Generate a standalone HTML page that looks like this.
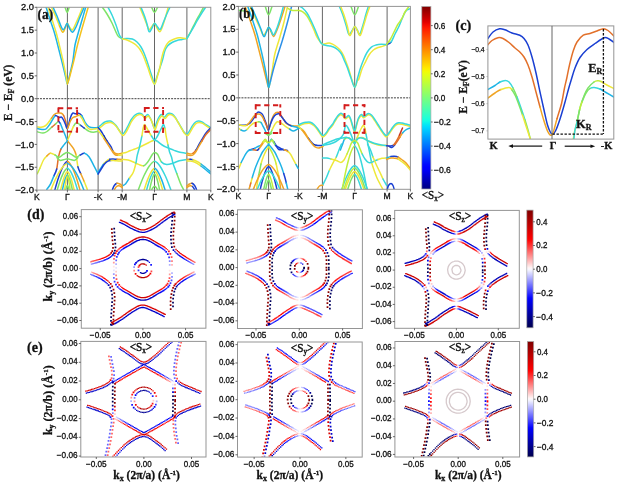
<!DOCTYPE html>
<html><head><meta charset="utf-8"><style>
html,body{margin:0;padding:0;background:#fff;}
svg{display:block;will-change:transform;}
</style></head><body>
<svg width="617" height="485" viewBox="0 0 617 485">
<rect width="617" height="485" fill="#fff"/>
<defs><linearGradient id="g0" x1="0" y1="0" x2="0" y2="1"><stop offset="0.000" stop-color="#800000"/><stop offset="0.017" stop-color="#930000"/><stop offset="0.034" stop-color="#a70000"/><stop offset="0.051" stop-color="#ba0000"/><stop offset="0.068" stop-color="#ce0000"/><stop offset="0.085" stop-color="#e20000"/><stop offset="0.102" stop-color="#f50b00"/><stop offset="0.119" stop-color="#ff1b00"/><stop offset="0.136" stop-color="#ff2b00"/><stop offset="0.153" stop-color="#ff3b00"/><stop offset="0.169" stop-color="#ff4b00"/><stop offset="0.186" stop-color="#ff5b00"/><stop offset="0.203" stop-color="#ff6b00"/><stop offset="0.220" stop-color="#ff7b00"/><stop offset="0.237" stop-color="#ff8b00"/><stop offset="0.254" stop-color="#ff9b00"/><stop offset="0.271" stop-color="#ffab00"/><stop offset="0.288" stop-color="#ffbb00"/><stop offset="0.305" stop-color="#ffcb00"/><stop offset="0.322" stop-color="#ffdb00"/><stop offset="0.339" stop-color="#ffeb00"/><stop offset="0.356" stop-color="#f2fb05"/><stop offset="0.373" stop-color="#e4ff13"/><stop offset="0.390" stop-color="#d6ff21"/><stop offset="0.407" stop-color="#c8ff2f"/><stop offset="0.424" stop-color="#baff3d"/><stop offset="0.441" stop-color="#acff4b"/><stop offset="0.458" stop-color="#9eff59"/><stop offset="0.475" stop-color="#90ff66"/><stop offset="0.492" stop-color="#82ff74"/><stop offset="0.508" stop-color="#74ff82"/><stop offset="0.525" stop-color="#66ff90"/><stop offset="0.542" stop-color="#59ff9e"/><stop offset="0.559" stop-color="#4bffac"/><stop offset="0.576" stop-color="#3dffba"/><stop offset="0.593" stop-color="#2fffc8"/><stop offset="0.610" stop-color="#21ffd6"/><stop offset="0.627" stop-color="#13fde4"/><stop offset="0.644" stop-color="#05ecf2"/><stop offset="0.661" stop-color="#00daff"/><stop offset="0.678" stop-color="#00c9ff"/><stop offset="0.695" stop-color="#00b8ff"/><stop offset="0.712" stop-color="#00a6ff"/><stop offset="0.729" stop-color="#0095ff"/><stop offset="0.746" stop-color="#0084ff"/><stop offset="0.763" stop-color="#0073ff"/><stop offset="0.780" stop-color="#0061ff"/><stop offset="0.797" stop-color="#0050ff"/><stop offset="0.814" stop-color="#003fff"/><stop offset="0.831" stop-color="#002dff"/><stop offset="0.847" stop-color="#001cff"/><stop offset="0.864" stop-color="#000bff"/><stop offset="0.881" stop-color="#0000ff"/><stop offset="0.898" stop-color="#0000f5"/><stop offset="0.915" stop-color="#0000e2"/><stop offset="0.932" stop-color="#0000ce"/><stop offset="0.949" stop-color="#0000ba"/><stop offset="0.966" stop-color="#0000a7"/><stop offset="0.983" stop-color="#000093"/><stop offset="1.000" stop-color="#000080"/></linearGradient></defs>
<rect x="421.8" y="6.5" width="9.1" height="182.5" fill="url(#g0)" stroke="#a8a8a8" stroke-width="0.7"/>
<line x1="430.9" y1="25.6" x2="432.7" y2="25.6" stroke="#444" stroke-width="0.8" />
<text x="433.9" y="28.5" font-size="8.2" font-family="Liberation Sans, sans-serif" font-weight="normal" fill="#111" text-anchor="start" stroke="#111" stroke-width="0.3" textLength="11.4" lengthAdjust="spacingAndGlyphs" >0.6</text>
<line x1="430.9" y1="49.7" x2="432.7" y2="49.7" stroke="#444" stroke-width="0.8" />
<text x="433.9" y="52.6" font-size="8.2" font-family="Liberation Sans, sans-serif" font-weight="normal" fill="#111" text-anchor="start" stroke="#111" stroke-width="0.3" textLength="11.4" lengthAdjust="spacingAndGlyphs" >0.4</text>
<line x1="430.9" y1="73.8" x2="432.7" y2="73.8" stroke="#444" stroke-width="0.8" />
<text x="433.9" y="76.7" font-size="8.2" font-family="Liberation Sans, sans-serif" font-weight="normal" fill="#111" text-anchor="start" stroke="#111" stroke-width="0.3" textLength="11.4" lengthAdjust="spacingAndGlyphs" >0.2</text>
<line x1="430.9" y1="97.9" x2="432.7" y2="97.9" stroke="#444" stroke-width="0.8" />
<text x="433.9" y="100.8" font-size="8.2" font-family="Liberation Sans, sans-serif" font-weight="normal" fill="#111" text-anchor="start" stroke="#111" stroke-width="0.3" textLength="11.4" lengthAdjust="spacingAndGlyphs" >0.0</text>
<line x1="430.9" y1="122" x2="432.7" y2="122" stroke="#444" stroke-width="0.8" />
<text x="433.9" y="124.9" font-size="8.2" font-family="Liberation Sans, sans-serif" font-weight="normal" fill="#111" text-anchor="start" stroke="#111" stroke-width="0.3" textLength="17" lengthAdjust="spacingAndGlyphs" >−0.2</text>
<line x1="430.9" y1="146.1" x2="432.7" y2="146.1" stroke="#444" stroke-width="0.8" />
<text x="433.9" y="149" font-size="8.2" font-family="Liberation Sans, sans-serif" font-weight="normal" fill="#111" text-anchor="start" stroke="#111" stroke-width="0.3" textLength="17" lengthAdjust="spacingAndGlyphs" >−0.4</text>
<line x1="430.9" y1="170.2" x2="432.7" y2="170.2" stroke="#444" stroke-width="0.8" />
<text x="433.9" y="173.1" font-size="8.2" font-family="Liberation Sans, sans-serif" font-weight="normal" fill="#111" text-anchor="start" stroke="#111" stroke-width="0.3" textLength="17" lengthAdjust="spacingAndGlyphs" >−0.6</text>
<text x="421.8" y="198.6" font-size="12.5" font-family="Liberation Serif, serif" fill="#111" stroke="#111" stroke-width="0.35" textLength="22.3" lengthAdjust="spacingAndGlyphs">&lt;S<tspan font-size="8" dy="2">x</tspan><tspan dy="-2">&gt;</tspan></text>
<defs><linearGradient id="g17" x1="0" y1="0" x2="0" y2="1"><stop offset="0.000" stop-color="#800000"/><stop offset="0.017" stop-color="#880000"/><stop offset="0.034" stop-color="#910000"/><stop offset="0.051" stop-color="#990000"/><stop offset="0.068" stop-color="#a20000"/><stop offset="0.085" stop-color="#ab0000"/><stop offset="0.102" stop-color="#b30000"/><stop offset="0.119" stop-color="#bc0000"/><stop offset="0.136" stop-color="#c50000"/><stop offset="0.153" stop-color="#cd0000"/><stop offset="0.169" stop-color="#d60000"/><stop offset="0.186" stop-color="#df0000"/><stop offset="0.203" stop-color="#e70000"/><stop offset="0.220" stop-color="#f00000"/><stop offset="0.237" stop-color="#f90000"/><stop offset="0.254" stop-color="#ff0404"/><stop offset="0.271" stop-color="#ff1616"/><stop offset="0.288" stop-color="#ff2727"/><stop offset="0.305" stop-color="#ff3838"/><stop offset="0.322" stop-color="#ff4949"/><stop offset="0.339" stop-color="#ff5b5b"/><stop offset="0.356" stop-color="#ff6c6c"/><stop offset="0.373" stop-color="#ff7d7d"/><stop offset="0.390" stop-color="#ff8f8f"/><stop offset="0.407" stop-color="#ffa0a0"/><stop offset="0.424" stop-color="#ffb1b1"/><stop offset="0.441" stop-color="#ffc2c2"/><stop offset="0.458" stop-color="#ffd4d4"/><stop offset="0.475" stop-color="#ffe5e5"/><stop offset="0.492" stop-color="#fff6f6"/><stop offset="0.508" stop-color="#f6f6ff"/><stop offset="0.525" stop-color="#e5e5ff"/><stop offset="0.542" stop-color="#d4d4ff"/><stop offset="0.559" stop-color="#c2c2ff"/><stop offset="0.576" stop-color="#b1b1ff"/><stop offset="0.593" stop-color="#a0a0ff"/><stop offset="0.610" stop-color="#8f8fff"/><stop offset="0.627" stop-color="#7d7dff"/><stop offset="0.644" stop-color="#6c6cff"/><stop offset="0.661" stop-color="#5b5bff"/><stop offset="0.678" stop-color="#4949ff"/><stop offset="0.695" stop-color="#3838ff"/><stop offset="0.712" stop-color="#2727ff"/><stop offset="0.729" stop-color="#1616ff"/><stop offset="0.746" stop-color="#0404ff"/><stop offset="0.763" stop-color="#0000f6"/><stop offset="0.780" stop-color="#0000ea"/><stop offset="0.797" stop-color="#0000de"/><stop offset="0.814" stop-color="#0000d2"/><stop offset="0.831" stop-color="#0000c6"/><stop offset="0.847" stop-color="#0000b9"/><stop offset="0.864" stop-color="#0000ad"/><stop offset="0.881" stop-color="#0000a1"/><stop offset="0.898" stop-color="#000095"/><stop offset="0.915" stop-color="#000089"/><stop offset="0.932" stop-color="#00007d"/><stop offset="0.949" stop-color="#000071"/><stop offset="0.966" stop-color="#000065"/><stop offset="0.983" stop-color="#000059"/><stop offset="1.000" stop-color="#00004c"/></linearGradient></defs>
<rect x="526.8" y="210.1" width="6.3" height="117.7" fill="url(#g17)" stroke="#a8a8a8" stroke-width="0.7"/>
<line x1="533.1" y1="221.8" x2="534.9" y2="221.8" stroke="#444" stroke-width="0.8" />
<text x="536.3" y="224.7" font-size="8.2" font-family="Liberation Sans, sans-serif" font-weight="normal" fill="#111" text-anchor="start" stroke="#111" stroke-width="0.3" textLength="11" lengthAdjust="spacingAndGlyphs" >0.4</text>
<line x1="533.1" y1="245.5" x2="534.9" y2="245.5" stroke="#444" stroke-width="0.8" />
<text x="536.3" y="248.4" font-size="8.2" font-family="Liberation Sans, sans-serif" font-weight="normal" fill="#111" text-anchor="start" stroke="#111" stroke-width="0.3" textLength="11" lengthAdjust="spacingAndGlyphs" >0.2</text>
<line x1="533.1" y1="269.2" x2="534.9" y2="269.2" stroke="#444" stroke-width="0.8" />
<text x="536.3" y="272.1" font-size="8.2" font-family="Liberation Sans, sans-serif" font-weight="normal" fill="#111" text-anchor="start" stroke="#111" stroke-width="0.3" textLength="11" lengthAdjust="spacingAndGlyphs" >0.0</text>
<line x1="533.1" y1="292.9" x2="534.9" y2="292.9" stroke="#444" stroke-width="0.8" />
<text x="536.3" y="295.8" font-size="8.2" font-family="Liberation Sans, sans-serif" font-weight="normal" fill="#111" text-anchor="start" stroke="#111" stroke-width="0.3" textLength="16.6" lengthAdjust="spacingAndGlyphs" >−0.2</text>
<line x1="533.1" y1="316.6" x2="534.9" y2="316.6" stroke="#444" stroke-width="0.8" />
<text x="536.3" y="319.5" font-size="8.2" font-family="Liberation Sans, sans-serif" font-weight="normal" fill="#111" text-anchor="start" stroke="#111" stroke-width="0.3" textLength="16.6" lengthAdjust="spacingAndGlyphs" >−0.4</text>
<defs><linearGradient id="g29" x1="0" y1="0" x2="0" y2="1"><stop offset="0.000" stop-color="#800000"/><stop offset="0.017" stop-color="#880000"/><stop offset="0.034" stop-color="#910000"/><stop offset="0.051" stop-color="#990000"/><stop offset="0.068" stop-color="#a20000"/><stop offset="0.085" stop-color="#ab0000"/><stop offset="0.102" stop-color="#b30000"/><stop offset="0.119" stop-color="#bc0000"/><stop offset="0.136" stop-color="#c50000"/><stop offset="0.153" stop-color="#cd0000"/><stop offset="0.169" stop-color="#d60000"/><stop offset="0.186" stop-color="#df0000"/><stop offset="0.203" stop-color="#e70000"/><stop offset="0.220" stop-color="#f00000"/><stop offset="0.237" stop-color="#f90000"/><stop offset="0.254" stop-color="#ff0404"/><stop offset="0.271" stop-color="#ff1616"/><stop offset="0.288" stop-color="#ff2727"/><stop offset="0.305" stop-color="#ff3838"/><stop offset="0.322" stop-color="#ff4949"/><stop offset="0.339" stop-color="#ff5b5b"/><stop offset="0.356" stop-color="#ff6c6c"/><stop offset="0.373" stop-color="#ff7d7d"/><stop offset="0.390" stop-color="#ff8f8f"/><stop offset="0.407" stop-color="#ffa0a0"/><stop offset="0.424" stop-color="#ffb1b1"/><stop offset="0.441" stop-color="#ffc2c2"/><stop offset="0.458" stop-color="#ffd4d4"/><stop offset="0.475" stop-color="#ffe5e5"/><stop offset="0.492" stop-color="#fff6f6"/><stop offset="0.508" stop-color="#f6f6ff"/><stop offset="0.525" stop-color="#e5e5ff"/><stop offset="0.542" stop-color="#d4d4ff"/><stop offset="0.559" stop-color="#c2c2ff"/><stop offset="0.576" stop-color="#b1b1ff"/><stop offset="0.593" stop-color="#a0a0ff"/><stop offset="0.610" stop-color="#8f8fff"/><stop offset="0.627" stop-color="#7d7dff"/><stop offset="0.644" stop-color="#6c6cff"/><stop offset="0.661" stop-color="#5b5bff"/><stop offset="0.678" stop-color="#4949ff"/><stop offset="0.695" stop-color="#3838ff"/><stop offset="0.712" stop-color="#2727ff"/><stop offset="0.729" stop-color="#1616ff"/><stop offset="0.746" stop-color="#0404ff"/><stop offset="0.763" stop-color="#0000f6"/><stop offset="0.780" stop-color="#0000ea"/><stop offset="0.797" stop-color="#0000de"/><stop offset="0.814" stop-color="#0000d2"/><stop offset="0.831" stop-color="#0000c6"/><stop offset="0.847" stop-color="#0000b9"/><stop offset="0.864" stop-color="#0000ad"/><stop offset="0.881" stop-color="#0000a1"/><stop offset="0.898" stop-color="#000095"/><stop offset="0.915" stop-color="#000089"/><stop offset="0.932" stop-color="#00007d"/><stop offset="0.949" stop-color="#000071"/><stop offset="0.966" stop-color="#000065"/><stop offset="0.983" stop-color="#000059"/><stop offset="1.000" stop-color="#00004c"/></linearGradient></defs>
<rect x="527.4" y="341.5" width="6.3" height="115.4" fill="url(#g29)" stroke="#a8a8a8" stroke-width="0.7"/>
<line x1="533.7" y1="351.8" x2="535.5" y2="351.8" stroke="#444" stroke-width="0.8" />
<text x="536.9" y="354.7" font-size="8.2" font-family="Liberation Sans, sans-serif" font-weight="normal" fill="#111" text-anchor="start" stroke="#111" stroke-width="0.3" textLength="11" lengthAdjust="spacingAndGlyphs" >0.4</text>
<line x1="533.7" y1="375.5" x2="535.5" y2="375.5" stroke="#444" stroke-width="0.8" />
<text x="536.9" y="378.4" font-size="8.2" font-family="Liberation Sans, sans-serif" font-weight="normal" fill="#111" text-anchor="start" stroke="#111" stroke-width="0.3" textLength="11" lengthAdjust="spacingAndGlyphs" >0.2</text>
<line x1="533.7" y1="399.2" x2="535.5" y2="399.2" stroke="#444" stroke-width="0.8" />
<text x="536.9" y="402.1" font-size="8.2" font-family="Liberation Sans, sans-serif" font-weight="normal" fill="#111" text-anchor="start" stroke="#111" stroke-width="0.3" textLength="11" lengthAdjust="spacingAndGlyphs" >0.0</text>
<line x1="533.7" y1="422.9" x2="535.5" y2="422.9" stroke="#444" stroke-width="0.8" />
<text x="536.9" y="425.8" font-size="8.2" font-family="Liberation Sans, sans-serif" font-weight="normal" fill="#111" text-anchor="start" stroke="#111" stroke-width="0.3" textLength="16.6" lengthAdjust="spacingAndGlyphs" >−0.2</text>
<line x1="533.7" y1="446.6" x2="535.5" y2="446.6" stroke="#444" stroke-width="0.8" />
<text x="536.9" y="449.5" font-size="8.2" font-family="Liberation Sans, sans-serif" font-weight="normal" fill="#111" text-anchor="start" stroke="#111" stroke-width="0.3" textLength="16.6" lengthAdjust="spacingAndGlyphs" >−0.4</text>
<line x1="36.9" y1="98.7" x2="210.8" y2="98.7" stroke="#2a2a2a" stroke-width="0.9" stroke-dasharray="2 1.05"/>
<line x1="67.4" y1="7.3" x2="67.4" y2="190.1" stroke="#666" stroke-width="1.0" />
<line x1="98.1" y1="7.3" x2="98.1" y2="190.1" stroke="#666" stroke-width="1.0" />
<line x1="122.2" y1="7.3" x2="122.2" y2="190.1" stroke="#666" stroke-width="1.0" />
<line x1="154.5" y1="7.3" x2="154.5" y2="190.1" stroke="#666" stroke-width="1.0" />
<line x1="186.9" y1="7.3" x2="186.9" y2="190.1" stroke="#666" stroke-width="1.0" />
<line x1="238.4" y1="97.85" x2="410.4" y2="97.85" stroke="#2a2a2a" stroke-width="0.9" stroke-dasharray="2 1.05"/>
<line x1="268.6" y1="6.4" x2="268.6" y2="189.3" stroke="#666" stroke-width="1.0" />
<line x1="298.5" y1="6.4" x2="298.5" y2="189.3" stroke="#666" stroke-width="1.0" />
<line x1="322.4" y1="6.4" x2="322.4" y2="189.3" stroke="#666" stroke-width="1.0" />
<line x1="354.7" y1="6.4" x2="354.7" y2="189.3" stroke="#666" stroke-width="1.0" />
<line x1="387.1" y1="6.4" x2="387.1" y2="189.3" stroke="#666" stroke-width="1.0" />
<defs><clipPath id="clipA"><rect x="36.9" y="7.3" width="173.9" height="182.8"/></clipPath></defs>
<g clip-path="url(#clipA)" fill="none" stroke-width="1.5" stroke-linecap="round" stroke-linejoin="round">
<path d="M46.1,7.3C46.83,9.58 49.1,16.72 50.5,21C51.9,25.28 53.3,29 54.5,33C55.7,37 56.62,40.83 57.7,45C58.78,49.17 59.95,53.83 61,58C62.05,62.17 63.13,66.42 64,70C64.87,73.58 65.63,77.17 66.2,79.5C66.77,81.83 67,84 67.4,84C67.8,84 68.07,81.67 68.6,79.5C69.13,77.33 69.87,74.25 70.6,71C71.33,67.75 72.27,64.33 73,60C73.73,55.67 74.08,49.67 75,45C75.92,40.33 77.33,36.17 78.5,32C79.67,27.83 80.8,24.12 82,20C83.2,15.88 85.08,9.42 85.7,7.3" stroke="#1fb4e6"/>
<path d="M48.2,7.3C48.92,9.58 51.15,16.72 52.5,21C53.85,25.28 55.17,29 56.3,33C57.43,37 58.28,40.83 59.3,45C60.32,49.17 61.47,53.83 62.4,58C63.33,62.17 64.18,66.42 64.9,70C65.62,73.58 66.28,77.17 66.7,79.5C67.12,81.83 67.03,84 67.4,84" stroke="#eee83a"/>
<path d="M67.4,84C67.77,84 68.27,81.67 68.9,79.5C69.53,77.33 70.35,74.25 71.2,71C72.05,67.75 72.95,64.33 74,60C75.05,55.67 76.33,49.67 77.5,45C78.67,40.33 79.83,36.17 81,32C82.17,27.83 83.3,24.12 84.5,20C85.7,15.88 87.58,9.42 88.2,7.3" stroke="#f4c21c"/>
<path d="M51.5,7.3C52.17,8.75 54.17,12.88 55.5,16C56.83,19.12 58.32,23.3 59.5,26" stroke="#eee83a"/>
<path d="M59.5,26C60.68,28.7 61.68,31.78 62.6,32.2C63.52,32.62 64.23,30 65,28.5C65.77,27 66.45,23.45 67.2,23.2" stroke="#f4c21c"/>
<path d="M67.2,23.2C67.95,22.95 68.62,25.9 69.5,27C70.38,28.1 71.42,30.47 72.5,29.8C73.58,29.13 74.83,25.47 76,23C77.17,20.53 78.43,17.62 79.5,15C80.57,12.38 81.92,8.58 82.4,7.3" stroke="#eee83a"/>
<path d="M53.1,7.3C53.75,8.75 55.77,13.05 57,16C58.23,18.95 59.5,22.7 60.5,25C61.5,27.3 62.22,29.47 63,29.8C63.78,30.13 64.5,28.1 65.2,27C65.9,25.9 66.48,22.95 67.2,23.2C67.92,23.45 68.62,27 69.5,28.5C70.38,30 71.42,32.45 72.5,32.2C73.58,31.95 74.75,29.53 76,27C77.25,24.47 78.65,20.28 80,17C81.35,13.72 83.42,8.92 84.1,7.3" stroke="#1fb4e6"/>
<path d="M65.1,7.3C65.45,8.15 66.52,12.4 67.2,12.4C67.88,12.4 68.87,8.15 69.2,7.3" stroke="#7ee468"/>
<path d="M102.4,7.3C103.17,8.42 105.4,11.38 107,14C108.6,16.62 110.22,19.4 112,23C113.78,26.6 116,32.98 117.7,35.6C119.4,38.22 121.45,38.18 122.2,38.7" stroke="#7ee468"/>
<path d="M108,7.3C108.67,8.58 110.67,12.05 112,15C113.33,17.95 114.77,21.67 116,25C117.23,28.33 118.37,32.72 119.4,35C120.43,37.28 121.73,38.08 122.2,38.7" stroke="#38d8dc"/>
<path d="M122.2,38.7C123,38.67 125.3,38.45 127,38.5C128.7,38.55 130.73,38.42 132.4,39C134.07,39.58 135.57,40.67 137,42C138.43,43.33 139.83,45.17 141,47C142.17,48.83 143.07,50.83 144,53C144.93,55.17 145.68,57.33 146.6,60C147.52,62.67 148.52,66 149.5,69C150.48,72 151.67,75.47 152.5,78C153.33,80.53 153.83,84.2 154.5,84.2C155.17,84.2 155.67,80.53 156.5,78C157.33,75.47 158.5,72 159.5,69C160.5,66 161.62,63 162.5,60C163.38,57 163.97,53.33 164.8,51C165.63,48.67 166.3,47.42 167.5,46C168.7,44.58 170.42,43.42 172,42.5C173.58,41.58 175.33,41 177,40.5C178.67,40 180.35,39.83 182,39.5C183.65,39.17 186.08,38.67 186.9,38.5" stroke="#38d8dc"/>
<path d="M122.2,38.7C123,38.92 125.37,39.38 127,40C128.63,40.62 130.5,41.57 132,42.4C133.5,43.23 134.67,43.82 136,45C137.33,46.18 138.83,47.83 140,49.5C141.17,51.17 142.17,53.25 143,55C143.83,56.75 144.17,57.83 145,60C145.83,62.17 147,65.17 148,68C149,70.83 149.92,74.3 151,77C152.08,79.7 153.42,84.37 154.5,84.2C155.58,84.03 156.58,78.87 157.5,76C158.42,73.13 159.37,69.67 160,67C160.63,64.33 160.8,62.33 161.3,60C161.8,57.67 162.47,54.88 163,53C163.53,51.12 163.83,50.2 164.5,48.7C165.17,47.2 166.08,45.28 167,44C167.92,42.72 168.3,42.02 170,41C171.7,39.98 175.2,38.4 177.2,37.9C179.2,37.4 180.38,37.9 182,38C183.62,38.1 186.08,38.42 186.9,38.5" stroke="#eee83a"/>
<path d="M186.9,38.5C187.58,37.25 189.57,33.75 191,31C192.43,28.25 194.02,24.83 195.5,22C196.98,19.17 198.57,16.45 199.9,14C201.23,11.55 202.9,8.42 203.5,7.3" stroke="#7ee468"/>
<path d="M186.9,38.5C187.75,37.08 190.32,32.92 192,30C193.68,27.08 195.42,23.75 197,21C198.58,18.25 200.07,15.78 201.5,13.5C202.93,11.22 204.92,8.33 205.6,7.3" stroke="#38d8dc"/>
<path d="M139.8,7.3C140.33,8.58 141.93,12.38 143,15C144.07,17.62 145.22,20.6 146.2,23C147.18,25.4 148.02,28.73 148.9,29.4C149.78,30.07 150.57,28.03 151.5,27C152.43,25.97 153.58,23.03 154.5,23.2C155.42,23.37 156.08,26.58 157,28C157.92,29.42 159,32.2 160,31.7C161,31.2 162.03,27.62 163,25C163.97,22.38 164.93,18.95 165.8,16C166.67,13.05 167.8,8.75 168.2,7.3" stroke="#eee83a"/>
<path d="M141,7.3C141.58,8.75 143.5,13.22 144.5,16C145.5,18.78 146.22,21.38 147,24C147.78,26.62 148.37,31.03 149.2,31.7C150.03,32.37 151.12,29.42 152,28C152.88,26.58 153.63,23.45 154.5,23.2C155.37,22.95 156.25,25.47 157.2,26.5C158.15,27.53 159.15,30.15 160.2,29.4C161.25,28.65 162.4,24.57 163.5,22C164.6,19.43 165.73,16.45 166.8,14C167.87,11.55 169.38,8.42 169.9,7.3" stroke="#38d8dc"/>
<path d="M151.7,7.3C152.17,8.15 153.53,12.4 154.5,12.4C155.47,12.4 157,8.15 157.5,7.3" stroke="#7ee468"/>
<path d="M37.2,127C37.83,127.03 39.7,127.37 41,127.2C42.3,127.03 43.83,126.7 45,126C46.17,125.3 46.92,124.3 48,123C49.08,121.7 50.5,119.57 51.5,118.2" stroke="#eee83a"/>
<path d="M51.5,118.2C52.5,116.83 53.25,115.6 54,114.8C54.75,114 55.25,113.68 56,113.4C56.75,113.12 57.6,113.12 58.5,113.1C59.4,113.08 60.55,112.9 61.4,113.3C62.25,113.7 62.9,114.22 63.6,115.5" stroke="#f0a424"/>
<path d="M63.6,115.5C64.3,116.78 64.97,118.83 65.6,121C66.23,123.17 66.63,128.97 67.4,128.5" stroke="#e2702a"/>
<path d="M67.4,128.5C68.17,128.03 69.32,120.75 70.2,118.2C71.08,115.65 71.82,113.93 72.7,113.2C73.58,112.47 74.53,113.8 75.5,113.8C76.47,113.8 77.45,112.88 78.5,113.2C79.55,113.52 80.7,114.18 81.8,115.7" stroke="#1a3fd2"/>
<path d="M81.8,115.7C82.9,117.22 83.87,120.43 85.1,122.3C86.33,124.17 87.55,126 89.2,126.9C90.85,127.8 93.52,127.63 95,127.7C96.48,127.77 97.58,127.37 98.1,127.3" stroke="#1fb4e6"/>
<path d="M37.2,128.5C38,128.67 40.53,129.42 42,129.5C43.47,129.58 44.67,129.92 46,129C47.33,128.08 48.75,125.83 50,124C51.25,122.17 52.58,119.42 53.5,118C54.42,116.58 54.83,115.75 55.5,115.5" stroke="#1fb4e6"/>
<path d="M55.5,115.5C56.17,115.25 56.83,116.18 57.5,116.5C58.17,116.82 58.83,117.28 59.5,117.4C60.17,117.52 60.83,116.77 61.5,117.2C62.17,117.63 62.83,118.78 63.5,120C64.17,121.22 64.85,123.08 65.5,124.5C66.15,125.92 66.62,129 67.4,128.5" stroke="#1a3fd2"/>
<path d="M67.4,128.5C68.18,128 69.32,123.28 70.2,121.5C71.08,119.72 71.73,118.63 72.7,117.8C73.67,116.97 74.9,116.92 76,116.5C77.1,116.08 78.33,115.02 79.3,115.3" stroke="#f0a424"/>
<path d="M79.3,115.3C80.27,115.58 80.7,116.48 81.8,118.2C82.9,119.92 84.53,123.75 85.9,125.6C87.27,127.45 88.48,128.75 90,129.3C91.52,129.85 93.65,129.1 95,128.9C96.35,128.7 97.58,128.23 98.1,128.1" stroke="#eee83a"/>
<path d="M37.2,131.8C38.17,132 41.37,133.05 43,133C44.63,132.95 45.5,132.5 47,131.5C48.5,130.5 50.58,128.25 52,127" stroke="#7ee468"/>
<path d="M52,127C53.42,125.75 54.42,124.92 55.5,124" stroke="#e2702a"/>
<path d="M55.5,124C56.58,123.08 57.67,121.5 58.5,121.5" stroke="#7ee468"/>
<path d="M58.5,121.5C59.33,121.5 59.75,122.58 60.5,124" stroke="#1a3fd2"/>
<path d="M60.5,124C61.25,125.42 62.17,128 63,130C63.83,132 64.77,134.25 65.5,136C66.23,137.75 66.6,139.1 67.4,140.5" stroke="#1fb4e6"/>
<path d="M67.4,140.5C68.2,141.9 69.23,142.97 70.3,144.4C71.37,145.83 72.83,147.33 73.8,149.1C74.77,150.87 75.42,152.07 76.1,155" stroke="#f0a424"/>
<path d="M76.1,155C76.78,157.93 77.12,163.57 77.9,166.7" stroke="#eee83a"/>
<path d="M77.9,166.7C78.68,169.83 79.72,171.25 80.8,173.8" stroke="#1a3fd2"/>
<path d="M80.8,173.8C81.88,176.35 83.32,179.4 84.4,182" stroke="#f0a424"/>
<path d="M84.4,182C85.48,184.6 86.82,188.17 87.3,189.4" stroke="#eee83a"/>
<path d="M98.1,131.4C97.3,131.53 94.78,132.2 93.3,132.2C91.82,132.2 90.7,132.08 89.2,131.4C87.7,130.72 85.82,129.2 84.3,128.1" stroke="#7ee468"/>
<path d="M84.3,128.1C82.78,127 81.42,125.7 80.1,124.8" stroke="#1a3fd2"/>
<path d="M80.1,124.8C78.78,123.9 77.5,122.43 76.4,122.7C75.3,122.97 74.53,124.53 73.5,126.4" stroke="#7ee468"/>
<path d="M73.5,126.4C72.47,128.27 71.22,131.55 70.2,133.9C69.18,136.25 68.37,138.75 67.4,140.5" stroke="#eee83a"/>
<path d="M67.4,140.5C66.43,142.25 65.48,142.97 64.4,144.4C63.32,145.83 61.88,147 60.9,149.1" stroke="#1fb4e6"/>
<path d="M60.9,149.1C59.92,151.2 59.2,153.68 58.5,157C57.8,160.32 57.48,165.82 56.7,169" stroke="#e2702a"/>
<path d="M56.7,169C55.92,172.18 54.87,173.53 53.8,176.1" stroke="#1a3fd2"/>
<path d="M53.8,176.1C52.73,178.67 51.47,182.18 50.3,184.4C49.13,186.62 47.38,188.57 46.8,189.4" stroke="#1fb4e6"/>
<path d="M37.2,173.8C37.67,172.83 38.95,170.3 40,168" stroke="#c0ee3c"/>
<path d="M40,168C41.05,165.7 42.37,162 43.5,160C44.63,158 45.67,157.13 46.8,156" stroke="#eee83a"/>
<path d="M46.8,156C47.93,154.87 48.93,153.37 50.3,153.2" stroke="#f0a424"/>
<path d="M50.3,153.2C51.67,153.03 53.53,154.32 55,155" stroke="#eee83a"/>
<path d="M55,155C56.47,155.68 57.73,157.4 59.1,157.3C60.47,157.2 61.82,155.18 63.2,154.4C64.58,153.62 66.02,152.6 67.4,152.6C68.78,152.6 70.05,153.62 71.5,154.4C72.95,155.18 74.65,157.2 76.1,157.3C77.55,157.4 78.82,155.68 80.2,155" stroke="#7ee468"/>
<path d="M80.2,155C81.58,154.32 82.93,152.92 84.4,153.2" stroke="#1a3fd2"/>
<path d="M84.4,153.2C85.87,153.48 87.43,154.63 89,156.7C90.57,158.77 92.28,162.75 93.8,165.6C95.32,168.45 97.38,172.43 98.1,173.8" stroke="#1fb4e6"/>
<path d="M57,157.6C57.5,158.05 58.92,159.93 60,160.3C61.08,160.67 62.27,160.05 63.5,159.8C64.73,159.55 66.1,158.8 67.4,158.8C68.7,158.8 70.07,159.55 71.3,159.8C72.53,160.05 73.72,160.67 74.8,160.3C75.88,159.93 77.3,158.05 77.8,157.6" stroke="#7ee468"/>
<path d="M54.8,190C55.15,188.79 56.2,185.02 56.9,182.74C57.6,180.46 58.3,178.3 59,176.3C59.7,174.31 60.4,172.44 61.1,170.77C61.8,169.09 62.5,167.55 63.2,166.25C63.9,164.94 64.6,163.76 65.3,162.93C66,162.11 66.7,161.3 67.4,161.3" stroke="#1a3fd2"/>
<path d="M67.4,161.3C68.1,161.3 68.8,162.11 69.5,162.93C70.2,163.76 70.9,164.94 71.6,166.25C72.3,167.55 73,169.09 73.7,170.77C74.4,172.44 75.1,174.31 75.8,176.3C76.5,178.3 77.2,180.46 77.9,182.74C78.6,185.02 79.65,188.79 80,190" stroke="#f0a424"/>
<path d="M57.2,190C57.48,189.08 58.33,186.22 58.9,184.48C59.47,182.75 60.03,181.11 60.6,179.59C61.17,178.08 61.73,176.66 62.3,175.39C62.87,174.12 63.43,172.95 64,171.96C64.57,170.97 65.13,170.07 65.7,169.44C66.27,168.81 66.83,168.2 67.4,168.2" stroke="#7ee468"/>
<path d="M67.4,168.2C67.97,168.2 68.53,168.81 69.1,169.44C69.67,170.07 70.23,170.97 70.8,171.96C71.37,172.95 71.93,174.12 72.5,175.39C73.07,176.66 73.63,178.08 74.2,179.59C74.77,181.11 75.33,182.75 75.9,184.48C76.47,186.22 77.32,189.08 77.6,190" stroke="#38d8dc"/>
<path d="M60.6,190C60.79,189.23 61.36,186.83 61.73,185.37C62.11,183.91 62.49,182.54 62.87,181.27C63.24,179.99 63.62,178.81 64,177.74C64.38,176.67 64.76,175.69 65.13,174.86C65.51,174.02 65.89,173.27 66.27,172.74C66.64,172.21 67.02,171.7 67.4,171.7C67.78,171.7 68.16,172.21 68.53,172.74C68.91,173.27 69.29,174.02 69.67,174.86C70.04,175.69 70.42,176.67 70.8,177.74C71.18,178.81 71.56,179.99 71.93,181.27C72.31,182.54 72.69,183.91 73.07,185.37C73.44,186.83 74.01,189.23 74.2,190" stroke="#eee83a"/>
<path d="M62.4,190C62.54,189.37 62.96,187.42 63.23,186.23C63.51,185.04 63.79,183.92 64.07,182.89C64.34,181.85 64.62,180.89 64.9,180.02C65.18,179.15 65.46,178.35 65.73,177.67C66.01,176.99 66.29,176.38 66.57,175.95C66.84,175.52 67.12,175.1 67.4,175.1" stroke="#1fb4e6"/>
<path d="M67.4,175.1C67.68,175.1 67.96,175.52 68.23,175.95C68.51,176.38 68.79,176.99 69.07,177.67C69.34,178.35 69.62,179.15 69.9,180.02C70.18,180.89 70.46,181.85 70.73,182.89C71.01,183.92 71.29,185.04 71.57,186.23C71.84,187.42 72.26,189.37 72.4,190" stroke="#7ee468"/>
<path d="M64.6,190C64.68,189.43 64.91,187.66 65.07,186.58C65.22,185.51 65.38,184.49 65.53,183.56C65.69,182.62 65.84,181.74 66,180.95C66.16,180.17 66.31,179.44 66.47,178.83C66.62,178.21 66.78,177.66 66.93,177.27C67.09,176.88 67.24,176.5 67.4,176.5" stroke="#eee83a"/>
<path d="M67.4,176.5C67.56,176.5 67.71,176.88 67.87,177.27C68.02,177.66 68.18,178.21 68.33,178.83C68.49,179.44 68.64,180.17 68.8,180.95C68.96,181.74 69.11,182.62 69.27,183.56C69.42,184.49 69.58,185.51 69.73,186.58C69.89,187.66 70.12,189.43 70.2,190" stroke="#c0ee3c"/>
<path d="M65.8,190C65.84,189.81 65.98,189.22 66.07,188.86C66.16,188.5 66.24,188.16 66.33,187.85C66.42,187.54 66.51,187.25 66.6,186.98C66.69,186.72 66.78,186.48 66.87,186.28C66.96,186.07 67.04,185.89 67.13,185.76C67.22,185.63 67.31,185.5 67.4,185.5C67.49,185.5 67.58,185.63 67.67,185.76C67.76,185.89 67.84,186.07 67.93,186.28C68.02,186.48 68.11,186.72 68.2,186.98C68.29,187.25 68.38,187.54 68.47,187.85C68.56,188.16 68.64,188.5 68.73,188.86C68.82,189.22 68.96,189.81 69,190" stroke="#7ee468"/>
<path d="M50.9,190C51.36,188.88 52.73,185.4 53.65,183.3C54.57,181.19 55.48,179.19 56.4,177.35C57.32,175.51 58.23,173.79 59.15,172.24C60.07,170.69 60.98,169.28 61.9,168.07C62.82,166.86 63.73,165.77 64.65,165.01C65.57,164.25 66.48,163.5 67.4,163.5" stroke="#eee83a"/>
<path d="M67.4,163.5C68.32,163.5 69.23,164.25 70.15,165.01C71.07,165.77 71.98,166.86 72.9,168.07C73.82,169.28 74.73,170.69 75.65,172.24C76.57,173.79 77.48,175.51 78.4,177.35C79.32,179.19 80.23,181.19 81.15,183.3C82.07,185.4 83.44,188.88 83.9,190" stroke="#1fb4e6"/>
<path d="M98.1,127.6C98.58,127.17 100.02,125.85 101,125C101.98,124.15 103,123.12 104,122.5C105,121.88 105.95,121.53 107,121.3C108.05,121.07 109.3,120.9 110.3,121.1C111.3,121.3 112.05,121.77 113,122.5C113.95,123.23 115,124.25 116,125.5C117,126.75 117.97,128.55 119,130C120.03,131.45 121.2,133.95 122.2,134.2C123.2,134.45 124.03,132.87 125,131.5C125.97,130.13 127,127.92 128,126C129,124.08 130,121.67 131,120C132,118.33 133,117.03 134,116C135,114.97 136.12,114.27 137,113.8C137.88,113.33 138.47,113.13 139.3,113.2C140.13,113.27 141.15,113.53 142,114.2C142.85,114.87 143.68,116.98 144.4,117.2C145.12,117.42 145.7,115.92 146.3,115.5C146.9,115.08 147.3,114.2 148,114.7C148.7,115.2 149.75,117.03 150.5,118.5C151.25,119.97 151.85,121.82 152.5,123.5C153.15,125.18 153.77,128.6 154.4,128.6C155.03,128.6 155.67,125.18 156.3,123.5C156.93,121.82 157.43,119.97 158.2,118.5C158.97,117.03 160.18,115.2 160.9,114.7C161.62,114.2 161.9,115.08 162.5,115.5C163.1,115.92 163.75,117.42 164.5,117.2C165.25,116.98 166.2,114.87 167,114.2C167.8,113.53 168.47,113.23 169.3,113.2C170.13,113.17 171.05,113.37 172,114C172.95,114.63 174,115.67 175,117C176,118.33 176.92,120.17 178,122C179.08,123.83 180.5,126.33 181.5,128C182.5,129.67 183.1,130.97 184,132C184.9,133.03 185.98,134.37 186.9,134.2C187.82,134.03 188.65,132.28 189.5,131C190.35,129.72 191.08,127.92 192,126.5C192.92,125.08 193.92,123.4 195,122.5C196.08,121.6 197.33,121.18 198.5,121.1C199.67,121.02 200.92,121.52 202,122C203.08,122.48 204,123.33 205,124C206,124.67 207.02,125.4 208,126C208.98,126.6 210.42,127.33 210.9,127.6" stroke="#38d8dc"/>
<path d="M98.7,129C99.18,128.57 100.62,127.25 101.6,126.4C102.58,125.55 103.6,124.52 104.6,123.9C105.6,123.28 106.55,122.93 107.6,122.7C108.65,122.47 109.9,122.3 110.9,122.5C111.9,122.7 112.65,123.17 113.6,123.9C114.55,124.63 115.6,125.65 116.6,126.9C117.6,128.15 118.57,129.95 119.6,131.4C120.63,132.85 121.8,135.35 122.8,135.6C123.8,135.85 124.63,134.27 125.6,132.9C126.57,131.53 127.6,129.32 128.6,127.4C129.6,125.48 130.6,123.07 131.6,121.4C132.6,119.73 133.6,118.43 134.6,117.4C135.6,116.37 136.72,115.67 137.6,115.2C138.48,114.73 139.07,114.53 139.9,114.6C140.73,114.67 141.75,114.93 142.6,115.6C143.45,116.27 144.28,118.38 145,118.6C145.72,118.82 146.3,117.32 146.9,116.9C147.5,116.48 147.9,115.6 148.6,116.1C149.3,116.6 150.35,118.43 151.1,119.9C151.85,121.37 152.45,123.22 153.1,124.9C153.75,126.58 154.37,130 155,130C155.63,130 156.27,126.58 156.9,124.9C157.53,123.22 158.03,121.37 158.8,119.9C159.57,118.43 160.78,116.6 161.5,116.1C162.22,115.6 162.5,116.48 163.1,116.9C163.7,117.32 164.35,118.82 165.1,118.6C165.85,118.38 166.8,116.27 167.6,115.6C168.4,114.93 169.07,114.63 169.9,114.6C170.73,114.57 171.65,114.77 172.6,115.4C173.55,116.03 174.6,117.07 175.6,118.4C176.6,119.73 177.52,121.57 178.6,123.4C179.68,125.23 181.1,127.73 182.1,129.4C183.1,131.07 183.7,132.37 184.6,133.4C185.5,134.43 186.58,135.77 187.5,135.6C188.42,135.43 189.25,133.68 190.1,132.4C190.95,131.12 191.68,129.32 192.6,127.9C193.52,126.48 194.52,124.8 195.6,123.9C196.68,123 197.93,122.58 199.1,122.5C200.27,122.42 201.52,122.92 202.6,123.4C203.68,123.88 204.6,124.73 205.6,125.4C206.6,126.07 207.62,126.8 208.6,127.4C209.58,128 211.02,128.73 211.5,129" stroke="#eee83a"/>
<path d="M98.1,127.6C98.58,128.17 100.02,129.6 101,131C101.98,132.4 103,134.33 104,136" stroke="#1a3fd2"/>
<path d="M104,136C105,137.67 105.87,139.27 107,141" stroke="#1030a8"/>
<path d="M107,141C108.13,142.73 109.8,144.73 110.8,146.4C111.8,148.07 112.22,149.82 113,151" stroke="#1a3fd2"/>
<path d="M113,151C113.78,152.18 114.58,153 115.5,153.5C116.42,154 117.38,154.03 118.5,154C119.62,153.97 120.95,153.55 122.2,153.3" stroke="#f0a424"/>
<path d="M122.2,153.3C123.45,153.05 124.7,152.92 126,152.5C127.3,152.08 128.5,151.38 130,150.8C131.5,150.22 133.33,149.63 135,149C136.67,148.37 138.33,147.75 140,147C141.67,146.25 143.5,145.25 145,144.5C146.5,143.75 147.83,143.08 149,142.5C150.17,141.92 151.1,141.38 152,141C152.9,140.62 153.57,140.2 154.4,140.2" stroke="#eee83a"/>
<path d="M154.4,140.2C155.23,140.2 156.07,140.47 157,141C157.93,141.53 159,142.65 160,143.4C161,144.15 161.9,144.85 163,145.5C164.1,146.15 165.43,146.75 166.6,147.3C167.77,147.85 168.73,148.28 170,148.8C171.27,149.32 172.53,149.82 174.2,150.4C175.87,150.98 178.28,151.87 180,152.3C181.72,152.73 183.35,152.83 184.5,153C185.65,153.17 185.98,153.13 186.9,153.3" stroke="#38d8dc"/>
<path d="M186.9,153.3C187.82,153.47 188.98,154 190,154C191.02,154 192,153.97 193,153.3" stroke="#f0a424"/>
<path d="M193,153.3C194,152.63 195.08,151.33 196,150" stroke="#e2702a"/>
<path d="M196,150C196.92,148.67 197.5,147.05 198.5,145.3C199.5,143.55 200.75,141.55 202,139.5C203.25,137.45 204.52,134.98 206,133C207.48,131.02 210.08,128.5 210.9,127.6" stroke="#1a3fd2"/>
<path d="M98.1,172C98.58,171.33 100.02,169.42 101,168C101.98,166.58 103,164.75 104,163.5" stroke="#1fb4e6"/>
<path d="M104,163.5C105,162.25 106.07,161.2 107,160.5C107.93,159.8 108.6,159.55 109.6,159.3" stroke="#eee83a"/>
<path d="M109.6,159.3C110.6,159.05 111.77,159 113,159C114.23,159 115.47,159.23 117,159.3" stroke="#1a3fd2"/>
<path d="M117,159.3C118.53,159.37 120.33,159.28 122.2,159.4" stroke="#f0a424"/>
<path d="M122.2,159.4C124.07,159.52 125.92,159.37 128.2,160C130.48,160.63 133.93,162.37 135.9,163.2C137.87,164.03 138.72,164.57 140,165C141.28,165.43 142.52,166.05 143.6,165.8" stroke="#eee83a"/>
<path d="M143.6,165.8C144.68,165.55 145.65,164.35 146.5,163.5C147.35,162.65 147.7,162.23 148.7,160.7C149.7,159.17 151.5,155.68 152.5,154.3C153.5,152.92 153.85,152.4 154.7,152.4C155.55,152.4 156.47,152.7 157.6,154.3C158.73,155.9 160,160.3 161.5,162" stroke="#7ee468"/>
<path d="M161.5,162C163,163.7 164.68,164.3 166.6,164.5C168.52,164.7 170.88,163.83 173,163.2C175.12,162.57 176.98,161.33 179.3,160.7C181.62,160.07 185.12,159.63 186.9,159.4" stroke="#38d8dc"/>
<path d="M186.9,159.4C188.68,159.17 188.98,159.23 190,159.3" stroke="#f0a424"/>
<path d="M190,159.3C191.02,159.37 191.83,159.43 193,159.8" stroke="#1a3fd2"/>
<path d="M193,159.8C194.17,160.17 195.67,160.8 197,161.5C198.33,162.2 199.58,163 201,164" stroke="#eee83a"/>
<path d="M201,164C202.42,165 203.85,166.17 205.5,167.5C207.15,168.83 210,171.25 210.9,172" stroke="#1fb4e6"/>
<path d="M122.2,186C122.78,185.62 124.48,185.03 125.7,183.7C126.92,182.37 128.23,179.92 129.5,178" stroke="#1fb4e6"/>
<path d="M129.5,178C130.77,176.08 132.23,174.67 133.3,172.2C134.37,169.73 135.25,165.97 135.9,163.2" stroke="#eee83a"/>
<path d="M135.9,163.2C136.55,160.43 136.6,158.3 137.2,155.6C137.8,152.9 138.72,150.3 139.5,147C140.28,143.7 141.28,138.97 141.9,135.8" stroke="#38d8dc"/>
<path d="M141.9,135.8C142.52,132.63 142.78,129.88 143.2,128C143.62,126.12 143.85,124.58 144.4,124.5C144.95,124.42 145.73,126.25 146.5,127.5C147.27,128.75 148.17,130.58 149,132C149.83,133.42 150.6,134.67 151.5,136" stroke="#eee83a"/>
<path d="M151.5,136C152.4,137.33 153.4,140 154.4,140C155.4,140 156.57,137.5 157.5,136C158.43,134.5 159.25,132.5 160,131C160.75,129.5 161.42,128.08 162,127C162.58,125.92 163,124.25 163.5,124.5C164,124.75 164.57,126.62 165,128.5" stroke="#38d8dc"/>
<path d="M165,128.5C165.43,130.38 165.6,133.05 166.1,135.8C166.6,138.55 167.43,142.35 168,145" stroke="#eee83a"/>
<path d="M168,145C168.57,147.65 168.92,149.7 169.5,151.7C170.08,153.7 170.92,155.08 171.5,157C172.08,158.92 172.12,160.45 173,163.2C173.88,165.95 175.53,170.08 176.8,173.5" stroke="#38d8dc"/>
<path d="M176.8,173.5C178.07,176.92 179.48,181.05 180.6,183.7C181.72,186.35 183.02,188.45 183.5,189.4" stroke="#7ee468"/>
<path d="M138.3,190C138.75,188.79 140.11,185.02 141.02,182.74C141.92,180.46 142.83,178.3 143.73,176.3C144.64,174.31 145.54,172.44 146.45,170.77C147.36,169.09 148.26,167.55 149.17,166.25C150.07,164.94 150.98,163.76 151.88,162.93C152.79,162.11 153.69,161.3 154.6,161.3" stroke="#7ee468"/>
<path d="M154.6,161.3C155.51,161.3 156.41,162.11 157.32,162.93C158.22,163.76 159.13,164.94 160.03,166.25C160.94,167.55 161.84,169.09 162.75,170.77C163.66,172.44 164.56,174.31 165.47,176.3C166.37,178.3 167.28,180.46 168.18,182.74C169.09,185.02 170.45,188.79 170.9,190" stroke="#38d8dc"/>
<path d="M144.1,190C144.39,189.08 145.27,186.24 145.85,184.51C146.43,182.78 147.02,181.15 147.6,179.64C148.18,178.13 148.77,176.73 149.35,175.46C149.93,174.19 150.52,173.03 151.1,172.04C151.68,171.05 152.27,170.16 152.85,169.53C153.43,168.91 154.02,168.3 154.6,168.3" stroke="#eee83a"/>
<path d="M154.6,168.3C155.18,168.3 155.77,168.91 156.35,169.53C156.93,170.16 157.52,171.05 158.1,172.04C158.68,173.03 159.27,174.19 159.85,175.46C160.43,176.73 161.02,178.13 161.6,179.64C162.18,181.15 162.77,182.78 163.35,184.51C163.93,186.24 164.81,189.08 165.1,190" stroke="#1fb4e6"/>
<path d="M146.6,190C146.82,189.2 147.49,186.7 147.93,185.19C148.38,183.68 148.82,182.25 149.27,180.93C149.71,179.61 150.16,178.38 150.6,177.27C151.04,176.16 151.49,175.14 151.93,174.28C152.38,173.41 152.82,172.63 153.27,172.08C153.71,171.53 154.16,171 154.6,171" stroke="#38d8dc"/>
<path d="M154.6,171C155.04,171 155.49,171.53 155.93,172.08C156.38,172.63 156.82,173.41 157.27,174.28C157.71,175.14 158.16,176.16 158.6,177.27C159.04,178.38 159.49,179.61 159.93,180.93C160.38,182.25 160.82,183.68 161.27,185.19C161.71,186.7 162.38,189.2 162.6,190" stroke="#eee83a"/>
<path d="M149.6,190C149.74,189.33 150.16,187.22 150.43,185.95C150.71,184.68 150.99,183.48 151.27,182.36C151.54,181.25 151.82,180.21 152.1,179.28C152.38,178.34 152.66,177.49 152.93,176.76C153.21,176.03 153.49,175.37 153.77,174.91C154.04,174.45 154.32,174 154.6,174C154.88,174 155.16,174.45 155.43,174.91C155.71,175.37 155.99,176.03 156.27,176.76C156.54,177.49 156.82,178.34 157.1,179.28C157.38,180.21 157.66,181.25 157.93,182.36C158.21,183.48 158.49,184.68 158.77,185.95C159.04,187.22 159.46,189.33 159.6,190" stroke="#7ee468"/>
<path d="M151.6,190C151.68,189.84 151.93,189.34 152.1,189.04C152.27,188.74 152.43,188.45 152.6,188.19C152.77,187.92 152.93,187.68 153.1,187.45C153.27,187.23 153.43,187.03 153.6,186.86C153.77,186.68 153.93,186.53 154.1,186.42C154.27,186.31 154.43,186.2 154.6,186.2C154.77,186.2 154.93,186.31 155.1,186.42C155.27,186.53 155.43,186.68 155.6,186.86C155.77,187.03 155.93,187.23 156.1,187.45C156.27,187.68 156.43,187.92 156.6,188.19C156.77,188.45 156.93,188.74 157.1,189.04C157.27,189.34 157.52,189.84 157.6,190" stroke="#7ee468"/>
<path d="M112.5,189.4C112.8,188.75 113.55,186.52 114.3,185.5C115.05,184.48 116.08,183.55 117,183.3" stroke="#1a3fd2"/>
<path d="M117,183.3C117.92,183.05 118.93,183.55 119.8,184C120.67,184.45 121.8,185.67 122.2,186" stroke="#f0a424"/>
<path d="M186.9,186C187.33,185.67 188.65,184.45 189.5,184C190.35,183.55 191.15,183.05 192,183.3" stroke="#f0a424"/>
<path d="M192,183.3C192.85,183.55 193.85,184.48 194.6,185.5C195.35,186.52 196.18,188.75 196.5,189.4" stroke="#1a3fd2"/>
<path d="M114.5,189.4C114.83,188.92 115.75,187.1 116.5,186.5C117.25,185.9 118.05,185.63 119,185.8C119.95,185.97 121.67,187.22 122.2,187.5" stroke="#f0a424"/>
<path d="M186.9,187.5C187.42,187.22 189.07,185.97 190,185.8C190.93,185.63 191.75,185.9 192.5,186.5" stroke="#f0a424"/>
<path d="M192.5,186.5C193.25,187.1 194.17,188.92 194.5,189.4" stroke="#1a3fd2"/>
<path d="M98.1,130.5C98.58,131.08 100.02,132.67 101,134C101.98,135.33 103,137 104,138.5" stroke="#eee83a"/>
<path d="M104,138.5C105,140 105.92,141.33 107,143C108.08,144.67 109.5,146.92 110.5,148.5C111.5,150.08 112.17,151.42 113,152.5C113.83,153.58 114.58,154.53 115.5,155C116.42,155.47 117.38,155.33 118.5,155.3" stroke="#f0a424"/>
<path d="M118.5,155.3C119.62,155.27 121.58,154.88 122.2,154.8" stroke="#eee83a"/>
<path d="M98.1,174C98.67,173.08 100.43,170.17 101.5,168.5C102.57,166.83 103.5,165.2 104.5,164C105.5,162.8 106.42,161.88 107.5,161.3C108.58,160.72 109.75,160.6 111,160.5" stroke="#1a3fd2"/>
<path d="M111,160.5C112.25,160.4 113.75,160.62 115,160.7C116.25,160.78 117.3,160.95 118.5,161C119.7,161.05 121.58,161 122.2,161" stroke="#eee83a"/>
<path d="M186.9,155C187.42,155.08 188.98,155.5 190,155.5C191.02,155.5 192,155.67 193,155C194,154.33 195.08,152.83 196,151.5C196.92,150.17 197.5,148.75 198.5,147C199.5,145.25 200.75,143.08 202,141" stroke="#f0a424"/>
<path d="M202,141C203.25,138.92 204.52,136.42 206,134.5C207.48,132.58 210.08,130.33 210.9,129.5" stroke="#e2702a"/>
<path d="M186.9,161C187.42,161 188.98,160.92 190,161C191.02,161.08 191.83,161.12 193,161.5C194.17,161.88 195.67,162.55 197,163.3C198.33,164.05 199.58,164.97 201,166" stroke="#eee83a"/>
<path d="M201,166C202.42,167.03 203.85,168.17 205.5,169.5C207.15,170.83 210,173.25 210.9,174" stroke="#1fb4e6"/>
</g>
<defs><clipPath id="clipB"><rect x="238.4" y="6.4" width="172" height="182.9"/></clipPath></defs>
<g clip-path="url(#clipB)" fill="none" stroke-width="1.5" stroke-linecap="round" stroke-linejoin="round">
<path d="M245.2,6.5C246,8.75 248.37,15.25 250,20C251.63,24.75 253.3,29.17 255,35C256.7,40.83 258.78,49.5 260.2,55C261.62,60.5 262.45,63.83 263.5,68C264.55,72.17 265.65,76.77 266.5,80C267.35,83.23 268.02,87.07 268.6,87.4C269.18,87.73 269.38,84.9 270,82" stroke="#f0a424"/>
<path d="M270,82C270.62,79.1 271.53,74.5 272.3,70C273.07,65.5 273.48,60 274.6,55C275.72,50 277.52,45.17 279,40C280.48,34.83 282.08,29.58 283.5,24C284.92,18.42 286.83,9.42 287.5,6.5" stroke="#eee83a"/>
<path d="M247.8,6.5C248.58,8.75 250.92,15.25 252.5,20C254.08,24.75 255.68,29.17 257.3,35C258.92,40.83 260.92,49.5 262.2,55C263.48,60.5 264.15,63.83 265,68C265.85,72.17 266.7,76.77 267.3,80C267.9,83.23 268.07,87.23 268.6,87.4C269.13,87.57 269.63,84.23 270.5,81" stroke="#1fb4e6"/>
<path d="M270.5,81C271.37,77.77 272.6,72.33 273.8,68C275,63.67 276.25,59.67 277.7,55C279.15,50.33 280.95,45.17 282.5,40C284.05,34.83 285.48,29.58 287,24C288.52,18.42 290.83,9.42 291.6,6.5" stroke="#2c90e8"/>
<path d="M250,6.5C250.75,8.08 252.92,12.58 254.5,16C256.08,19.42 258.03,23.85 259.5,27C260.97,30.15 262.22,34.07 263.3,34.9C264.38,35.73 265.12,33.28 266,32C266.88,30.72 267.77,27.28 268.6,27.2C269.43,27.12 270.17,29.95 271,31.5" stroke="#eee83a"/>
<path d="M271,31.5C271.83,33.05 272.6,36.75 273.6,36.5C274.6,36.25 275.77,32.92 277,30C278.23,27.08 279.67,22.92 281,19C282.33,15.08 284.33,8.58 285,6.5" stroke="#f0a424"/>
<path d="M251.5,6.5C252.25,8.25 254.5,13.42 256,17C257.5,20.58 259.2,24.75 260.5,28C261.8,31.25 262.85,35.75 263.8,36.5C264.75,37.25 265.4,34.05 266.2,32.5C267,30.95 267.8,27.53 268.6,27.2C269.4,26.87 270.17,29.22 271,30.5" stroke="#1fb4e6"/>
<path d="M271,30.5C271.83,31.78 272.6,35.32 273.6,34.9C274.6,34.48 275.85,30.98 277,28C278.15,25.02 279.43,20.58 280.5,17C281.57,13.42 282.92,8.25 283.4,6.5" stroke="#38d8dc"/>
<path d="M265.3,6.5C265.85,7.88 267.48,14.8 268.6,14.8C269.72,14.8 271.43,7.88 272,6.5" stroke="#7ee468"/>
<path d="M238.4,10.2C238.83,10.25 240.07,10.37 241,10.5C241.93,10.63 243.5,10.92 244,11" stroke="#7ee468"/>
<path d="M288,8.5C288.6,8.78 290.27,9.87 291.6,10.2C292.93,10.53 294.83,10.47 296,10.5C297.17,10.53 297.47,10.18 298.6,10.4C299.73,10.62 301.4,10.87 302.8,11.8C304.2,12.73 305.68,14.2 307,16C308.32,17.8 309.53,20.27 310.7,22.6" stroke="#c0ee3c"/>
<path d="M310.7,22.6C311.87,24.93 313.02,27.72 314,30C314.98,32.28 315.6,34.38 316.6,36.3C317.6,38.22 318.97,40.13 320,41.5C321.03,42.87 322.33,44 322.8,44.5" stroke="#eee83a"/>
<path d="M298.9,5.9C299.5,6.25 301.18,6.85 302.5,8C303.82,9.15 305.47,10.88 306.8,12.8C308.13,14.72 309.2,16.88 310.5,19.5C311.8,22.12 313.43,25.83 314.6,28.5C315.77,31.17 316.52,33.22 317.5,35.5C318.48,37.78 319.62,40.7 320.5,42.2C321.38,43.7 322.42,44.12 322.8,44.5" stroke="#38d8dc"/>
<path d="M322.8,44.5C323.42,44.32 325.25,43.62 326.5,43.4C327.75,43.18 328.88,42.85 330.3,43.2C331.72,43.55 333.37,44.37 335,45.5C336.63,46.63 338.68,48.33 340.1,50C341.52,51.67 342.52,53.53 343.5,55.5C344.48,57.47 345.08,59.38 346,61.8C346.92,64.22 348.03,67.07 349,70C349.97,72.93 350.83,76.52 351.8,79.4C352.77,82.28 353.85,87.2 354.8,87.3C355.75,87.4 356.85,81.32 357.5,80C358.15,78.68 357.95,81.23 358.7,79.4C359.45,77.57 360.87,71.93 362,69C363.13,66.07 364.33,64.13 365.5,61.8C366.67,59.47 367.68,56.97 369,55C370.32,53.03 371.9,51.25 373.4,50C374.9,48.75 376.37,48.15 378,47.5C379.63,46.85 381.75,46.6 383.2,46.1C384.65,45.6 386.12,44.77 386.7,44.5" stroke="#eee83a"/>
<path d="M322.8,44.5C323.42,44.67 325.25,45.23 326.5,45.5C327.75,45.77 328.97,45.77 330.3,46.1C331.63,46.43 333.2,46.85 334.5,47.5C335.8,48.15 336.93,48.92 338.1,50C339.27,51.08 340.52,52.37 341.5,54C342.48,55.63 343,57.47 344,59.8C345,62.13 346.37,65.05 347.5,68C348.63,70.95 349.58,74.28 350.8,77.5C352.02,80.72 353.65,87.3 354.8,87.3C355.95,87.3 356.75,80.72 357.7,77.5C358.65,74.28 359.52,70.95 360.5,68C361.48,65.05 362.52,62.38 363.6,59.8C364.68,57.22 365.7,54.62 367,52.5C368.3,50.38 369.9,48.35 371.4,47.1C372.9,45.85 374.37,45.48 376,45C377.63,44.52 379.42,44.28 381.2,44.2C382.98,44.12 385.78,44.45 386.7,44.5" stroke="#38d8dc"/>
<path d="M386.7,44.5C387.42,44.12 389.62,43.95 391,42.2" stroke="#1a3fd2"/>
<path d="M391,42.2C392.38,40.45 393.68,36.62 395,34C396.32,31.38 397.73,29 398.9,26.5C400.07,24 401.03,21.28 402,19C402.97,16.72 403.87,14.3 404.7,12.8C405.53,11.3 406.18,10.65 407,10C407.82,9.35 408.77,9.15 409.6,8.9C410.43,8.65 411.6,8.57 412,8.5" stroke="#38d8dc"/>
<path d="M386.7,44.5C387.33,43.58 389.28,41.08 390.5,39C391.72,36.92 392.83,34.33 394,32C395.17,29.67 396.2,27.22 397.5,25C398.8,22.78 400.55,20.87 401.8,18.7C403.05,16.53 403.85,13.97 405,12C406.15,10.03 408.08,7.75 408.7,6.9" stroke="#c0ee3c"/>
<path d="M339.1,5.9C339.67,7.25 341.35,10.82 342.5,14C343.65,17.18 344.93,21.6 346,25C347.07,28.4 347.93,33.4 348.9,34.4C349.87,35.4 350.82,32.32 351.8,31C352.78,29.68 353.85,26.58 354.8,26.5C355.75,26.42 356.68,29.18 357.5,30.5C358.32,31.82 358.78,35.32 359.7,34.4C360.62,33.48 361.95,28.4 363,25C364.05,21.6 365.08,17.18 366,14C366.92,10.82 368.08,7.25 368.5,5.9" stroke="#38d8dc"/>
<path d="M340.5,5.9C341.08,7.42 342.87,11.65 344,15C345.13,18.35 346.37,22.6 347.3,26C348.23,29.4 348.78,34.48 349.6,35.4C350.42,36.32 351.33,32.98 352.2,31.5C353.07,30.02 353.87,26.5 354.8,26.5C355.73,26.5 356.88,30.02 357.8,31.5C358.72,32.98 359.35,36.32 360.3,35.4C361.25,34.48 362.42,29.4 363.5,26C364.58,22.6 365.72,18.35 366.8,15C367.88,11.65 369.47,7.42 370,5.9" stroke="#eee83a"/>
<path d="M350.8,5.9C351.47,7.38 353.48,14.8 354.8,14.8C356.12,14.8 358.05,7.38 358.7,5.9" stroke="#7ee468"/>
<path d="M238.4,125C239.37,125.05 242.38,125.52 244.2,125.3C246.02,125.08 247.75,124.82 249.3,123.7C250.85,122.58 252.12,120.48 253.5,118.6C254.88,116.72 256.43,113.37 257.6,112.4C258.77,111.43 259.63,112.37 260.5,112.8C261.37,113.23 261.9,113.35 262.8,115C263.7,116.65 264.97,120.22 265.9,122.7C266.83,125.18 267.55,130.07 268.4,129.9" stroke="#1a3fd2"/>
<path d="M268.4,129.9C269.25,129.73 270.05,124.28 271,121.7C271.95,119.12 272.9,115.95 274.1,114.4C275.3,112.85 276.82,111.88 278.2,112.4" stroke="#f0a424"/>
<path d="M278.2,112.4C279.58,112.92 281.02,115.62 282.4,117.5" stroke="#e2702a"/>
<path d="M282.4,117.5C283.78,119.38 284.78,122.32 286.5,123.7C288.22,125.08 290.73,125.42 292.7,125.8C294.67,126.18 297.37,125.97 298.3,126" stroke="#f0a424"/>
<path d="M238.4,124.5C239.17,124.7 241.57,125.62 243,125.7C244.43,125.78 245.75,125.78 247,125" stroke="#eee83a"/>
<path d="M247,125C248.25,124.22 249.25,122.58 250.5,121C251.75,119.42 253.15,116.68 254.5,115.5C255.85,114.32 257.43,113.9 258.6,113.9C259.77,113.9 260.6,114.48 261.5,115.5C262.4,116.52 263.17,118.33 264,120" stroke="#f0a424"/>
<path d="M264,120C264.83,121.67 265.77,123.85 266.5,125.5C267.23,127.15 267.73,130.15 268.4,129.9" stroke="#e2702a"/>
<path d="M268.4,129.9C269.07,129.65 269.73,125.98 270.5,124C271.27,122.02 272.05,119.6 273,118C273.95,116.4 275.15,115.08 276.2,114.4C277.25,113.72 278.25,113.3 279.3,113.9C280.35,114.5 281.3,116.48 282.5,118C283.7,119.52 285,121.67 286.5,123C288,124.33 289.53,125.25 291.5,126" stroke="#1a3fd2"/>
<path d="M291.5,126C293.47,126.75 297.17,127.25 298.3,127.5" stroke="#1fb4e6"/>
<path d="M238.4,128C238.83,128.33 240.03,129.5 241,130" stroke="#eee83a"/>
<path d="M241,130C241.97,130.5 243.2,131.08 244.2,131C245.2,130.92 245.98,130.37 247,129.5" stroke="#1fb4e6"/>
<path d="M247,129.5C248.02,128.63 249.13,126.88 250.3,125.8C251.47,124.72 252.62,123.68 254,123C255.38,122.32 257.43,121.78 258.6,121.7" stroke="#eee83a"/>
<path d="M258.6,121.7C259.77,121.62 260.3,121.82 261,122.5" stroke="#7ee468"/>
<path d="M261,122.5C261.7,123.18 262.13,124.55 262.8,125.8C263.47,127.05 264.38,128.72 265,130C265.62,131.28 265.93,132.65 266.5,133.5" stroke="#1fb4e6"/>
<path d="M266.5,133.5C267.07,134.35 267.77,135.1 268.4,135.1C269.03,135.1 269.7,134.35 270.3,133.5C270.9,132.65 271.3,131.42 272,130" stroke="#7ee468"/>
<path d="M272,130C272.7,128.58 273.63,126.38 274.5,125C275.37,123.62 276.12,122.03 277.2,121.7C278.28,121.37 279.7,122.28 281,123C282.3,123.72 283.58,125 285,126C286.42,127 288.08,128.17 289.5,129" stroke="#eee83a"/>
<path d="M289.5,129C290.92,129.83 292.03,131.08 293.5,131C294.97,130.92 297.5,128.92 298.3,128.5" stroke="#1fb4e6"/>
<path d="M264.8,133C265.08,133.2 265.9,133.85 266.5,134.2C267.1,134.55 267.77,135.1 268.4,135.1C269.03,135.1 269.7,134.55 270.3,134.2C270.9,133.85 271.72,133.2 272,133" stroke="#7ee468"/>
<path d="M249.3,150C250.17,149.75 253.05,149.08 254.5,148.5" stroke="#1a3fd2"/>
<path d="M254.5,148.5C255.95,147.92 256.97,147.02 258,146.5C259.03,145.98 259.87,146.15 260.7,145.4" stroke="#1fb4e6"/>
<path d="M260.7,145.4C261.53,144.65 262.23,143.03 263,142" stroke="#f0a424"/>
<path d="M263,142C263.77,140.97 264.63,139.28 265.3,139.2C265.97,139.12 266.48,140.82 267,141.5C267.52,142.18 267.9,143.3 268.4,143.3" stroke="#c0ee3c"/>
<path d="M268.4,143.3C268.9,143.3 269.48,142.18 270,141.5C270.52,140.82 270.83,139.12 271.5,139.2" stroke="#1fb4e6"/>
<path d="M271.5,139.2C272.17,139.28 273.22,140.97 274,142" stroke="#7ee468"/>
<path d="M274,142C274.78,143.03 275.37,144.48 276.2,145.4C277.03,146.32 277.87,146.82 279,147.5C280.13,148.18 281.58,149 283,149.5C284.42,150 286.75,150.33 287.5,150.5" stroke="#1a3fd2"/>
<path d="M239.1,167.9C239.45,167 240.48,164.12 241.2,162.5" stroke="#eee83a"/>
<path d="M241.2,162.5C241.92,160.88 242.6,159.7 243.4,158.2C244.2,156.7 245.12,154.78 246,153.5C246.88,152.22 247.53,151.13 248.7,150.5C249.87,149.87 251.57,149.75 253,149.7" stroke="#1fb4e6"/>
<path d="M253,149.7C254.43,149.65 256.22,150.48 257.3,150.2" stroke="#e2702a"/>
<path d="M257.3,150.2C258.38,149.92 258.78,148.8 259.5,148" stroke="#1a3fd2"/>
<path d="M259.5,148C260.22,147.2 260.93,146.32 261.6,145.4C262.27,144.48 262.87,143.22 263.5,142.5" stroke="#f0a424"/>
<path d="M263.5,142.5C264.13,141.78 264.55,141.07 265.4,141.1" stroke="#eee83a"/>
<path d="M265.4,141.1C266.25,141.13 267.53,142.8 268.6,142.7C269.67,142.6 270.98,140.53 271.8,140.5C272.62,140.47 272.88,141.68 273.5,142.5" stroke="#c0ee3c"/>
<path d="M273.5,142.5C274.12,143.32 274.83,144.48 275.5,145.4" stroke="#7ee468"/>
<path d="M275.5,145.4C276.17,146.32 276.87,147.28 277.5,148C278.13,148.72 278.2,149.42 279.3,149.7C280.4,149.98 282.58,149.35 284.1,149.7" stroke="#1a3fd2"/>
<path d="M284.1,149.7C285.62,150.05 287.25,150.92 288.4,151.8" stroke="#f0a424"/>
<path d="M288.4,151.8C289.55,152.68 290.1,153.57 291,155C291.9,156.43 292.97,158.82 293.8,160.4C294.63,161.98 295.28,163.17 296,164.5" stroke="#eee83a"/>
<path d="M296,164.5C296.72,165.83 297.75,167.75 298.1,168.4" stroke="#1fb4e6"/>
<path d="M268.6,144.3C268.08,144.92 266.52,146.72 265.5,148C264.48,149.28 263.42,150.5 262.5,152C261.58,153.5 260.83,155.25 260,157C259.17,158.75 258.28,160.67 257.5,162.5C256.72,164.33 255.97,166.17 255.3,168C254.63,169.83 254.05,171.75 253.5,173.5C252.95,175.25 252.45,176.92 252,178.5" stroke="#1fb4e6"/>
<path d="M252,178.5C251.55,180.08 251.17,181.67 250.8,183" stroke="#eee83a"/>
<path d="M250.8,183C250.43,184.33 250.1,185.42 249.8,186.5" stroke="#e2702a"/>
<path d="M249.8,186.5C249.5,187.58 249.13,189 249,189.5" stroke="#f0a424"/>
<path d="M268.6,144.3C269.12,144.92 270.68,146.72 271.7,148C272.72,149.28 273.78,150.5 274.7,152C275.62,153.5 276.37,155.25 277.2,157C278.03,158.75 278.92,160.67 279.7,162.5C280.48,164.33 281.23,166.17 281.9,168C282.57,169.83 283.15,171.75 283.7,173.5" stroke="#1fb4e6"/>
<path d="M283.7,173.5C284.25,175.25 284.77,176.92 285.2,178.5C285.63,180.08 285.98,181.67 286.3,183" stroke="#1a3fd2"/>
<path d="M286.3,183C286.62,184.33 286.85,185.42 287.1,186.5C287.35,187.58 287.68,189 287.8,189.5" stroke="#1fb4e6"/>
<path d="M268.6,147C268.25,147.5 267.18,148.83 266.5,150C265.82,151.17 265.17,152.5 264.5,154C263.83,155.5 263.08,157.33 262.5,159C261.92,160.67 261.45,162.17 261,164" stroke="#eee83a"/>
<path d="M261,164C260.55,165.83 260.22,168 259.8,170C259.38,172 258.88,174 258.5,176" stroke="#7ee468"/>
<path d="M258.5,176C258.12,178 257.83,179.75 257.5,182C257.17,184.25 256.67,188.25 256.5,189.5" stroke="#eee83a"/>
<path d="M268.6,147C268.95,147.5 270.02,148.83 270.7,150C271.38,151.17 272.03,152.5 272.7,154C273.37,155.5 274.12,157.33 274.7,159C275.28,160.67 275.75,162.17 276.2,164" stroke="#c0ee3c"/>
<path d="M276.2,164C276.65,165.83 276.98,168 277.4,170C277.82,172 278.32,174 278.7,176" stroke="#eee83a"/>
<path d="M278.7,176C279.08,178 279.37,179.75 279.7,182C280.03,184.25 280.53,188.25 280.7,189.5" stroke="#f0a424"/>
<path d="M253.1,190C253.53,188.92 254.82,185.58 255.68,183.55C256.54,181.52 257.41,179.6 258.27,177.83C259.13,176.06 259.99,174.4 260.85,172.91C261.71,171.42 262.57,170.06 263.43,168.9C264.29,167.74 265.16,166.68 266.02,165.95C266.88,165.22 267.74,164.5 268.6,164.5C269.46,164.5 270.32,165.22 271.18,165.95C272.04,166.68 272.91,167.74 273.77,168.9C274.63,170.06 275.49,171.42 276.35,172.91C277.21,174.4 278.07,176.06 278.93,177.83C279.79,179.6 280.66,181.52 281.52,183.55C282.38,185.58 283.67,188.92 284.1,190" stroke="#f0a424"/>
<path d="M260.1,190C260.34,189 261.04,185.91 261.52,184.03C261.99,182.15 262.46,180.38 262.93,178.74C263.41,177.1 263.88,175.56 264.35,174.19C264.82,172.81 265.29,171.54 265.77,170.47C266.24,169.4 266.71,168.42 267.18,167.74C267.66,167.06 268.13,166.4 268.6,166.4C269.07,166.4 269.54,167.06 270.02,167.74C270.49,168.42 270.96,169.4 271.43,170.47C271.91,171.54 272.38,172.81 272.85,174.19C273.32,175.56 273.79,177.1 274.27,178.74C274.74,180.38 275.21,182.15 275.68,184.03C276.16,185.91 276.86,189 277.1,190" stroke="#1a3fd2"/>
<path d="M257.1,190C257.42,189.2 258.38,186.7 259.02,185.19C259.66,183.68 260.29,182.25 260.93,180.93C261.57,179.61 262.21,178.38 262.85,177.27C263.49,176.16 264.13,175.14 264.77,174.28C265.41,173.41 266.04,172.63 266.68,172.08C267.32,171.53 267.96,171 268.6,171C269.24,171 269.88,171.53 270.52,172.08C271.16,172.63 271.79,173.41 272.43,174.28C273.07,175.14 273.71,176.16 274.35,177.27C274.99,178.38 275.63,179.61 276.27,180.93C276.91,182.25 277.54,183.68 278.18,185.19C278.82,186.7 279.78,189.2 280.1,190" stroke="#38d8dc"/>
<path d="M263.6,190C263.74,189.35 264.16,187.31 264.43,186.08C264.71,184.85 264.99,183.68 265.27,182.6C265.54,181.52 265.82,180.52 266.1,179.61C266.38,178.71 266.66,177.88 266.93,177.17C267.21,176.47 267.49,175.83 267.77,175.38C268.04,174.94 268.32,174.5 268.6,174.5" stroke="#7ee468"/>
<path d="M268.6,174.5C268.88,174.5 269.16,174.94 269.43,175.38C269.71,175.83 269.99,176.47 270.27,177.17C270.54,177.88 270.82,178.71 271.1,179.61C271.38,180.52 271.66,181.52 271.93,182.6C272.21,183.68 272.49,184.85 272.77,186.08C273.04,187.31 273.46,189.35 273.6,190" stroke="#c0ee3c"/>
<path d="M265.6,190C265.68,189.58 265.93,188.27 266.1,187.47C266.27,186.67 266.43,185.92 266.6,185.23C266.77,184.53 266.93,183.88 267.1,183.3C267.27,182.71 267.43,182.18 267.6,181.72C267.77,181.27 267.93,180.86 268.1,180.57C268.27,180.28 268.43,180 268.6,180C268.77,180 268.93,180.28 269.1,180.57C269.27,180.86 269.43,181.27 269.6,181.72C269.77,182.18 269.93,182.71 270.1,183.3C270.27,183.88 270.43,184.53 270.6,185.23C270.77,185.92 270.93,186.67 271.1,187.47C271.27,188.27 271.52,189.58 271.6,190" stroke="#7ee468"/>
<path d="M298.6,126.1C299.17,125.85 300.77,125.02 302,124.6C303.23,124.18 304.6,123.78 306,123.6C307.4,123.42 309.07,123.13 310.4,123.5C311.73,123.87 312.82,124.75 314,125.8C315.18,126.85 316.42,128.38 317.5,129.8C318.58,131.22 319.58,133.12 320.5,134.3C321.42,135.48 322.08,136.9 323,136.9C323.92,136.9 325,135.48 326,134.3C327,133.12 327.98,131.17 329,129.8C330.02,128.43 331.1,127.52 332.1,126.1C333.1,124.68 334.02,122.85 335,121.3C335.98,119.75 337.1,117.9 338,116.8C338.9,115.7 339.57,114.87 340.4,114.7C341.23,114.53 342.15,115.12 343,115.8C343.85,116.48 344.57,118.63 345.5,118.8C346.43,118.97 347.77,116.63 348.6,116.8C349.43,116.97 349.85,118.22 350.5,119.8C351.15,121.38 351.82,124.23 352.5,126.3C353.18,128.37 353.93,132.28 354.6,132.2C355.27,132.12 355.85,127.95 356.5,125.8C357.15,123.65 357.7,120.98 358.5,119.3C359.3,117.62 360.47,115.95 361.3,115.7C362.13,115.45 362.8,117.65 363.5,117.8C364.2,117.95 364.67,117.12 365.5,116.6C366.33,116.08 367.5,114.75 368.5,114.7C369.5,114.65 370.5,115.37 371.5,116.3C372.5,117.23 373.42,118.72 374.5,120.3C375.58,121.88 376.83,123.97 378,125.8C379.17,127.63 380.5,129.8 381.5,131.3C382.5,132.8 383.17,133.87 384,134.8C384.83,135.73 385.58,137.15 386.5,136.9C387.42,136.65 388.5,134.65 389.5,133.3C390.5,131.95 391.5,130.13 392.5,128.8C393.5,127.47 394.52,126.1 395.5,125.3C396.48,124.5 397.32,124.17 398.4,124C399.48,123.83 400.73,124.08 402,124.3C403.27,124.52 404.53,124.92 406,125.3C407.47,125.68 410,126.38 410.8,126.6" stroke="#eee83a"/>
<path d="M298.6,124.8C299.17,124.55 300.77,123.72 302,123.3C303.23,122.88 304.6,122.48 306,122.3C307.4,122.12 309.07,121.83 310.4,122.2C311.73,122.57 312.82,123.45 314,124.5C315.18,125.55 316.42,127.08 317.5,128.5C318.58,129.92 319.58,131.82 320.5,133C321.42,134.18 322.08,135.6 323,135.6C323.92,135.6 325,134.18 326,133C327,131.82 327.98,129.87 329,128.5C330.02,127.13 331.1,126.22 332.1,124.8C333.1,123.38 334.02,121.55 335,120C335.98,118.45 337.1,116.6 338,115.5C338.9,114.4 339.57,113.57 340.4,113.4C341.23,113.23 342.15,113.82 343,114.5C343.85,115.18 344.57,117.33 345.5,117.5C346.43,117.67 347.77,115.33 348.6,115.5C349.43,115.67 349.85,116.92 350.5,118.5C351.15,120.08 351.82,122.93 352.5,125C353.18,127.07 353.93,130.98 354.6,130.9C355.27,130.82 355.85,126.65 356.5,124.5C357.15,122.35 357.7,119.68 358.5,118C359.3,116.32 360.47,114.65 361.3,114.4C362.13,114.15 362.8,116.35 363.5,116.5C364.2,116.65 364.67,115.82 365.5,115.3C366.33,114.78 367.5,113.45 368.5,113.4C369.5,113.35 370.5,114.07 371.5,115C372.5,115.93 373.42,117.42 374.5,119C375.58,120.58 376.83,122.67 378,124.5C379.17,126.33 380.5,128.5 381.5,130C382.5,131.5 383.17,132.57 384,133.5C384.83,134.43 385.58,135.85 386.5,135.6C387.42,135.35 388.5,133.35 389.5,132C390.5,130.65 391.5,128.83 392.5,127.5C393.5,126.17 394.52,124.8 395.5,124C396.48,123.2 397.32,122.87 398.4,122.7C399.48,122.53 400.73,122.78 402,123C403.27,123.22 404.53,123.62 406,124C407.47,124.38 410,125.08 410.8,125.3" stroke="#38d8dc"/>
<path d="M298.6,127.9C299.08,128.08 300.52,128.32 301.5,129" stroke="#1fb4e6"/>
<path d="M301.5,129C302.48,129.68 303.35,130.47 304.5,132C305.65,133.53 307.32,136.57 308.4,138.2" stroke="#f0a424"/>
<path d="M308.4,138.2C309.48,139.83 310.15,140.77 311,141.8C311.85,142.83 312.67,143.83 313.5,144.4" stroke="#1a3fd2"/>
<path d="M313.5,144.4C314.33,144.97 315.13,145.03 316,145.2" stroke="#1030a8"/>
<path d="M316,145.2C316.87,145.37 317.53,145.37 318.7,145.4C319.87,145.43 321.53,145.53 323,145.4" stroke="#1a3fd2"/>
<path d="M323,145.4C324.47,145.27 325.98,144.95 327.5,144.6C329.02,144.25 330.68,143.82 332.1,143.3C333.52,142.78 334.8,142.18 336,141.5C337.2,140.82 338.38,139.95 339.3,139.2C340.22,138.45 340.8,137.87 341.5,137C342.2,136.13 343,135.17 343.5,134C344,132.83 344.17,131.45 344.5,130C344.83,128.55 345,125.8 345.5,125.3C346,124.8 346.83,126.05 347.5,127C348.17,127.95 348.75,129.33 349.5,131C350.25,132.67 351.15,134.95 352,137C352.85,139.05 353.77,143.13 354.6,143.3C355.43,143.47 356.18,139.88 357,138" stroke="#38d8dc"/>
<path d="M357,138C357.82,136.12 358.75,133.67 359.5,132C360.25,130.33 360.87,129.12 361.5,128C362.13,126.88 362.75,125.3 363.3,125.3C363.85,125.3 364.35,126.55 364.8,128C365.25,129.45 365.55,131.67 366,134" stroke="#eee83a"/>
<path d="M366,134C366.45,136.33 366.92,139 367.5,142C368.08,145 368.83,148.67 369.5,152C370.17,155.33 370.75,159 371.5,162" stroke="#38d8dc"/>
<path d="M371.5,162C372.25,165 373.08,167.33 374,170C374.92,172.67 376,175.67 377,178C378,180.33 379,182.08 380,184C381,185.92 382.5,188.58 383,189.5" stroke="#eee83a"/>
<path d="M298.6,126.5C299.17,127.08 300.77,128.5 302,130" stroke="#eee83a"/>
<path d="M302,130C303.23,131.5 304.75,133.75 306,135.5C307.25,137.25 308.25,138.85 309.5,140.5C310.75,142.15 312.42,144.27 313.5,145.4C314.58,146.53 315.13,146.87 316,147.3C316.87,147.73 317.87,148.02 318.7,148C319.53,147.98 320.28,147.45 321,147.2C321.72,146.95 322.67,146.62 323,146.5" stroke="#f0a424"/>
<path d="M340.4,150C340.75,149.08 341.82,146.3 342.5,144.5C343.18,142.7 343.65,140.33 344.5,139.2" stroke="#1fb4e6"/>
<path d="M344.5,139.2C345.35,138.07 346.6,137.77 347.6,137.7C348.6,137.63 349.68,138.17 350.5,138.8C351.32,139.43 351.82,140.75 352.5,141.5C353.18,142.25 353.93,143.55 354.6,143.3C355.27,143.05 355.9,140.87 356.5,140" stroke="#7ee468"/>
<path d="M356.5,140C357.1,139.13 357.23,138.5 358.2,138.1C359.17,137.7 361,137.37 362.3,137.6C363.6,137.83 364.88,138.85 366,139.5C367.12,140.15 367.9,140.87 369,141.5C370.1,142.13 371.35,142.8 372.6,143.3C373.85,143.8 375.12,144.15 376.5,144.5C377.88,144.85 379.23,145.25 380.9,145.4C382.57,145.55 385.07,145.2 386.5,145.4" stroke="#eee83a"/>
<path d="M386.5,145.4C387.93,145.6 388.55,146.27 389.5,146.6" stroke="#e2702a"/>
<path d="M389.5,146.6C390.45,146.93 391.28,147.75 392.2,147.4C393.12,147.05 394.13,145.53 395,144.5" stroke="#1a3fd2"/>
<path d="M395,144.5C395.87,143.47 396.57,142.45 397.4,141.2C398.23,139.95 399.15,138.37 400,137" stroke="#e2702a"/>
<path d="M400,137C400.85,135.63 401.67,134.08 402.5,133" stroke="#f0a424"/>
<path d="M402.5,133C403.33,131.92 404.13,131.18 405,130.5C405.87,129.82 406.73,129.35 407.7,128.9C408.67,128.45 410.28,127.98 410.8,127.8" stroke="#1fb4e6"/>
<path d="M322.6,144.9C323.5,144.5 326.27,143.23 328,142.5C329.73,141.77 331.33,141.12 333,140.5C334.67,139.88 336.43,139.22 338,138.8C339.57,138.38 341.03,138.25 342.4,138C343.77,137.75 345.02,137.22 346.2,137.3C347.38,137.38 348.45,137.88 349.5,138.5C350.55,139.12 351.65,140.18 352.5,141C353.35,141.82 354.25,143 354.6,143.4" stroke="#38d8dc"/>
<path d="M354.6,143.4C354.95,142.83 355.95,140.9 356.7,140C357.45,139.1 358.05,138.28 359.1,138C360.15,137.72 361.43,137.8 363,138.3C364.57,138.8 366.67,140.18 368.5,141C370.33,141.82 372.17,142.62 374,143.2C375.83,143.78 377.4,144.08 379.5,144.5C381.6,144.92 385.42,145.5 386.6,145.7" stroke="#38d8dc"/>
<path d="M322.6,157.9C323.33,157.92 325.6,157.82 327,158C328.4,158.18 329.45,158.58 331,159" stroke="#38d8dc"/>
<path d="M331,159C332.55,159.42 334.65,159.93 336.3,160.5C337.95,161.07 339.62,162.48 340.9,162.4C342.18,162.32 342.98,161.4 344,160C345.02,158.6 346.08,156 347,154" stroke="#eee83a"/>
<path d="M347,154C347.92,152 348.75,149.83 349.5,148C350.25,146.17 350.65,144.25 351.5,143C352.35,141.75 353.57,140.5 354.6,140.5C355.63,140.5 356.85,141.75 357.7,143C358.55,144.25 358.95,146.17 359.7,148C360.45,149.83 361.32,152.17 362.2,154" stroke="#c0ee3c"/>
<path d="M362.2,154C363.08,155.83 363.98,157.6 365,159C366.02,160.4 367.25,161.83 368.3,162.4C369.35,162.97 370.27,162.63 371.3,162.4C372.33,162.17 373.38,161.48 374.5,161C375.62,160.52 376.75,159.95 378,159.5" stroke="#38d8dc"/>
<path d="M378,159.5C379.25,159.05 380.57,158.57 382,158.3C383.43,158.03 385.83,157.97 386.6,157.9" stroke="#eee83a"/>
<path d="M322.6,185.3C323.2,184.08 325.05,180.55 326.2,178C327.35,175.45 328.28,172.67 329.5,170" stroke="#38d8dc"/>
<path d="M329.5,170C330.72,167.33 332.37,164.17 333.5,162C334.63,159.83 335.38,159 336.3,157" stroke="#eee83a"/>
<path d="M336.3,157C337.22,155 338.13,152.17 339,150C339.87,147.83 341.08,145 341.5,144" stroke="#38d8dc"/>
<path d="M367.5,144C368,145 369.58,147.83 370.5,150C371.42,152.17 372.08,154.67 373,157" stroke="#38d8dc"/>
<path d="M373,157C373.92,159.33 374.87,161.5 376,164C377.13,166.5 378.63,169.5 379.8,172C380.97,174.5 381.87,176.78 383,179" stroke="#eee83a"/>
<path d="M383,179C384.13,181.22 386,184.25 386.6,185.3" stroke="#38d8dc"/>
<path d="M386.6,157.9C387.33,157.67 389.73,156.77 391,156.5" stroke="#1fb4e6"/>
<path d="M391,156.5C392.27,156.23 393.03,156.22 394.2,156.3C395.37,156.38 396.78,156.47 398,157" stroke="#1a3fd2"/>
<path d="M398,157C399.22,157.53 400.28,158.6 401.5,159.5C402.72,160.4 404.22,161.4 405.3,162.4C406.38,163.4 407.18,164.48 408,165.5C408.82,166.52 409.83,168 410.2,168.5" stroke="#f0a424"/>
<path d="M386.6,159.5C387.33,159.25 389.73,158.22 391,158C392.27,157.78 393.03,158.03 394.2,158.2C395.37,158.37 396.78,158.45 398,159" stroke="#f0a424"/>
<path d="M398,159C399.22,159.55 400.28,160.58 401.5,161.5C402.72,162.42 403.85,163.08 405.3,164.5C406.75,165.92 409.38,169.08 410.2,170" stroke="#eee83a"/>
<path d="M386.6,145.7C387.17,145.75 388.85,146.12 390,146C391.15,145.88 392.42,145.83 393.5,145" stroke="#1a3fd2"/>
<path d="M393.5,145C394.58,144.17 395.5,142.67 396.5,141C397.5,139.33 398.5,137.17 399.5,135" stroke="#e2702a"/>
<path d="M399.5,135C400.5,132.83 402,129.17 402.5,128" stroke="#c83020"/>
<path d="M341.6,190C341.96,188.97 343.04,185.75 343.77,183.8C344.49,181.85 345.21,180.01 345.93,178.31C346.66,176.6 347.38,175.01 348.1,173.58C348.82,172.15 349.54,170.84 350.27,169.72C350.99,168.61 351.71,167.6 352.43,166.89C353.16,166.19 353.88,165.5 354.6,165.5C355.32,165.5 356.04,166.19 356.77,166.89C357.49,167.6 358.21,168.61 358.93,169.72C359.66,170.84 360.38,172.15 361.1,173.58C361.82,175.01 362.54,176.6 363.27,178.31C363.99,180.01 364.71,181.85 365.43,183.8C366.16,185.75 367.24,188.97 367.6,190" stroke="#38d8dc"/>
<path d="M345.1,190C345.36,189.22 346.16,186.81 346.68,185.34C347.21,183.88 347.74,182.5 348.27,181.22C348.79,179.94 349.32,178.74 349.85,177.67C350.38,176.6 350.91,175.61 351.43,174.77C351.96,173.94 352.49,173.18 353.02,172.65C353.54,172.12 354.07,171.6 354.6,171.6C355.13,171.6 355.66,172.12 356.18,172.65C356.71,173.18 357.24,173.94 357.77,174.77C358.29,175.61 358.82,176.6 359.35,177.67C359.88,178.74 360.41,179.94 360.93,181.22C361.46,182.5 361.99,183.88 362.52,185.34C363.04,186.81 363.84,189.22 364.1,190" stroke="#eee83a"/>
<path d="M347.6,190C347.79,189.35 348.38,187.33 348.77,186.1C349.16,184.88 349.54,183.72 349.93,182.65C350.32,181.58 350.71,180.58 351.1,179.68C351.49,178.78 351.88,177.96 352.27,177.26C352.66,176.55 353.04,175.92 353.43,175.48C353.82,175.03 354.21,174.6 354.6,174.6" stroke="#7ee468"/>
<path d="M354.6,174.6C354.99,174.6 355.38,175.03 355.77,175.48C356.16,175.92 356.54,176.55 356.93,177.26C357.32,177.96 357.71,178.78 358.1,179.68C358.49,180.58 358.88,181.58 359.27,182.65C359.66,183.72 360.04,184.88 360.43,186.1C360.82,187.33 361.41,189.35 361.6,190" stroke="#38d8dc"/>
<path d="M343.6,190C343.91,189.07 344.82,186.18 345.43,184.43C346.04,182.68 346.66,181.03 347.27,179.5C347.88,177.97 348.49,176.54 349.1,175.26C349.71,173.97 350.32,172.79 350.93,171.79C351.54,170.79 352.16,169.88 352.77,169.25C353.38,168.62 353.99,168 354.6,168" stroke="#c0ee3c"/>
<path d="M354.6,168C355.21,168 355.82,168.62 356.43,169.25C357.04,169.88 357.66,170.79 358.27,171.79C358.88,172.79 359.49,173.97 360.1,175.26C360.71,176.54 361.32,177.97 361.93,179.5C362.54,181.03 363.16,182.68 363.77,184.43C364.38,186.18 365.29,189.07 365.6,190" stroke="#7ee468"/>
<path d="M342.1,190C342.45,188.14 343.49,182.37 344.18,178.87C344.88,175.37 345.57,172.06 346.27,169C346.96,165.94 347.66,163.08 348.35,160.51C349.04,157.95 349.74,155.59 350.43,153.59C351.13,151.58 351.82,149.77 352.52,148.5C353.21,147.24 353.91,146 354.6,146" stroke="#c0ee3c"/>
<path d="M354.6,146C355.29,146 355.99,147.24 356.68,148.5C357.38,149.77 358.07,151.58 358.77,153.59C359.46,155.59 360.16,157.95 360.85,160.51C361.54,163.08 362.24,165.94 362.93,169C363.63,172.06 364.32,175.37 365.02,178.87C365.71,182.37 366.75,188.14 367.1,190" stroke="#38d8dc"/>
<path d="M387.3,189.4C387.5,188.75 387.88,186.48 388.5,185.5C389.12,184.52 390.25,183.5 391,183.5C391.75,183.5 392.47,184.52 393,185.5C393.53,186.48 394,188.75 394.2,189.4" stroke="#1a3fd2"/>
<path d="M317,189.4C317.42,188.83 318.57,186.68 319.5,186C320.43,185.32 322.08,185.42 322.6,185.3" stroke="#f0a424"/>
</g>
<defs><clipPath id="clipC"><rect x="487.9" y="25.9" width="125.9" height="113.2"/></clipPath></defs>
<g clip-path="url(#clipC)" fill="none" stroke-width="1.5" stroke-linecap="round" stroke-linejoin="round">
<path d="M487.9,38.5C488.75,37.42 491.05,33.62 493,32C494.95,30.38 497.6,29.17 499.6,28.8C501.6,28.43 502.93,29.1 505,29.8C507.07,30.5 509.53,32.08 512,33C514.47,33.92 517.8,34.38 519.8,35.3C521.8,36.22 522.63,36.88 524,38.5C525.37,40.12 526.67,41.92 528,45C529.33,48.08 530.67,52.33 532,57C533.33,61.67 534.67,67.17 536,73C537.33,78.83 538.67,85.83 540,92C541.33,98.17 542.75,104.5 544,110C545.25,115.5 546.42,121.25 547.5,125C548.58,128.75 549.67,130.98 550.5,132.5C551.33,134.02 551.67,134.35 552.5,134.1C553.33,133.85 554.23,133.57 555.5,131C556.77,128.43 558.57,123.33 560.1,118.7C561.63,114.07 563.25,108.32 564.7,103.2C566.15,98.08 567.67,92.03 568.8,88C569.93,83.97 570.47,82.33 571.5,79C572.53,75.67 573.58,71.58 575,68C576.42,64.42 578,60.58 580,57.5C582,54.42 584.5,51.83 587,49.5C589.5,47.17 592.13,45.45 595,43.5C597.87,41.55 601.87,38.55 604.2,37.8C606.53,37.05 607.4,38.23 609,39C610.6,39.77 613,41.83 613.8,42.4" stroke="#1a3fd2"/>
<path d="M487.9,44.7C488.58,44 490.32,41.67 492,40.5C493.68,39.33 496.17,38.03 498,37.7C499.83,37.37 501.17,37.7 503,38.5C504.83,39.3 507,40.92 509,42.5C511,44.08 513.2,46.42 515,48C516.8,49.58 518.3,50.5 519.8,52C521.3,53.5 522.63,54.83 524,57C525.37,59.17 526.67,61.67 528,65C529.33,68.33 530.67,72.5 532,77C533.33,81.5 534.67,87 536,92C537.33,97 538.67,102.17 540,107" stroke="#e2702a"/>
<path d="M540,107C541.33,111.83 542.75,117 544,121C545.25,125 546.5,128.7 547.5,131C548.5,133.3 549.18,134.22 550,134.8C550.82,135.38 551.65,135.63 552.4,134.5C553.15,133.37 553.73,130.63 554.5,128C555.27,125.37 555.82,122.83 557,118.7" stroke="#f0a424"/>
<path d="M557,118.7C558.18,114.57 560.35,108.32 561.6,103.2C562.85,98.08 563.63,92.2 564.5,88C565.37,83.8 565.97,81.83 566.8,78C567.63,74.17 568.43,69.5 569.5,65C570.57,60.5 571.95,54.83 573.2,51C574.45,47.17 575.32,44.63 577,42C578.68,39.37 581.13,36.62 583.3,35.2C585.47,33.78 587.72,34.2 590,33.5C592.28,32.8 594.77,31.8 597,31C599.23,30.2 601.57,28.78 603.4,28.7C605.23,28.62 606.27,29.3 608,30.5C609.73,31.7 612.83,35 613.8,35.9" stroke="#e2702a"/>
<path d="M487.9,89.5C489.08,88.83 492.98,86.75 495,85.5C497.02,84.25 498.28,82.85 500,82" stroke="#1fb4e6"/>
<path d="M500,82C501.72,81.15 503.8,80.4 505.3,80.4C506.8,80.4 507.72,80.73 509,82C510.28,83.27 511.67,85.5 513,88" stroke="#38d8dc"/>
<path d="M513,88C514.33,90.5 515.67,93.67 517,97" stroke="#7ee468"/>
<path d="M517,97C518.33,100.33 519.67,104.17 521,108C522.33,111.83 523.83,116.33 525,120" stroke="#38d8dc"/>
<path d="M525,120C526.17,123.67 527.08,126.75 528,130C528.92,133.25 530.08,137.92 530.5,139.5" stroke="#7ee468"/>
<path d="M487.9,98.1C489.08,97.25 492.82,94.43 495,93C497.18,91.57 498.67,90.43 501,89.5" stroke="#f0a424"/>
<path d="M501,89.5C503.33,88.57 507.17,87.32 509,87.4C510.83,87.48 510.92,88.57 512,90" stroke="#eee83a"/>
<path d="M512,90C513.08,91.43 514.33,93.5 515.5,96C516.67,98.5 517.83,101.83 519,105C520.17,108.17 521.33,111.5 522.5,115" stroke="#7ee468"/>
<path d="M522.5,115C523.67,118.5 524.92,122.67 526,126C527.08,129.33 528.25,132.75 529,135C529.75,137.25 530.25,138.75 530.5,139.5" stroke="#eee83a"/>
<path d="M613.8,88.5C612.5,87.83 608.13,85.67 606,84.5C603.87,83.33 602.33,82.12 601,81.5" stroke="#eee83a"/>
<path d="M601,81.5C599.67,80.88 599.17,80.72 598,80.8C596.83,80.88 595.67,80.8 594,82" stroke="#c0ee3c"/>
<path d="M594,82C592.33,83.2 589.67,85.67 588,88C586.33,90.33 585.25,93 584,96C582.75,99 581.65,101.72 580.5,106C579.35,110.28 578.1,117.37 577.1,121.7" stroke="#7ee468"/>
<path d="M577.1,121.7C576.1,126.03 575.15,129.03 574.5,132C573.85,134.97 573.42,138.25 573.2,139.5" stroke="#eee83a"/>
<path d="M613.8,97C612.5,96.25 608.3,93.83 606,92.5C603.7,91.17 601.98,89.85 600,89" stroke="#1fb4e6"/>
<path d="M600,89C598.02,88.15 595.77,87.48 594.1,87.4C592.43,87.32 591.35,87.57 590,88.5" stroke="#38d8dc"/>
<path d="M590,88.5C588.65,89.43 587.33,90.75 586,93C584.67,95.25 583.08,99.17 582,102" stroke="#7ee468"/>
<path d="M582,102C580.92,104.83 580.32,106.72 579.5,110" stroke="#c0ee3c"/>
<path d="M579.5,110C578.68,113.28 577.85,118.37 577.1,121.7" stroke="#7ee468"/>
<path d="M577.1,121.7C576.35,125.03 575.55,127.03 575,130C574.45,132.97 574,137.92 573.8,139.5" stroke="#38d8dc"/>
</g>
<path d="M58.1,131.6H78" fill="none" stroke="#d41c1c" stroke-width="1.9" stroke-dasharray="5.2 3.6"/>
<path d="M58.1,108.3H78" fill="none" stroke="#d41c1c" stroke-width="1.9" stroke-dasharray="5.2 3.6"/>
<path d="M77.1,132.5V107.4" fill="none" stroke="#d41c1c" stroke-width="1.9" stroke-dasharray="5.2 3.6"/>
<path d="M58.4,107.4V132.5" fill="none" stroke="#d41c1c" stroke-width="1.9" stroke-dasharray="5.2 3.6"/>
<path d="M144.5,131.8H164" fill="none" stroke="#d41c1c" stroke-width="1.9" stroke-dasharray="5.2 3.6"/>
<path d="M144.5,108H164" fill="none" stroke="#d41c1c" stroke-width="1.9" stroke-dasharray="5.2 3.6"/>
<path d="M163.1,132.7V107.1" fill="none" stroke="#d41c1c" stroke-width="1.9" stroke-dasharray="5.2 3.6"/>
<path d="M144.8,107.1V132.7" fill="none" stroke="#d41c1c" stroke-width="1.9" stroke-dasharray="5.2 3.6"/>
<path d="M255.4,133H281.2" fill="none" stroke="#d41c1c" stroke-width="1.9" stroke-dasharray="5.2 3.6"/>
<path d="M255.4,105.2H281.2" fill="none" stroke="#d41c1c" stroke-width="1.9" stroke-dasharray="5.2 3.6"/>
<path d="M280.3,133.9V104.3" fill="none" stroke="#d41c1c" stroke-width="1.9" stroke-dasharray="5.2 3.6"/>
<path d="M255.7,104.3V133.9" fill="none" stroke="#d41c1c" stroke-width="1.9" stroke-dasharray="5.2 3.6"/>
<path d="M344.2,132.8H365.3" fill="none" stroke="#d41c1c" stroke-width="1.9" stroke-dasharray="5.2 3.6"/>
<path d="M344.2,105.2H365.3" fill="none" stroke="#d41c1c" stroke-width="1.9" stroke-dasharray="5.2 3.6"/>
<path d="M364.4,133.7V104.3" fill="none" stroke="#d41c1c" stroke-width="1.9" stroke-dasharray="5.2 3.6"/>
<path d="M344.5,104.3V133.7" fill="none" stroke="#d41c1c" stroke-width="1.9" stroke-dasharray="5.2 3.6"/>
<rect x="36.9" y="7.3" width="173.9" height="182.8" fill="none" stroke="#959595" stroke-width="1.0"/>
<line x1="34.7" y1="7.3" x2="36.9" y2="7.3" stroke="#444" stroke-width="0.8" />
<text x="34" y="10.4" font-size="8.6" font-family="Liberation Sans, sans-serif" font-weight="normal" fill="#111" text-anchor="end" stroke="#111" stroke-width="0.3" textLength="13" lengthAdjust="spacingAndGlyphs" >2.0</text>
<line x1="34.7" y1="30.15" x2="36.9" y2="30.15" stroke="#444" stroke-width="0.8" />
<text x="34" y="33.25" font-size="8.6" font-family="Liberation Sans, sans-serif" font-weight="normal" fill="#111" text-anchor="end" stroke="#111" stroke-width="0.3" textLength="13" lengthAdjust="spacingAndGlyphs" >1.5</text>
<line x1="34.7" y1="53" x2="36.9" y2="53" stroke="#444" stroke-width="0.8" />
<text x="34" y="56.1" font-size="8.6" font-family="Liberation Sans, sans-serif" font-weight="normal" fill="#111" text-anchor="end" stroke="#111" stroke-width="0.3" textLength="13" lengthAdjust="spacingAndGlyphs" >1.0</text>
<line x1="34.7" y1="75.85" x2="36.9" y2="75.85" stroke="#444" stroke-width="0.8" />
<text x="34" y="78.95" font-size="8.6" font-family="Liberation Sans, sans-serif" font-weight="normal" fill="#111" text-anchor="end" stroke="#111" stroke-width="0.3" textLength="13" lengthAdjust="spacingAndGlyphs" >0.5</text>
<line x1="34.7" y1="98.7" x2="36.9" y2="98.7" stroke="#444" stroke-width="0.8" />
<text x="34" y="101.8" font-size="8.6" font-family="Liberation Sans, sans-serif" font-weight="normal" fill="#111" text-anchor="end" stroke="#111" stroke-width="0.3" textLength="13" lengthAdjust="spacingAndGlyphs" >0.0</text>
<line x1="34.7" y1="121.55" x2="36.9" y2="121.55" stroke="#444" stroke-width="0.8" />
<text x="34" y="124.65" font-size="8.6" font-family="Liberation Sans, sans-serif" font-weight="normal" fill="#111" text-anchor="end" stroke="#111" stroke-width="0.3" textLength="19" lengthAdjust="spacingAndGlyphs" >−0.5</text>
<line x1="34.7" y1="144.4" x2="36.9" y2="144.4" stroke="#444" stroke-width="0.8" />
<text x="34" y="147.5" font-size="8.6" font-family="Liberation Sans, sans-serif" font-weight="normal" fill="#111" text-anchor="end" stroke="#111" stroke-width="0.3" textLength="19" lengthAdjust="spacingAndGlyphs" >−1.0</text>
<line x1="34.7" y1="167.25" x2="36.9" y2="167.25" stroke="#444" stroke-width="0.8" />
<text x="34" y="170.35" font-size="8.6" font-family="Liberation Sans, sans-serif" font-weight="normal" fill="#111" text-anchor="end" stroke="#111" stroke-width="0.3" textLength="19" lengthAdjust="spacingAndGlyphs" >−1.5</text>
<line x1="34.7" y1="190.1" x2="36.9" y2="190.1" stroke="#444" stroke-width="0.8" />
<text x="34" y="193.2" font-size="8.6" font-family="Liberation Sans, sans-serif" font-weight="normal" fill="#111" text-anchor="end" stroke="#111" stroke-width="0.3" textLength="19" lengthAdjust="spacingAndGlyphs" >−2.0</text>
<line x1="36.9" y1="190.1" x2="36.9" y2="192.3" stroke="#444" stroke-width="0.8" />
<text x="36.9" y="199.5" font-size="8.6" font-family="Liberation Sans, sans-serif" font-weight="normal" fill="#111" text-anchor="middle" stroke="#111" stroke-width="0.3" >K</text>
<line x1="67.4" y1="190.1" x2="67.4" y2="192.3" stroke="#444" stroke-width="0.8" />
<text x="67.4" y="199.5" font-size="8.6" font-family="Liberation Sans, sans-serif" font-weight="normal" fill="#111" text-anchor="middle" stroke="#111" stroke-width="0.3" >Γ</text>
<line x1="98.1" y1="190.1" x2="98.1" y2="192.3" stroke="#444" stroke-width="0.8" />
<text x="98.1" y="199.5" font-size="8.6" font-family="Liberation Sans, sans-serif" font-weight="normal" fill="#111" text-anchor="middle" stroke="#111" stroke-width="0.3" >-K</text>
<line x1="122.2" y1="190.1" x2="122.2" y2="192.3" stroke="#444" stroke-width="0.8" />
<text x="122.2" y="199.5" font-size="8.6" font-family="Liberation Sans, sans-serif" font-weight="normal" fill="#111" text-anchor="middle" stroke="#111" stroke-width="0.3" >-M</text>
<line x1="154.5" y1="190.1" x2="154.5" y2="192.3" stroke="#444" stroke-width="0.8" />
<text x="154.5" y="199.5" font-size="8.6" font-family="Liberation Sans, sans-serif" font-weight="normal" fill="#111" text-anchor="middle" stroke="#111" stroke-width="0.3" >Γ</text>
<line x1="186.9" y1="190.1" x2="186.9" y2="192.3" stroke="#444" stroke-width="0.8" />
<text x="186.9" y="199.5" font-size="8.6" font-family="Liberation Sans, sans-serif" font-weight="normal" fill="#111" text-anchor="middle" stroke="#111" stroke-width="0.3" >M</text>
<line x1="210.8" y1="190.1" x2="210.8" y2="192.3" stroke="#444" stroke-width="0.8" />
<text x="210.8" y="199.5" font-size="8.6" font-family="Liberation Sans, sans-serif" font-weight="normal" fill="#111" text-anchor="middle" stroke="#111" stroke-width="0.3" >K</text>
<text x="37.5" y="18.5" font-size="14.2" font-family="Liberation Serif, serif" font-weight="bold" fill="#111" text-anchor="start" stroke="#111" stroke-width="0.3" textLength="15.6" lengthAdjust="spacingAndGlyphs" >(a)</text>
<rect x="238.4" y="6.4" width="172" height="182.9" fill="none" stroke="#959595" stroke-width="1.0"/>
<line x1="236.2" y1="6.4" x2="238.4" y2="6.4" stroke="#444" stroke-width="0.8" />
<text x="235.5" y="9.5" font-size="8.6" font-family="Liberation Sans, sans-serif" font-weight="normal" fill="#111" text-anchor="end" stroke="#111" stroke-width="0.3" textLength="13" lengthAdjust="spacingAndGlyphs" >2.0</text>
<line x1="236.2" y1="29.26" x2="238.4" y2="29.26" stroke="#444" stroke-width="0.8" />
<text x="235.5" y="32.36" font-size="8.6" font-family="Liberation Sans, sans-serif" font-weight="normal" fill="#111" text-anchor="end" stroke="#111" stroke-width="0.3" textLength="13" lengthAdjust="spacingAndGlyphs" >1.5</text>
<line x1="236.2" y1="52.12" x2="238.4" y2="52.12" stroke="#444" stroke-width="0.8" />
<text x="235.5" y="55.23" font-size="8.6" font-family="Liberation Sans, sans-serif" font-weight="normal" fill="#111" text-anchor="end" stroke="#111" stroke-width="0.3" textLength="13" lengthAdjust="spacingAndGlyphs" >1.0</text>
<line x1="236.2" y1="74.99" x2="238.4" y2="74.99" stroke="#444" stroke-width="0.8" />
<text x="235.5" y="78.09" font-size="8.6" font-family="Liberation Sans, sans-serif" font-weight="normal" fill="#111" text-anchor="end" stroke="#111" stroke-width="0.3" textLength="13" lengthAdjust="spacingAndGlyphs" >0.5</text>
<line x1="236.2" y1="97.85" x2="238.4" y2="97.85" stroke="#444" stroke-width="0.8" />
<text x="235.5" y="100.95" font-size="8.6" font-family="Liberation Sans, sans-serif" font-weight="normal" fill="#111" text-anchor="end" stroke="#111" stroke-width="0.3" textLength="13" lengthAdjust="spacingAndGlyphs" >0.0</text>
<line x1="236.2" y1="120.71" x2="238.4" y2="120.71" stroke="#444" stroke-width="0.8" />
<text x="235.5" y="123.81" font-size="8.6" font-family="Liberation Sans, sans-serif" font-weight="normal" fill="#111" text-anchor="end" stroke="#111" stroke-width="0.3" textLength="19" lengthAdjust="spacingAndGlyphs" >−0.5</text>
<line x1="236.2" y1="143.58" x2="238.4" y2="143.58" stroke="#444" stroke-width="0.8" />
<text x="235.5" y="146.68" font-size="8.6" font-family="Liberation Sans, sans-serif" font-weight="normal" fill="#111" text-anchor="end" stroke="#111" stroke-width="0.3" textLength="19" lengthAdjust="spacingAndGlyphs" >−1.0</text>
<line x1="236.2" y1="166.44" x2="238.4" y2="166.44" stroke="#444" stroke-width="0.8" />
<text x="235.5" y="169.54" font-size="8.6" font-family="Liberation Sans, sans-serif" font-weight="normal" fill="#111" text-anchor="end" stroke="#111" stroke-width="0.3" textLength="19" lengthAdjust="spacingAndGlyphs" >−1.5</text>
<line x1="236.2" y1="189.3" x2="238.4" y2="189.3" stroke="#444" stroke-width="0.8" />
<text x="235.5" y="192.4" font-size="8.6" font-family="Liberation Sans, sans-serif" font-weight="normal" fill="#111" text-anchor="end" stroke="#111" stroke-width="0.3" textLength="19" lengthAdjust="spacingAndGlyphs" >−2.0</text>
<line x1="238.4" y1="189.3" x2="238.4" y2="191.5" stroke="#444" stroke-width="0.8" />
<text x="238.4" y="198.7" font-size="8.6" font-family="Liberation Sans, sans-serif" font-weight="normal" fill="#111" text-anchor="middle" stroke="#111" stroke-width="0.3" >K</text>
<line x1="268.6" y1="189.3" x2="268.6" y2="191.5" stroke="#444" stroke-width="0.8" />
<text x="268.6" y="198.7" font-size="8.6" font-family="Liberation Sans, sans-serif" font-weight="normal" fill="#111" text-anchor="middle" stroke="#111" stroke-width="0.3" >Γ</text>
<line x1="298.5" y1="189.3" x2="298.5" y2="191.5" stroke="#444" stroke-width="0.8" />
<text x="298.5" y="198.7" font-size="8.6" font-family="Liberation Sans, sans-serif" font-weight="normal" fill="#111" text-anchor="middle" stroke="#111" stroke-width="0.3" >-K</text>
<line x1="322.4" y1="189.3" x2="322.4" y2="191.5" stroke="#444" stroke-width="0.8" />
<text x="322.4" y="198.7" font-size="8.6" font-family="Liberation Sans, sans-serif" font-weight="normal" fill="#111" text-anchor="middle" stroke="#111" stroke-width="0.3" >-M</text>
<line x1="354.7" y1="189.3" x2="354.7" y2="191.5" stroke="#444" stroke-width="0.8" />
<text x="354.7" y="198.7" font-size="8.6" font-family="Liberation Sans, sans-serif" font-weight="normal" fill="#111" text-anchor="middle" stroke="#111" stroke-width="0.3" >Γ</text>
<line x1="387.1" y1="189.3" x2="387.1" y2="191.5" stroke="#444" stroke-width="0.8" />
<text x="387.1" y="198.7" font-size="8.6" font-family="Liberation Sans, sans-serif" font-weight="normal" fill="#111" text-anchor="middle" stroke="#111" stroke-width="0.3" >M</text>
<line x1="410.4" y1="189.3" x2="410.4" y2="191.5" stroke="#444" stroke-width="0.8" />
<text x="410.4" y="198.7" font-size="8.6" font-family="Liberation Sans, sans-serif" font-weight="normal" fill="#111" text-anchor="middle" stroke="#111" stroke-width="0.3" >K</text>
<text x="239" y="17.6" font-size="14.2" font-family="Liberation Serif, serif" font-weight="bold" fill="#111" text-anchor="start" stroke="#111" stroke-width="0.3" textLength="15.6" lengthAdjust="spacingAndGlyphs" >(b)</text>
<text transform="translate(12.3,92.8) rotate(-90)" font-size="11.5" font-family="Liberation Serif, serif" font-weight="bold" fill="#111" stroke="#111" stroke-width="0.3" text-anchor="middle">E − E<tspan font-size="8" dy="2">F</tspan><tspan dy="-2"> (eV)</tspan></text>
<rect x="487.9" y="25.9" width="125.9" height="113.2" fill="none" stroke="#959595" stroke-width="1.0"/>
<line x1="552" y1="25.9" x2="552" y2="139.1" stroke="#666" stroke-width="1.0" />
<line x1="486.4" y1="49.4" x2="487.9" y2="49.4" stroke="#999" stroke-width="0.6" />
<text x="484.6" y="51.8" font-size="7.0" font-family="Liberation Sans, sans-serif" font-weight="normal" fill="#111" text-anchor="end" stroke="#111" stroke-width="0.25" textLength="13.4" lengthAdjust="spacingAndGlyphs" >−0.4</text>
<line x1="486.4" y1="76.55" x2="487.9" y2="76.55" stroke="#999" stroke-width="0.6" />
<text x="484.6" y="78.95" font-size="7.0" font-family="Liberation Sans, sans-serif" font-weight="normal" fill="#111" text-anchor="end" stroke="#111" stroke-width="0.25" textLength="13.4" lengthAdjust="spacingAndGlyphs" >−0.5</text>
<line x1="486.4" y1="103.7" x2="487.9" y2="103.7" stroke="#999" stroke-width="0.6" />
<text x="484.6" y="106.1" font-size="7.0" font-family="Liberation Sans, sans-serif" font-weight="normal" fill="#111" text-anchor="end" stroke="#111" stroke-width="0.25" textLength="13.4" lengthAdjust="spacingAndGlyphs" >−0.6</text>
<line x1="486.4" y1="130.85" x2="487.9" y2="130.85" stroke="#999" stroke-width="0.6" />
<text x="484.6" y="133.25" font-size="7.0" font-family="Liberation Sans, sans-serif" font-weight="normal" fill="#111" text-anchor="end" stroke="#111" stroke-width="0.25" textLength="13.4" lengthAdjust="spacingAndGlyphs" >−0.7</text>
<text transform="translate(467.2,87) rotate(-90)" font-size="11.5" font-family="Liberation Serif, serif" font-weight="bold" fill="#111" stroke="#111" stroke-width="0.3" text-anchor="middle">E − E<tspan font-size="8" dy="2">F</tspan><tspan dy="-2">(eV)</tspan></text>
<text x="455.4" y="30.2" font-size="14.2" font-family="Liberation Serif, serif" font-weight="bold" fill="#111" text-anchor="start" stroke="#111" stroke-width="0.3" textLength="15.8" lengthAdjust="spacingAndGlyphs" >(c)</text>
<text x="489.5" y="149.4" font-size="10.5" font-family="Liberation Serif, serif" font-weight="bold" fill="#111" text-anchor="start" stroke="#111" stroke-width="0.3" >K</text>
<text x="549.8" y="149.4" font-size="10.5" font-family="Liberation Serif, serif" font-weight="bold" fill="#111" text-anchor="start" stroke="#111" stroke-width="0.3" >Γ</text>
<text x="600.8" y="149.4" font-size="10.5" font-family="Liberation Serif, serif" font-weight="bold" fill="#111" text-anchor="start" stroke="#111" stroke-width="0.3" >-K</text>
<line x1="511" y1="146.1" x2="542.2" y2="146.1" stroke="#111" stroke-width="1.2" />
<path d="M508.3,146.1 L513,144.3 L513,147.9 Z" fill="#111"/>
<line x1="564.7" y1="146.2" x2="592.5" y2="146.2" stroke="#111" stroke-width="1.2" />
<path d="M595.2,146.2 L590.5,144.4 L590.5,148 Z" fill="#111"/>
<text x="588.2" y="72.3" font-size="12.5" font-family="Liberation Serif, serif" font-weight="bold" fill="#111" stroke="#111" stroke-width="0.3">E<tspan font-size="8" dy="1.8">R</tspan></text>
<text x="576.0" y="128.4" font-size="12.5" font-family="Liberation Serif, serif" font-weight="bold" fill="#111" stroke="#111" stroke-width="0.3">K<tspan font-size="8" dy="1.8">R</tspan></text>
<line x1="552.5" y1="134.1" x2="603.4" y2="134.1" stroke="#111" stroke-width="1.3" stroke-dasharray="2.4 1.6"/>
<line x1="603.4" y1="29" x2="603.4" y2="134.1" stroke="#111" stroke-width="1.3" stroke-dasharray="2.4 1.6"/>
<defs><clipPath id="clip_d1"><rect x="81.8" y="210.1" width="123.6" height="117.6"/></clipPath></defs>
<g clip-path="url(#clip_d1)" fill="none" stroke-linecap="square">
<path stroke="#ffffff" stroke-width="1.75" d="M147.6,268.6h0M151.9,268.6h0M171.9,268.6h0M171.9,269.3h0M169.6,268.6h0"/>
<path stroke="#ffe5e5" stroke-width="1.75" d="M113.8,266.5h0M169.6,270.6h0"/>
<path stroke="#e5e5ff" stroke-width="1.75" d="M113.9,270.3h0M116.2,267.8h0"/>
<path stroke="#ffcccc" stroke-width="1.75" d="M116.1,271.6h0"/>
<path stroke="#ffb3b3" stroke-width="1.3" d="M194.0,272.0h0M91.7,272.2h0"/>
<path stroke="#ffb3b3" stroke-width="1.75" d="M172.0,264.8h0"/>
<path stroke="#b2b2ff" stroke-width="1.75" d="M172.0,273.1h0M169.7,264.8h0M116.1,264.0h0"/>
<path stroke="#9999ff" stroke-width="1.3" d="M193.7,264.4h0M91.4,264.1h0"/>
<path stroke="#ff9999" stroke-width="1.3" d="M193.1,272.5h0M192.2,272.9h0M93.6,273.0h0M92.7,272.6h0"/>
<path stroke="#9999ff" stroke-width="1.75" d="M134.1,267.1h0M113.8,274.1h0"/>
<path stroke="#ff9999" stroke-width="1.75" d="M113.8,262.7h0M169.7,274.4h0"/>
<path stroke="#8080ff" stroke-width="1.3" d="M191.9,263.4h0M192.8,263.9h0M195.1,274.1h0M194.2,274.6h0M90.7,274.4h0M92.4,263.8h0M93.4,263.6h0M94.3,263.3h0M95.3,263.0h0"/>
<path stroke="#ff8080" stroke-width="1.3" d="M191.3,273.4h0M190.4,273.8h0M95.4,273.7h0M94.5,273.4h0"/>
<path stroke="#ff8080" stroke-width="1.75" d="M134.2,270.7h0M172.0,261.0h0M116.1,275.4h0"/>
<path stroke="#8080ff" stroke-width="1.75" d="M172.0,276.8h0M169.7,261.0h0"/>
<path stroke="#ff6666" stroke-width="1.3" d="M194.1,261.8h0M194.9,262.3h0M189.5,274.3h0M188.7,274.8h0M98.2,274.9h0M97.3,274.5h0M96.4,274.1h0M90.8,261.8h0M91.7,261.5h0"/>
<path stroke="#6666ff" stroke-width="1.3" d="M190.2,262.4h0M191.0,262.9h0M193.3,275.1h0M192.4,275.5h0M93.5,275.5h0M92.6,275.2h0M91.6,274.8h0M96.3,262.8h0M97.2,262.5h0M98.2,262.2h0"/>
<path stroke="#ff6666" stroke-width="1.75" d="M114.0,258.9h0"/>
<path stroke="#6666ff" stroke-width="1.75" d="M113.9,277.9h0M116.2,260.3h0"/>
<path stroke="#ff4c4c" stroke-width="1.3" d="M191.4,260.3h0M192.3,260.8h0M193.2,261.3h0M187.8,275.2h0M186.9,275.7h0M100.0,275.8h0M99.1,275.4h0M92.7,261.2h0M93.7,261.0h0M94.6,260.7h0M95.6,260.5h0"/>
<path stroke="#4d4dff" stroke-width="1.3" d="M187.6,260.9h0M188.4,261.4h0M189.3,261.9h0M191.6,276.0h0M190.7,276.4h0M95.3,276.3h0M94.4,275.9h0M99.1,262.0h0M100.1,261.7h0M101.1,261.4h0"/>
<path stroke="#ff4c4c" stroke-width="1.75" d="M138.5,267.1h0M151.4,271.4h0M171.6,257.2h0M116.5,279.2h0M169.5,278.1h0"/>
<path stroke="#4d4dff" stroke-width="1.75" d="M171.5,280.4h0"/>
<path stroke="#ff3333" stroke-width="1.3" d="M167.5,249.6h0M118.0,249.9h0M120.6,286.4h0M165.4,286.2h0M189.7,259.3h0M190.6,259.8h0M186.0,276.2h0M185.2,276.7h0M101.8,276.7h0M100.9,276.2h0M96.6,260.2h0M97.5,259.9h0M98.5,259.6h0"/>
<path stroke="#3333ff" stroke-width="1.3" d="M118.8,288.1h0M167.2,287.8h0M120.1,251.3h0M185.9,259.9h0M186.7,260.4h0M189.8,276.9h0M188.9,277.4h0M188.0,277.8h0M98.1,277.5h0M97.2,277.1h0M96.3,276.7h0M102.0,261.1h0M103.0,260.8h0"/>
<path stroke="#3333ff" stroke-width="1.75" d="M138.5,270.3h0M114.6,281.5h0M170.5,283.2h0M169.1,257.3h0M116.8,256.9h0"/>
<path stroke="#ff3333" stroke-width="1.75" d="M114.7,255.6h0M168.7,281.2h0"/>
<path stroke="#ff1a1a" stroke-width="1.3" d="M166.3,248.6h0M165.3,247.8h0M120.7,247.6h0M119.9,248.2h0M119.0,249.0h0M121.7,287.3h0M122.6,288.0h0M162.8,288.3h0M163.7,287.7h0M164.5,287.0h0M187.1,257.8h0M188.0,258.3h0M188.8,258.8h0M184.3,277.2h0M183.4,277.7h0M182.6,278.3h0M103.5,277.8h0M102.6,277.2h0M99.5,259.4h0M100.4,259.1h0M101.4,258.7h0"/>
<path stroke="#1a1aff" stroke-width="1.3" d="M119.9,289.0h0M120.8,289.7h0M164.6,289.9h0M165.4,289.3h0M166.3,288.7h0M164.9,250.5h0M163.8,249.7h0M162.9,249.0h0M122.7,249.1h0M121.9,249.7h0M121.0,250.4h0M184.2,258.8h0M185.0,259.3h0M187.1,278.3h0M186.3,278.8h0M100.7,278.9h0M99.9,278.4h0M99.0,278.0h0M103.9,260.4h0M104.8,260.0h0M105.7,259.6h0"/>
<path stroke="#1a1aff" stroke-width="1.75" d="M151.1,264.9h0M116.0,284.6h0M117.6,286.8h0M168.3,286.8h0M169.4,285.3h0M167.8,254.1h0M166.2,251.9h0M119.0,252.6h0M117.9,254.3h0"/>
<path stroke="#ff1a1a" stroke-width="1.75" d="M170.4,253.8h0M168.9,251.3h0M116.9,251.2h0M115.7,253.1h0M117.7,282.5h0M119.2,284.9h0M166.5,285.1h0M167.6,283.5h0"/>
<path stroke="#ff0000" stroke-width="1.3" d="M164.5,247.2h0M163.6,246.6h0M162.8,246.1h0M161.9,245.6h0M124.1,245.5h0M123.2,246.0h0M122.4,246.5h0M121.5,247.1h0M123.5,288.6h0M124.3,289.1h0M125.2,289.6h0M160.3,289.8h0M161.1,289.3h0M162.0,288.8h0M184.6,256.2h0M185.4,256.7h0M186.3,257.3h0M181.8,278.9h0M180.9,279.4h0M106.1,279.6h0M105.2,278.9h0M104.3,278.3h0M102.3,258.4h0M103.2,258.1h0M104.2,257.7h0M105.1,257.3h0"/>
<path stroke="#0000ff" stroke-width="1.3" d="M121.7,290.2h0M122.5,290.8h0M123.4,291.3h0M162.0,291.5h0M162.9,291.0h0M163.8,290.5h0M162.1,248.4h0M161.2,247.9h0M160.4,247.4h0M125.3,247.5h0M124.4,248.0h0M123.6,248.5h0M181.6,257.2h0M182.5,257.7h0M183.3,258.3h0M185.4,279.3h0M184.6,279.9h0M183.7,280.4h0M103.3,280.6h0M102.4,280.0h0M101.6,279.4h0M106.7,259.2h0M107.6,258.8h0M108.4,258.3h0"/>
<path stroke="#0000ff" stroke-width="1.75" d="M147.0,270.9h0M134.9,264.4h0"/>
<path stroke="#0000ed" stroke-width="1.3" d="M149.4,262.3h0M124.3,291.8h0M125.1,292.3h0M126.0,292.8h0M126.9,293.2h0M158.6,293.4h0M159.4,292.9h0M160.3,292.5h0M161.2,292.0h0M159.5,246.9h0M158.6,246.5h0M157.7,246.0h0M127.9,246.1h0M127.0,246.5h0M126.2,247.0h0M179.0,255.3h0M179.9,256.0h0M180.8,256.6h0M182.9,281.0h0M182.1,281.6h0M181.2,282.2h0M180.3,282.9h0M106.1,282.7h0M105.1,281.9h0M104.2,281.2h0M109.3,257.8h0M110.1,257.3h0M111.0,256.7h0"/>
<path stroke="#f20000" stroke-width="1.3" d="M149.4,274.9h0M161.0,245.1h0M160.1,244.6h0M159.3,244.2h0M126.7,244.0h0M125.9,244.5h0M125.0,245.0h0M126.1,290.1h0M127.0,290.6h0M127.8,291.1h0M157.7,291.3h0M158.5,290.8h0M159.4,290.3h0M181.2,253.9h0M182.1,254.6h0M182.9,255.1h0M183.7,255.7h0M180.1,280.0h0M179.3,280.7h0M178.4,281.4h0M177.5,282.1h0M108.1,281.2h0M107.0,280.3h0M106.0,256.9h0M106.9,256.4h0M107.8,255.9h0M108.6,255.4h0"/>
<path stroke="#f20000" stroke-width="1.75" d="M135.6,273.9h0M150.4,273.6h0"/>
<path stroke="#e50000" stroke-width="1.3" d="M146.2,265.2h0M137.2,275.6h0M148.5,275.7h0M158.4,243.7h0M157.5,243.2h0M156.7,242.7h0M155.8,242.1h0M155.0,241.6h0M131.0,241.5h0M130.2,242.0h0M129.3,242.5h0M128.5,243.1h0M127.6,243.6h0M128.7,291.6h0M129.6,292.1h0M130.4,292.6h0M131.3,293.1h0M132.1,293.6h0M154.2,293.3h0M155.1,292.8h0M155.9,292.3h0M156.8,291.8h0M177.3,250.7h0M178.3,251.7h0M179.3,252.5h0M180.3,253.3h0M176.4,283.1h0M109.3,282.4h0M109.4,254.8h0M110.3,254.1h0"/>
<path stroke="#0000db" stroke-width="1.3" d="M146.1,272.1h0M137.0,261.8h0M127.8,293.7h0M128.6,294.2h0M129.5,294.7h0M130.3,295.3h0M131.2,295.8h0M155.1,295.5h0M156.0,295.0h0M156.8,294.4h0M157.7,293.9h0M156.9,245.5h0M156.0,245.0h0M155.1,244.5h0M154.3,243.9h0M132.2,243.5h0M131.4,244.0h0M130.5,244.6h0M129.6,245.1h0M128.8,245.6h0M174.9,251.7h0M176.0,252.9h0M177.1,253.7h0M178.0,254.6h0M179.5,283.6h0M178.5,284.4h0M107.2,283.7h0M111.8,255.9h0"/>
<path stroke="#e50000" stroke-width="1.75" d="M139.4,265.5h0"/>
<path stroke="#0000db" stroke-width="1.75" d="M136.0,262.8h0"/>
<path stroke="#d90000" stroke-width="1.3" d="M140.2,264.7h0M147.7,276.3h0M154.1,241.1h0M153.3,240.6h0M152.4,240.1h0M151.5,239.6h0M150.7,239.1h0M149.8,238.6h0M148.8,238.2h0M147.9,237.9h0M147.0,237.6h0M139.1,237.5h0M138.1,237.8h0M137.2,238.1h0M136.3,238.5h0M135.4,239.0h0M134.5,239.4h0M133.6,239.9h0M132.7,240.5h0M131.9,241.0h0M133.0,294.2h0M133.8,294.7h0M134.7,295.2h0M135.6,295.7h0M136.5,296.1h0M137.4,296.5h0M138.3,296.9h0M139.3,297.2h0M147.1,297.0h0M148.1,296.7h0M149.0,296.3h0M149.9,295.8h0M150.8,295.4h0M151.7,294.9h0M152.5,294.4h0M153.4,293.8h0M120.5,220.1h0M121.4,220.5h0M122.3,220.9h0M123.2,221.3h0M124.1,221.7h0M125.0,222.1h0M125.9,222.5h0M126.8,223.0h0M127.7,223.5h0M128.5,224.1h0M129.4,224.6h0M130.2,225.1h0M131.1,225.6h0M132.0,226.1h0M132.9,226.5h0M133.8,226.9h0M134.7,227.3h0M135.6,227.8h0M136.5,228.2h0M137.4,228.6h0M138.4,229.0h0M139.3,229.3h0M140.3,229.6h0M141.2,229.8h0M142.2,229.9h0M143.2,229.9h0M144.2,229.8h0M145.2,229.6h0M146.2,229.3h0M147.1,229.0h0M148.0,228.6h0M148.9,228.2h0M149.8,227.8h0M150.7,227.3h0M151.6,226.9h0M152.5,226.4h0M153.4,225.9h0M154.2,225.4h0M155.1,224.8h0M155.9,224.2h0M156.7,223.6h0M157.6,223.0h0M158.5,222.3h0M159.4,221.6h0M160.3,220.9h0M161.2,220.2h0M162.1,219.6h0M162.9,219.0h0M163.8,218.4h0M164.6,217.7h0M165.5,217.1h0M166.4,216.5h0M167.2,216.0h0M168.0,215.4h0M168.9,214.9h0M169.8,214.4h0M170.6,213.9h0M171.5,213.4h0M172.4,212.9h0M173.3,212.5h0M174.2,212.2h0M176.0,249.5h0M165.2,314.4h0M164.3,314.0h0M163.4,313.5h0M162.5,313.1h0M161.6,312.6h0M160.7,312.2h0M159.8,311.7h0M159.0,311.3h0M158.1,310.8h0M157.2,310.4h0M156.3,309.9h0M155.4,309.5h0M154.4,309.1h0M153.5,308.7h0M152.6,308.3h0M151.7,307.9h0M150.8,307.5h0M149.9,307.1h0M149.0,306.7h0M148.0,306.3h0M147.1,305.9h0M146.1,305.6h0M145.2,305.4h0M144.2,305.2h0M143.2,305.1h0M142.2,305.1h0M141.2,305.2h0M140.2,305.3h0M139.3,305.6h0M138.3,306.0h0M137.4,306.4h0M136.5,306.8h0M135.6,307.3h0M134.8,307.8h0M133.9,308.3h0M133.1,308.9h0M132.2,309.4h0M131.4,309.9h0M130.6,310.5h0M129.7,311.0h0M128.9,311.5h0M128.0,312.1h0M127.2,312.7h0M126.3,313.3h0M125.5,314.0h0M124.6,314.6h0M123.7,315.2h0M122.8,315.9h0M122.0,316.5h0M121.1,317.1h0M120.3,317.6h0M119.4,318.2h0M118.6,318.7h0M117.7,319.2h0M116.9,319.7h0M116.0,320.2h0M115.1,320.7h0M114.3,321.2h0M113.4,321.7h0M112.5,322.2h0M111.6,322.6h0M111.5,322.8h0M112.4,323.2h0"/>
<path stroke="#0000c9" stroke-width="1.3" d="M148.1,261.2h0M137.8,261.1h0M132.0,296.3h0M132.9,296.8h0M133.8,297.4h0M134.6,297.8h0M135.5,298.3h0M136.4,298.7h0M137.3,299.1h0M138.3,299.5h0M147.1,299.6h0M148.1,299.3h0M149.0,298.9h0M149.9,298.5h0M150.8,298.0h0M151.7,297.6h0M152.6,297.1h0M153.4,296.5h0M154.3,296.0h0M153.4,243.4h0M152.6,242.9h0M151.7,242.4h0M150.9,241.9h0M150.0,241.4h0M149.1,241.0h0M148.2,240.6h0M147.2,240.2h0M139.4,240.0h0M138.4,240.3h0M137.5,240.6h0M136.6,241.0h0M135.7,241.5h0M134.8,242.0h0M133.9,242.5h0M133.1,243.0h0M119.5,222.3h0M120.4,222.7h0M121.4,223.1h0M122.3,223.5h0M123.2,223.9h0M124.1,224.3h0M125.0,224.8h0M125.8,225.3h0M126.7,225.8h0M127.5,226.3h0M128.4,226.8h0M129.3,227.4h0M130.1,227.8h0M131.0,228.3h0M131.9,228.7h0M132.8,229.1h0M133.7,229.6h0M134.6,230.0h0M135.6,230.4h0M136.5,230.8h0M137.4,231.2h0M138.3,231.5h0M139.3,231.8h0M140.3,232.1h0M141.2,232.2h0M142.2,232.3h0M143.2,232.3h0M144.2,232.3h0M145.2,232.1h0M146.2,231.9h0M147.1,231.6h0M148.1,231.2h0M149.0,230.8h0M149.9,230.4h0M150.8,230.0h0M151.7,229.5h0M152.6,229.1h0M153.5,228.6h0M154.4,228.1h0M155.2,227.6h0M156.1,227.1h0M156.9,226.5h0M157.7,225.9h0M158.6,225.2h0M159.5,224.6h0M160.4,223.9h0M161.3,223.2h0M162.2,222.5h0M163.1,221.8h0M164.0,221.2h0M164.8,220.6h0M165.7,220.0h0M166.5,219.4h0M167.4,218.8h0M168.2,218.2h0M169.1,217.6h0M169.9,217.1h0M170.8,216.6h0M171.6,216.1h0M172.5,215.6h0M173.4,215.1h0M174.3,214.7h0M174.7,214.5h0M173.7,214.5h0M172.9,214.0h0M177.5,285.4h0M164.1,316.6h0M163.2,316.2h0M162.4,315.7h0M161.5,315.2h0M160.6,314.8h0M159.7,314.3h0M158.8,313.9h0M157.9,313.4h0M157.0,313.0h0M156.1,312.5h0M155.2,312.1h0M154.3,311.7h0M153.4,311.3h0M152.5,310.9h0M151.6,310.5h0M150.6,310.1h0M149.7,309.7h0M148.8,309.3h0M147.9,308.9h0M147.0,308.5h0M146.0,308.1h0M145.1,307.8h0M144.1,307.6h0M143.1,307.5h0M142.1,307.5h0M141.1,307.6h0M140.2,307.9h0M139.2,308.2h0M138.3,308.6h0M137.4,309.1h0M136.5,309.5h0M135.7,310.1h0M134.8,310.6h0M134.0,311.1h0M133.1,311.7h0M132.3,312.2h0M131.5,312.7h0M130.6,313.3h0M129.8,313.8h0M128.9,314.4h0M128.1,315.0h0M127.2,315.6h0M126.4,316.3h0M125.5,316.9h0M124.6,317.6h0M123.8,318.2h0M122.9,318.8h0M122.1,319.4h0M121.2,319.9h0M120.4,320.4h0M119.5,320.9h0M118.7,321.5h0M117.8,322.0h0M116.9,322.5h0M116.1,323.0h0M115.2,323.5h0M114.3,323.9h0M113.4,324.4h0M112.5,324.8h0M111.6,325.1h0"/>
<path stroke="#d90000" stroke-width="1.75" d="M175.4,284.2h0"/>
<path stroke="#0000c9" stroke-width="1.75" d="M112.9,254.8h0"/>
<path stroke="#cc0000" stroke-width="1.3" d="M144.9,264.3h0M138.2,276.4h0M139.1,276.8h0M146.8,276.8h0M146.0,237.3h0M145.0,237.1h0M144.0,237.0h0M143.0,237.0h0M142.0,237.0h0M141.0,237.1h0M140.0,237.3h0M140.2,297.4h0M141.2,297.6h0M142.2,297.7h0M143.2,297.7h0M144.2,297.7h0M145.2,297.5h0M146.2,297.3h0"/>
<path stroke="#0000b8" stroke-width="1.3" d="M140.5,272.7h0M145.3,272.7h0M147.3,260.7h0M138.6,260.6h0M139.2,299.7h0M140.2,300.0h0M141.2,300.1h0M142.2,300.2h0M143.2,300.2h0M144.2,300.2h0M145.2,300.0h0M146.2,299.8h0M146.3,239.9h0M145.3,239.7h0M144.3,239.6h0M143.3,239.5h0M142.3,239.5h0M141.3,239.6h0M140.3,239.7h0"/>
<path stroke="#0000b8" stroke-width="1.75" d="M173.5,250.1h0M108.6,285.2h0"/>
<path stroke="#cc0000" stroke-width="1.75" d="M110.7,283.9h0M111.3,252.9h0"/>
<path stroke="#bf0000" stroke-width="1.3" d="M141.0,264.2h0M140.0,277.2h0M145.9,277.1h0"/>
<path stroke="#0000a6" stroke-width="1.3" d="M141.4,273.1h0M144.4,273.1h0M146.4,260.2h0M145.4,259.9h0M140.5,259.9h0M139.5,260.2h0"/>
<path stroke="#0000a6" stroke-width="1.75" d="M176.5,286.7h0"/>
<path stroke="#bf0000" stroke-width="1.75" d="M174.3,285.7h0"/>
<path stroke="#b20000" stroke-width="1.3" d="M144.0,264.0h0M143.0,263.8h0M142.0,263.9h0M141.0,277.5h0M142.0,277.6h0M143.0,277.7h0M144.0,277.6h0M145.0,277.4h0"/>
<path stroke="#000094" stroke-width="1.3" d="M142.4,273.3h0M143.4,273.3h0M144.5,259.7h0M143.5,259.5h0M142.5,259.5h0M141.5,259.6h0"/>
<path stroke="#000094" stroke-width="1.75" d="M110.2,287.6h0M114.0,253.2h0"/>
<path stroke="#b20000" stroke-width="1.75" d="M113.0,323.9h0M112.2,286.3h0"/>
<path stroke="#a60000" stroke-width="1.75" d="M174.3,246.7h0M173.1,287.8h0M112.3,251.0h0"/>
<path stroke="#000082" stroke-width="1.75" d="M175.3,288.8h0"/>
<path stroke="#000070" stroke-width="1.75" d="M171.9,247.1h0M174.3,291.6h0M111.4,290.8h0M114.9,250.7h0"/>
<path stroke="#990000" stroke-width="1.75" d="M172.1,290.7h0M113.5,289.5h0"/>
<path stroke="#8c0000" stroke-width="1.75" d="M174.6,213.0h0M174.7,216.7h0M174.6,220.5h0M174.3,224.3h0M173.9,228.0h0M173.5,231.7h0M173.3,235.5h0M173.4,239.3h0M173.6,243.1h0M171.4,294.1h0M170.8,297.7h0M170.6,301.4h0M170.6,305.2h0M170.7,309.0h0M113.4,323.3h0M113.4,319.5h0M113.5,315.7h0M113.8,311.9h0M114.0,308.2h0M114.3,304.4h0M114.6,300.6h0M114.7,296.9h0M114.3,293.1h0M113.0,247.8h0M113.0,244.1h0M112.5,240.4h0M112.2,236.6h0M112.0,232.8h0M111.8,229.1h0"/>
<path stroke="#00005e" stroke-width="1.75" d="M172.2,213.3h0M172.3,217.1h0M172.2,220.9h0M171.9,224.6h0M171.4,228.4h0M171.1,232.1h0M170.9,235.9h0M171.0,239.6h0M171.3,243.4h0M173.6,295.1h0M173.1,298.7h0M173.0,302.5h0M173.0,306.3h0M110.9,324.7h0M111.0,320.9h0M111.1,317.1h0M111.3,313.3h0M111.6,309.6h0M111.8,305.8h0M112.1,302.0h0M112.3,298.3h0M112.1,294.5h0M115.5,247.3h0M115.3,243.5h0M114.9,239.8h0M114.6,236.0h0M114.4,232.3h0M114.2,228.5h0"/>
</g>
<defs><clipPath id="clip_d2"><rect x="238" y="210.3" width="123.9" height="117.7"/></clipPath></defs>
<g clip-path="url(#clip_d2)" fill="none" stroke-linecap="square">
<path stroke="#ffffff" stroke-width="1.3" d="M299.4,262.7h0M300.0,235.2h0M299.0,235.2h0M298.8,300.0h0M299.8,300.0h0M300.3,237.8h0M299.3,237.7h0M298.3,237.8h0M298.9,297.5h0M299.9,297.4h0M299.2,227.9h0M299.2,230.4h0M298.9,307.5h0M299.0,305.0h0"/>
<path stroke="#e5e5ff" stroke-width="1.3" d="M299.6,272.5h0M298.9,258.3h0M298.9,276.9h0M302.0,235.4h0M301.0,235.3h0M300.8,300.0h0M301.8,299.8h0M297.3,237.9h0M296.3,238.1h0M297.0,297.2h0M297.9,297.4h0M300.2,230.4h0"/>
<path stroke="#ffe5e5" stroke-width="1.3" d="M299.9,258.3h0M299.9,276.9h0M298.0,235.2h0M297.0,235.3h0M296.1,235.5h0M295.8,299.6h0M296.8,299.8h0M297.8,300.0h0M302.3,238.1h0M301.3,237.9h0M300.9,297.4h0M301.9,297.2h0M298.2,230.4h0"/>
<path stroke="#ffcccc" stroke-width="1.3" d="M298.6,272.4h0M295.1,235.8h0M294.1,236.1h0M293.9,299.0h0M294.9,299.3h0M304.2,238.7h0M303.2,238.3h0M302.9,297.0h0M303.9,296.7h0M300.2,227.9h0M299.9,307.5h0M298.0,305.0h0"/>
<path stroke="#ccccff" stroke-width="1.3" d="M297.9,258.4h0M297.9,276.8h0M304.9,236.3h0M303.9,235.9h0M303.0,235.7h0M302.8,299.6h0M303.7,299.3h0M304.7,299.0h0M295.4,238.3h0M294.4,238.7h0M294.1,296.4h0M295.0,296.7h0M296.0,297.0h0M298.2,227.9h0M331.6,212.1h0M297.9,307.6h0M300.0,305.1h0"/>
<path stroke="#ffb3b3" stroke-width="1.3" d="M298.4,262.8h0M300.9,258.4h0M300.9,276.8h0M293.2,236.5h0M292.3,236.9h0M292.1,298.2h0M293.0,298.6h0M306.0,239.5h0M305.1,239.0h0M304.8,296.3h0M305.7,295.9h0M301.2,227.7h0M297.2,230.3h0M300.9,307.7h0M297.0,305.2h0"/>
<path stroke="#b2b2ff" stroke-width="1.3" d="M306.7,237.1h0M305.8,236.7h0M305.6,298.6h0M306.5,298.2h0M293.5,239.0h0M292.6,239.5h0M292.3,295.6h0M293.2,296.0h0M297.2,227.7h0M331.2,209.7h0M301.2,230.3h0M267.4,325.6h0M301.0,305.2h0"/>
<path stroke="#9999ff" stroke-width="1.3" d="M300.4,262.9h0M300.6,272.3h0M297.0,258.6h0M297.0,276.6h0M308.5,238.0h0M307.6,237.6h0M307.4,297.7h0M308.3,297.3h0M309.1,296.8h0M291.7,239.9h0M290.8,240.4h0M290.5,294.6h0M291.4,295.1h0M302.2,230.0h0M296.9,307.7h0M302.0,305.4h0M267.4,323.2h0M248.0,262.7h0M249.0,262.4h0M249.9,262.2h0M250.9,261.9h0M251.9,261.7h0M252.8,261.4h0M253.8,261.1h0"/>
<path stroke="#ff9999" stroke-width="1.3" d="M291.4,237.3h0M290.5,237.8h0M289.7,238.3h0M289.5,296.8h0M290.3,297.3h0M291.2,297.8h0M307.8,240.4h0M306.9,239.9h0M306.6,295.4h0M307.5,295.0h0M308.3,294.5h0M296.2,230.0h0M296.1,305.4h0M247.3,260.3h0M248.3,260.1h0M249.3,259.8h0M250.2,259.5h0M251.2,259.3h0M252.2,259.0h0M253.1,258.7h0"/>
<path stroke="#ff8080" stroke-width="1.3" d="M301.9,258.7h0M301.9,276.5h0M288.8,238.8h0M288.0,239.4h0M287.8,295.7h0M288.6,296.2h0M310.3,242.0h0M309.5,241.5h0M308.6,240.9h0M309.2,293.9h0M310.0,293.4h0M302.2,227.5h0M303.1,227.2h0M295.3,229.8h0M330.6,212.1h0M301.9,307.9h0M246.4,260.6h0M254.1,258.4h0M255.1,258.2h0M256.0,257.9h0M257.0,257.6h0"/>
<path stroke="#8080ff" stroke-width="1.3" d="M311.0,239.6h0M310.2,239.1h0M309.3,238.6h0M310.0,296.2h0M310.8,295.7h0M290.0,240.9h0M289.1,241.4h0M288.3,242.0h0M288.8,293.6h0M289.7,294.1h0M295.3,227.2h0M296.2,227.5h0M303.1,229.8h0M302.9,305.7h0M247.0,263.0h0M254.8,260.8h0M255.7,260.5h0M256.7,260.3h0M257.6,259.9h0M258.6,259.6h0"/>
<path stroke="#ff6666" stroke-width="1.3" d="M297.4,263.1h0M297.6,272.2h0M302.8,259.0h0M302.8,276.2h0M287.1,239.9h0M286.3,240.4h0M285.4,241.0h0M285.2,294.1h0M286.1,294.7h0M286.9,295.2h0M312.0,243.0h0M311.2,242.5h0M310.9,292.9h0M311.7,292.3h0M304.0,226.8h0M330.3,210.1h0M276.5,220.5h0M277.4,220.9h0M293.4,229.1h0M294.3,229.5h0M308.3,310.6h0M303.7,308.6h0M302.8,308.3h0M250.5,275.3h0M249.6,274.9h0M248.7,274.5h0M247.8,274.1h0M246.8,273.8h0M295.1,305.7h0M267.5,323.0h0M257.9,257.2h0M258.8,256.9h0M259.8,256.5h0"/>
<path stroke="#6666ff" stroke-width="1.3" d="M296.0,258.9h0M296.0,276.3h0M312.7,240.7h0M311.9,240.1h0M311.7,295.2h0M312.5,294.6h0M287.4,242.5h0M286.6,243.0h0M287.1,292.5h0M288.0,293.0h0M277.4,218.2h0M278.4,218.6h0M294.4,226.8h0M304.1,229.5h0M305.0,229.1h0M331.2,212.3h0M296.0,308.0h0M268.4,325.3h0M309.4,308.4h0M304.8,306.4h0M303.9,306.0h0M251.7,273.1h0M250.8,272.7h0M249.9,272.3h0M248.9,272.0h0M248.0,271.6h0M247.1,271.2h0M259.5,259.3h0M260.4,258.9h0M261.3,258.5h0"/>
<path stroke="#4d4dff" stroke-width="1.3" d="M301.3,263.2h0M301.5,271.9h0M295.1,259.3h0M295.1,275.9h0M315.3,242.2h0M314.4,241.7h0M313.6,241.2h0M313.4,294.1h0M314.3,293.6h0M315.1,293.1h0M285.7,243.5h0M284.8,244.0h0M284.5,291.0h0M285.4,291.5h0M286.3,292.0h0M276.5,217.8h0M279.3,219.0h0M280.2,219.4h0M281.1,219.9h0M288.0,223.9h0M288.9,224.3h0M289.8,224.7h0M290.7,225.2h0M291.6,225.6h0M292.5,226.0h0M293.4,226.4h0M305.9,228.7h0M306.8,228.3h0M307.7,227.8h0M330.3,212.7h0M350.5,274.2h0M349.6,274.7h0M295.0,308.4h0M294.1,308.9h0M269.3,324.9h0M321.9,314.6h0M321.0,314.1h0M317.5,312.3h0M316.6,311.8h0M315.7,311.4h0M314.8,310.9h0M313.9,310.5h0M313.0,310.1h0M312.1,309.6h0M311.2,309.2h0M310.3,308.8h0M308.5,308.0h0M307.5,307.6h0M306.6,307.2h0M305.7,306.8h0M255.3,274.8h0M254.4,274.3h0M253.5,273.9h0M252.6,273.5h0M262.3,258.1h0M263.2,257.7h0"/>
<path stroke="#ff4c4c" stroke-width="1.3" d="M284.6,241.5h0M283.7,242.0h0M283.5,293.1h0M284.4,293.6h0M313.8,244.1h0M312.9,243.6h0M312.6,291.8h0M313.4,291.3h0M305.0,226.4h0M305.9,226.0h0M329.3,210.5h0M275.6,220.1h0M278.3,221.3h0M279.2,221.7h0M280.1,222.2h0M287.0,226.2h0M287.9,226.6h0M288.8,227.0h0M289.7,227.4h0M290.7,227.9h0M291.6,228.3h0M292.5,228.7h0M349.4,272.0h0M348.5,272.5h0M320.9,316.8h0M320.0,316.4h0M316.4,314.5h0M315.5,314.1h0M314.6,313.6h0M313.7,313.2h0M312.9,312.7h0M312.0,312.3h0M311.1,311.9h0M310.1,311.4h0M309.2,311.0h0M307.4,310.2h0M306.5,309.8h0M305.6,309.4h0M304.7,309.0h0M255.1,277.4h0M254.2,276.9h0M253.3,276.5h0M252.4,276.1h0M251.4,275.7h0M245.9,273.4h0M294.2,306.1h0M293.3,306.5h0M268.4,322.5h0M260.7,256.1h0M261.6,255.7h0M262.5,255.2h0"/>
<path stroke="#ff3333" stroke-width="1.3" d="M303.7,259.5h0M303.7,275.7h0M282.8,242.5h0M281.9,243.0h0M281.1,243.4h0M280.9,291.7h0M281.8,292.1h0M282.6,292.6h0M316.4,245.5h0M315.5,245.0h0M314.6,244.5h0M314.3,290.8h0M315.2,290.3h0M316.1,289.9h0M306.7,225.5h0M307.6,225.1h0M308.5,224.6h0M309.4,224.1h0M310.3,223.6h0M326.7,211.9h0M327.6,211.4h0M328.4,210.9h0M281.0,222.6h0M281.9,223.1h0M285.3,225.2h0M286.2,225.7h0M344.4,259.5h0M345.2,260.0h0M346.1,260.5h0M346.9,261.0h0M347.8,261.5h0M348.7,262.0h0M349.5,262.5h0M350.4,263.0h0M351.3,263.5h0M351.2,271.1h0M350.3,271.6h0M347.6,272.9h0M346.7,273.4h0M345.8,273.9h0M345.0,274.3h0M344.1,274.8h0M343.2,275.3h0M342.4,275.8h0M319.1,315.9h0M318.2,315.5h0M317.3,315.0h0M256.8,278.4h0M255.9,277.9h0M292.4,307.0h0M291.5,307.5h0M272.8,320.1h0M271.9,320.6h0M271.0,321.1h0M270.2,321.6h0M269.3,322.1h0M263.4,254.8h0"/>
<path stroke="#3333ff" stroke-width="1.3" d="M317.9,243.7h0M317.0,243.2h0M316.2,242.7h0M316.0,292.6h0M316.9,292.1h0M317.7,291.6h0M284.0,244.5h0M283.1,245.0h0M282.2,245.5h0M282.8,290.0h0M283.7,290.5h0M282.0,220.3h0M282.9,220.8h0M286.3,222.9h0M287.1,223.4h0M345.7,257.4h0M346.6,257.9h0M347.4,258.5h0M348.3,259.0h0M349.2,259.5h0M350.0,259.9h0M350.9,260.4h0M351.8,260.9h0M308.6,227.3h0M309.5,226.9h0M310.4,226.4h0M311.2,225.9h0M327.7,214.2h0M328.6,213.7h0M329.4,213.2h0M352.3,273.3h0M351.4,273.7h0M348.8,275.1h0M347.9,275.6h0M347.0,276.1h0M346.1,276.5h0M345.2,277.0h0M344.4,277.5h0M343.5,278.0h0M293.3,309.3h0M274.5,321.9h0M273.7,322.4h0M272.8,322.9h0M271.9,323.4h0M271.1,323.9h0M270.2,324.4h0M320.2,313.7h0M319.3,313.2h0M318.4,312.8h0M258.0,276.2h0M257.1,275.7h0M256.2,275.2h0M264.1,257.2h0M264.9,256.7h0"/>
<path stroke="#ff1a1a" stroke-width="1.3" d="M296.6,263.6h0M296.7,271.7h0M304.7,260.1h0M304.6,275.2h0M280.2,243.9h0M279.3,244.4h0M278.5,245.0h0M278.3,290.1h0M279.2,290.7h0M280.0,291.2h0M318.1,246.5h0M317.2,246.0h0M316.9,289.4h0M317.8,288.9h0M318.7,288.3h0M311.1,223.1h0M311.9,222.5h0M322.5,214.7h0M323.3,214.1h0M324.2,213.5h0M325.0,213.0h0M325.8,212.4h0M282.7,223.6h0M283.6,224.2h0M284.4,224.7h0M337.6,255.2h0M338.4,255.8h0M339.3,256.3h0M340.1,256.9h0M341.0,257.4h0M341.8,257.9h0M342.6,258.5h0M343.5,259.0h0M341.5,276.3h0M340.6,276.8h0M339.8,277.4h0M339.0,278.0h0M338.1,278.6h0M259.4,280.1h0M258.5,279.5h0M257.7,278.9h0M290.7,308.0h0M289.8,308.6h0M289.0,309.1h0M288.2,309.7h0M287.3,310.2h0M286.5,310.7h0M285.6,311.3h0M284.8,311.8h0M283.9,312.4h0M277.9,316.8h0M277.0,317.4h0M276.2,318.0h0M275.3,318.5h0M274.5,319.0h0M273.6,319.6h0M264.2,254.3h0"/>
<path stroke="#1a1aff" stroke-width="1.3" d="M294.3,259.9h0M294.2,275.3h0M320.5,245.2h0M319.7,244.7h0M318.8,244.2h0M318.6,291.1h0M319.5,290.6h0M320.3,290.1h0M281.4,246.0h0M280.5,246.5h0M280.2,288.5h0M281.1,289.0h0M281.9,289.5h0M283.7,221.3h0M284.6,221.9h0M285.4,222.4h0M338.9,253.1h0M339.8,253.7h0M340.6,254.2h0M341.5,254.8h0M342.3,255.3h0M343.1,255.9h0M344.0,256.4h0M344.8,256.9h0M312.1,225.4h0M312.9,224.8h0M324.3,216.4h0M325.2,215.8h0M326.0,215.2h0M326.8,214.7h0M342.6,278.5h0M341.8,279.0h0M340.9,279.6h0M340.1,280.2h0M339.3,280.8h0M292.4,309.8h0M291.6,310.4h0M290.7,310.9h0M289.9,311.5h0M289.0,312.0h0M288.2,312.5h0M287.4,313.1h0M286.5,313.6h0M285.7,314.2h0M279.6,318.6h0M278.7,319.2h0M277.9,319.8h0M277.1,320.3h0M276.2,320.9h0M275.4,321.4h0M260.5,277.9h0M259.7,277.3h0M258.8,276.7h0M265.8,256.2h0"/>
<path stroke="#0000ff" stroke-width="1.3" d="M302.3,271.4h0M293.5,260.5h0M323.3,247.2h0M322.2,246.4h0M321.3,245.8h0M321.2,289.6h0M322.0,289.0h0M322.8,288.3h0M279.7,247.0h0M278.8,247.6h0M278.0,248.2h0M277.5,286.6h0M278.5,287.3h0M279.3,288.0h0M337.1,251.7h0M338.0,252.5h0M313.8,224.2h0M314.6,223.6h0M315.5,223.0h0M316.4,222.3h0M317.3,221.6h0M318.2,220.8h0M319.1,220.1h0M320.0,219.5h0M320.9,218.9h0M321.7,218.2h0M322.6,217.6h0M323.4,217.0h0M338.4,281.4h0M337.5,282.1h0M336.7,282.8h0M284.9,314.8h0M284.0,315.4h0M283.1,316.0h0M282.2,316.7h0M281.4,317.4h0M280.5,318.0h0M268.3,323.6h0M262.3,279.2h0M261.4,278.5h0M266.6,255.6h0"/>
<path stroke="#ff0000" stroke-width="1.3" d="M277.6,245.5h0M276.8,246.1h0M276.0,246.7h0M275.6,288.2h0M276.6,289.0h0M277.5,289.6h0M320.7,248.3h0M319.8,247.6h0M319.0,247.1h0M319.5,287.8h0M320.3,287.2h0M321.2,286.5h0M312.8,221.9h0M313.6,221.3h0M314.5,220.6h0M315.4,219.9h0M316.3,219.2h0M317.2,218.5h0M318.1,217.8h0M319.0,217.2h0M319.9,216.5h0M320.7,215.9h0M321.6,215.3h0M329.7,211.6h0M334.8,253.1h0M335.8,253.9h0M336.7,254.6h0M337.3,279.2h0M336.4,279.8h0M335.6,280.5h0M261.2,281.5h0M260.2,280.7h0M283.1,313.0h0M282.2,313.6h0M281.4,314.3h0M280.5,314.9h0M279.6,315.6h0M278.7,316.2h0M265.1,253.7h0"/>
<path stroke="#0000ed" stroke-width="1.3" d="M293.1,274.4h0M324.5,248.3h0M323.8,287.5h0M277.1,248.9h0M276.1,249.9h0M276.3,285.5h0M334.0,249.0h0M335.1,250.1h0M336.1,250.9h0M335.7,283.5h0M264.4,281.0h0M263.4,280.0h0M267.4,254.9h0"/>
<path stroke="#f20000" stroke-width="1.3" d="M305.4,274.5h0M275.1,247.4h0M274.1,248.4h0M274.4,287.1h0M321.8,249.2h0M322.1,285.7h0M332.8,251.3h0M333.8,252.2h0M334.7,281.2h0M333.7,282.1h0M262.2,282.3h0M265.9,253.0h0"/>
<path stroke="#0000db" stroke-width="1.3" d="M302.7,264.2h0M324.7,286.5h0"/>
<path stroke="#e50000" stroke-width="1.3" d="M263.4,283.5h0"/>
<path stroke="#e50000" stroke-width="1.75" d="M323.2,250.7h0M323.1,284.6h0"/>
<path stroke="#d90000" stroke-width="1.3" d="M295.8,264.3h0M306.0,261.3h0M331.5,250.0h0M332.6,283.2h0"/>
<path stroke="#0000c9" stroke-width="1.3" d="M334.7,284.5h0M265.6,282.2h0M268.4,254.0h0"/>
<path stroke="#0000c9" stroke-width="1.75" d="M292.5,261.4h0M275.1,251.1h0M274.9,283.8h0"/>
<path stroke="#d90000" stroke-width="1.75" d="M273.0,249.6h0M273.0,285.6h0"/>
<path stroke="#cc0000" stroke-width="1.75" d="M306.4,273.4h0M324.3,283.0h0M266.8,252.0h0"/>
<path stroke="#0000b8" stroke-width="1.75" d="M325.9,250.1h0M325.8,285.2h0"/>
<path stroke="#bf0000" stroke-width="1.75" d="M271.9,251.4h0M331.5,284.6h0M264.9,285.2h0"/>
<path stroke="#0000a6" stroke-width="1.75" d="M273.9,252.9h0M332.5,247.5h0M333.6,285.9h0M267.0,284.0h0"/>
<path stroke="#000094" stroke-width="1.75" d="M303.2,270.4h0M327.4,252.8h0M327.0,283.3h0M268.9,324.3h0M269.5,252.6h0"/>
<path stroke="#b20000" stroke-width="1.75" d="M271.5,283.1h0M324.7,253.0h0M329.9,248.0h0"/>
<path stroke="#a60000" stroke-width="1.75" d="M270.8,253.9h0M325.4,280.7h0M330.4,286.4h0M266.4,287.8h0M267.9,250.4h0"/>
<path stroke="#000082" stroke-width="1.75" d="M273.4,281.2h0M332.5,287.7h0M268.5,286.6h0"/>
<path stroke="#000070" stroke-width="1.75" d="M291.4,262.9h0M291.5,272.3h0M328.1,280.6h0M272.9,255.4h0M331.0,244.4h0M331.5,290.3h0M270.6,250.4h0"/>
<path stroke="#990000" stroke-width="1.75" d="M270.3,279.7h0M326.0,256.3h0M329.3,289.0h0"/>
<path stroke="#8c0000" stroke-width="1.75" d="M307.5,271.6h0M270.0,257.1h0M326.2,277.7h0M329.1,210.9h0M329.2,214.7h0M329.0,218.5h0M328.7,222.2h0M328.3,226.0h0M327.9,229.7h0M327.8,233.5h0M327.8,237.2h0M328.0,241.0h0M328.6,244.8h0M328.5,292.2h0M327.9,295.8h0M327.5,299.5h0M327.4,303.2h0M327.5,307.0h0M266.8,325.1h0M266.9,321.3h0M267.0,317.5h0M267.2,313.8h0M267.5,310.0h0M267.7,306.2h0M268.0,302.5h0M268.2,298.7h0M268.1,294.9h0M267.5,291.2h0M268.8,247.7h0M269.0,244.0h0M268.6,240.3h0M268.3,236.5h0M268.1,232.8h0M267.9,229.0h0M267.7,225.2h0"/>
<path stroke="#00005e" stroke-width="1.75" d="M328.5,256.2h0M328.7,277.2h0M272.2,258.7h0M272.4,277.7h0M331.5,210.6h0M331.6,214.3h0M331.5,218.1h0M331.2,221.9h0M330.8,225.7h0M330.4,229.4h0M330.2,233.1h0M330.2,236.9h0M330.5,240.7h0M330.7,293.6h0M330.1,297.2h0M329.9,301.0h0M329.9,304.8h0M329.9,308.6h0M269.4,323.8h0M269.3,320.0h0M269.5,316.2h0M269.7,312.4h0M270.0,308.6h0M270.2,304.9h0M270.5,301.1h0M270.7,297.3h0M270.4,293.5h0M269.7,289.9h0M271.3,247.3h0M271.4,243.6h0M271.0,239.8h0M270.7,236.1h0M270.5,232.3h0M270.3,228.6h0M270.1,224.8h0"/>
<path stroke="#00004c" stroke-width="1.75" d="M304.1,267.6h0M304.0,268.3h0M290.5,265.4h0M290.3,268.9h0M328.8,267.6h0M328.8,263.8h0M328.8,260.0h0M328.9,273.5h0M328.8,269.7h0M272.1,262.5h0M272.2,266.3h0M272.1,270.1h0M272.1,273.9h0"/>
<path stroke="#800000" stroke-width="1.75" d="M294.9,265.8h0M294.7,268.9h0M308.4,267.6h0M307.6,263.9h0M308.3,268.8h0M269.7,260.8h0M269.8,264.6h0M269.8,268.4h0M269.7,272.2h0M269.8,276.0h0M326.4,267.6h0M326.5,263.8h0M326.5,260.0h0M326.5,274.0h0M326.5,270.2h0"/>
</g>
<defs><clipPath id="clip_d3"><rect x="395.2" y="210.9" width="123.6" height="116.9"/></clipPath></defs>
<g clip-path="url(#clip_d3)" fill="none" stroke="#d6c9cc" stroke-width="1.3">
<path d="M461.0,270.1L459.6,266.7L458.3,265.8L457.3,265.5L456.4,265.4L455.4,265.5L454.4,265.8L453.6,266.4L452.7,267.2L451.9,269.2L452.6,272.8L454.4,274.3L455.3,274.7L456.3,274.8L457.3,274.7L458.3,274.4L459.1,273.9L459.9,273.1L460.8,271.4Z"/>
<path d="M465.2,270.1L464.4,266.4L462.8,263.9L461.5,262.8L460.6,262.2L459.7,261.8L458.8,261.4L457.8,261.2L456.8,261.1L455.8,261.1L454.8,261.2L453.9,261.5L452.9,261.8L452.0,262.3L451.2,262.8L450.3,263.6L449.4,264.7L448.3,266.6L447.6,269.6L448.2,273.3L449.8,276.1L451.2,277.4L452.2,278.0L453.1,278.4L454.0,278.8L455.0,279.0L456.0,279.1L457.0,279.1L458.0,279.0L458.9,278.7L459.9,278.4L460.8,277.9L461.6,277.4L462.5,276.6L463.5,275.4L464.5,273.5L465.2,270.4Z"/>
</g>
<g clip-path="url(#clip_d3)" fill="none" stroke-linecap="square">
<path stroke="#ffffff" stroke-width="1.3" d="M456.3,301.5h0M456.4,241.2h0M456.1,299.0h0M456.3,306.3h0"/>
<path stroke="#ffffff" stroke-width="1.75" d="M480.8,255.6h0M432.0,255.7h0M486.7,288.0h0M428.5,253.6h0"/>
<path stroke="#e5e5ff" stroke-width="1.3" d="M457.0,238.7h0M457.3,301.4h0M455.4,241.3h0M456.1,234.1h0"/>
<path stroke="#ffe5e5" stroke-width="1.3" d="M456.0,238.7h0M455.3,301.4h0M457.4,241.3h0M457.1,299.0h0M456.1,231.7h0M456.2,308.7h0"/>
<path stroke="#e5e5ff" stroke-width="1.75" d="M429.6,254.8h0M482.5,286.5h0"/>
<path stroke="#ffe5e5" stroke-width="1.75" d="M430.2,286.3h0M480.5,285.1h0M486.6,252.0h0"/>
<path stroke="#ccccff" stroke-width="1.3" d="M457.9,238.8h0M458.3,301.3h0M455.1,298.9h0"/>
<path stroke="#ffcccc" stroke-width="1.3" d="M455.0,238.8h0M458.1,298.9h0M489.1,251.3h0"/>
<path stroke="#ffcccc" stroke-width="1.75" d="M483.4,255.3h0M430.8,253.0h0M431.6,283.8h0M488.9,288.8h0"/>
<path stroke="#b2b2ff" stroke-width="1.3" d="M458.9,239.0h0M454.4,241.4h0M454.1,298.8h0M457.1,231.7h0M457.2,308.8h0"/>
<path stroke="#ffb3b3" stroke-width="1.3" d="M454.0,238.9h0M454.3,301.3h0M458.4,241.4h0M457.1,234.1h0"/>
<path stroke="#b2b2ff" stroke-width="1.75" d="M481.9,252.8h0M433.1,254.0h0M433.1,286.3h0M481.6,282.9h0M424.1,288.6h0"/>
<path stroke="#ffb3b3" stroke-width="1.75" d="M483.6,284.4h0M426.1,287.4h0"/>
<path stroke="#9999ff" stroke-width="1.3" d="M459.9,239.2h0M459.3,301.2h0M453.4,241.6h0M453.2,298.6h0M455.3,306.3h0"/>
<path stroke="#ff9999" stroke-width="1.3" d="M453.0,239.2h0M431.9,251.6h0M431.7,288.3h0M453.3,301.1h0M479.2,253.4h0M459.4,241.6h0M459.1,298.7h0M455.2,308.7h0M457.3,306.4h0"/>
<path stroke="#9999ff" stroke-width="1.75" d="M481.4,288.0h0"/>
<path stroke="#ff9999" stroke-width="1.75" d="M479.4,286.6h0"/>
<path stroke="#8080ff" stroke-width="1.3" d="M480.5,251.2h0M460.2,300.9h0M480.3,289.2h0M452.5,241.8h0M434.1,252.8h0M434.5,287.7h0M455.2,234.1h0"/>
<path stroke="#ff8080" stroke-width="1.3" d="M452.0,239.4h0M452.3,300.9h0M460.3,241.8h0M460.1,298.4h0M478.4,287.7h0M455.1,231.7h0"/>
<path stroke="#8080ff" stroke-width="1.75" d="M428.8,283.3h0"/>
<path stroke="#ff8080" stroke-width="1.75" d="M430.9,258.2h0"/>
<path stroke="#6666ff" stroke-width="1.3" d="M460.9,239.5h0M461.2,300.6h0M451.5,242.2h0M435.1,251.9h0M452.2,298.3h0M458.1,231.6h0"/>
<path stroke="#ff6666" stroke-width="1.3" d="M451.1,239.8h0M432.9,250.6h0M432.9,289.6h0M451.4,300.5h0M478.0,252.1h0M461.3,242.2h0M461.0,298.1h0"/>
<path stroke="#6666ff" stroke-width="1.75" d="M428.6,257.4h0M482.1,258.8h0"/>
<path stroke="#ff6666" stroke-width="1.75" d="M426.8,251.3h0"/>
<path stroke="#4d4dff" stroke-width="1.3" d="M479.3,250.1h0M461.8,239.8h0M462.1,300.3h0M479.4,290.0h0M435.6,288.7h0M451.3,297.9h0M488.1,253.6h0M458.2,308.9h0"/>
<path stroke="#ff4c4c" stroke-width="1.3" d="M433.8,249.9h0M434.0,290.4h0M450.5,300.2h0M476.9,251.3h0M461.9,297.8h0M477.4,288.5h0M458.1,234.0h0M458.3,306.5h0"/>
<path stroke="#3333ff" stroke-width="1.3" d="M478.3,249.4h0M462.7,240.2h0M463.0,299.9h0M478.5,290.7h0M450.6,242.6h0M436.0,251.2h0M436.5,289.4h0M450.3,297.5h0M454.2,233.9h0M454.3,306.4h0"/>
<path stroke="#ff3333" stroke-width="1.3" d="M450.2,240.2h0M434.6,249.3h0M434.9,291.1h0M449.6,299.8h0M462.2,242.5h0M462.9,297.3h0M476.6,289.2h0M454.1,231.5h0M490.4,252.5h0M454.3,308.9h0"/>
<path stroke="#ff3333" stroke-width="1.75" d="M484.5,258.7h0M484.5,281.5h0M430.4,280.3h0"/>
<path stroke="#3333ff" stroke-width="1.75" d="M425.8,253.8h0"/>
<path stroke="#1a1aff" stroke-width="1.3" d="M477.4,248.8h0M463.6,240.6h0M463.9,299.4h0M477.7,291.3h0M449.7,243.0h0M436.8,250.6h0M437.4,290.0h0M449.4,297.1h0M459.1,231.3h0M459.2,309.2h0"/>
<path stroke="#ff1a1a" stroke-width="1.3" d="M449.3,240.6h0M448.4,241.0h0M435.5,248.7h0M435.8,291.7h0M448.7,299.3h0M476.0,250.6h0M463.1,243.0h0M463.7,296.9h0M475.8,289.7h0"/>
<path stroke="#1a1aff" stroke-width="1.75" d="M482.4,279.8h0M487.9,286.2h0"/>
<path stroke="#ff1a1a" stroke-width="1.75" d="M490.0,287.2h0"/>
<path stroke="#0000ff" stroke-width="1.3" d="M476.6,248.2h0M465.4,241.6h0M464.5,241.1h0M464.8,298.9h0M476.0,292.3h0M476.9,291.8h0M448.8,243.5h0M447.9,244.0h0M438.5,249.6h0M437.6,250.1h0M438.2,290.5h0M448.6,296.6h0M453.2,233.7h0M453.3,306.7h0"/>
<path stroke="#ff0000" stroke-width="1.3" d="M447.5,241.5h0M436.3,248.2h0M436.6,292.2h0M447.8,298.8h0M475.2,250.1h0M474.3,249.5h0M464.8,243.9h0M464.0,243.4h0M464.6,296.4h0M474.9,290.3h0M453.2,231.2h0M459.1,233.8h0M453.3,309.2h0M459.3,306.7h0"/>
<path stroke="#0000ed" stroke-width="1.3" d="M475.7,247.7h0M474.9,247.2h0M466.2,242.1h0M465.7,298.4h0M466.5,297.9h0M475.1,292.8h0M447.1,244.5h0M439.3,249.1h0M439.1,291.0h0M446.9,295.6h0M447.7,296.1h0M460.0,231.0h0M489.2,254.7h0M460.1,309.5h0M424.8,255.2h0"/>
<path stroke="#f20000" stroke-width="1.3" d="M446.6,242.0h0M438.0,247.1h0M437.2,247.6h0M437.5,292.7h0M446.1,297.8h0M446.9,298.3h0M473.4,249.0h0M465.7,244.5h0M465.5,295.9h0M473.2,291.3h0M474.1,290.8h0M491.4,253.5h0M460.1,233.5h0M491.1,286.1h0M452.4,309.5h0M460.2,307.0h0"/>
<path stroke="#0000ed" stroke-width="1.75" d="M427.9,260.7h0M428.0,279.6h0M487.8,291.2h0M422.6,286.4h0"/>
<path stroke="#f20000" stroke-width="1.75" d="M430.2,261.4h0M427.4,255.7h0"/>
<path stroke="#0000db" stroke-width="1.3" d="M474.0,246.7h0M473.1,246.2h0M468.8,243.7h0M467.9,243.2h0M467.1,242.6h0M467.4,297.4h0M468.2,296.9h0M472.5,294.3h0M473.4,293.8h0M474.3,293.3h0M446.2,245.0h0M445.4,245.5h0M441.1,248.1h0M440.2,248.6h0M440.0,291.5h0M440.8,292.0h0M445.2,294.5h0M446.0,295.1h0M461.0,230.7h0M452.2,233.4h0M490.2,255.6h0M489.0,284.8h0M461.0,309.9h0M452.4,307.0h0M423.8,256.2h0"/>
<path stroke="#e50000" stroke-width="1.3" d="M445.8,242.6h0M444.9,243.1h0M444.1,243.6h0M439.8,246.2h0M438.9,246.6h0M438.3,293.2h0M439.2,293.7h0M440.1,294.2h0M444.4,296.7h0M445.2,297.3h0M472.6,248.5h0M471.7,248.1h0M467.4,245.5h0M466.5,245.0h0M466.3,295.4h0M467.2,294.8h0M471.5,292.3h0M472.3,291.8h0M452.2,230.9h0M492.4,254.3h0M461.0,233.2h0M451.5,310.0h0M461.2,307.4h0"/>
<path stroke="#0000db" stroke-width="1.75" d="M487.4,248.8h0"/>
<path stroke="#e50000" stroke-width="1.75" d="M424.6,285.2h0"/>
<path stroke="#0000c9" stroke-width="1.3" d="M472.2,245.7h0M471.4,245.2h0M470.5,244.7h0M469.6,244.2h0M469.1,296.3h0M469.9,295.8h0M470.8,295.3h0M471.7,294.8h0M444.5,246.1h0M443.7,246.6h0M442.8,247.1h0M441.9,247.6h0M441.7,292.5h0M442.6,293.0h0M443.4,293.5h0M444.3,294.0h0M461.9,230.3h0M462.8,229.8h0M450.4,232.7h0M451.3,233.1h0M491.2,256.4h0M490.0,283.8h0M462.9,310.7h0M462.0,310.3h0M421.3,285.1h0M420.2,284.0h0M451.5,307.3h0M450.6,307.8h0M423.0,256.9h0"/>
<path stroke="#d90000" stroke-width="1.3" d="M443.2,244.2h0M442.4,244.7h0M441.5,245.2h0M440.7,245.7h0M440.9,294.7h0M441.8,295.2h0M442.7,295.7h0M443.5,296.2h0M470.8,247.6h0M470.0,247.1h0M469.1,246.6h0M468.2,246.0h0M468.0,294.3h0M468.9,293.8h0M469.7,293.3h0M470.6,292.8h0M450.4,230.1h0M451.3,230.5h0M493.4,255.1h0M494.3,255.8h0M462.0,232.8h0M492.9,284.4h0M492.0,285.2h0M450.6,310.5h0M449.7,311.0h0M462.1,307.8h0M423.2,283.6h0M425.3,258.0h0M426.3,257.1h0"/>
<path stroke="#0000c9" stroke-width="1.75" d="M482.7,262.5h0"/>
<path stroke="#d90000" stroke-width="1.75" d="M485.6,290.4h0"/>
<path stroke="#cc0000" stroke-width="1.3" d="M434.4,222.0h0M435.3,222.4h0M436.2,222.8h0M437.1,223.2h0M438.0,223.6h0M438.9,224.0h0M439.8,224.5h0M440.7,225.0h0M441.5,225.5h0M442.4,226.0h0M443.2,226.5h0M444.1,227.1h0M445.0,227.6h0M445.8,228.0h0M446.8,228.4h0M447.7,228.9h0M448.6,229.3h0M449.5,229.7h0M495.2,256.4h0M496.0,257.0h0M496.9,257.5h0M497.7,258.0h0M498.6,258.6h0M499.4,259.1h0M500.3,259.6h0M501.1,260.2h0M502.0,260.7h0M502.8,261.2h0M503.7,261.7h0M504.6,262.2h0M505.4,262.7h0M506.3,263.2h0M507.2,263.7h0M462.9,232.4h0M463.8,232.0h0M464.7,231.5h0M465.6,231.1h0M466.4,230.6h0M467.3,230.1h0M468.2,229.6h0M469.0,229.1h0M469.9,228.5h0M470.7,227.9h0M471.5,227.3h0M472.4,226.6h0M473.3,225.9h0M474.2,225.2h0M475.2,224.5h0M476.1,223.8h0M476.9,223.2h0M477.8,222.6h0M478.7,221.9h0M479.5,221.3h0M480.4,220.7h0M481.2,220.1h0M482.1,219.5h0M482.9,219.0h0M483.8,218.5h0M484.6,218.0h0M485.5,217.5h0M486.4,217.0h0M487.3,216.6h0M487.6,216.5h0M486.6,216.4h0M485.7,215.9h0M507.7,275.6h0M506.8,276.1h0M505.9,276.5h0M505.0,277.0h0M504.1,277.4h0M503.3,277.9h0M502.4,278.4h0M501.5,278.8h0M500.6,279.3h0M499.7,279.8h0M498.9,280.3h0M498.0,280.8h0M497.2,281.4h0M496.4,282.0h0M495.5,282.5h0M494.7,283.1h0M493.8,283.8h0M448.9,311.5h0M448.0,312.0h0M447.2,312.6h0M446.4,313.1h0M445.5,313.7h0M444.7,314.2h0M443.8,314.7h0M443.0,315.3h0M442.1,315.9h0M441.3,316.6h0M440.4,317.2h0M439.5,317.9h0M438.7,318.5h0M437.8,319.1h0M436.9,319.8h0M436.1,320.4h0M435.2,320.9h0M434.4,321.4h0M433.5,322.0h0M432.7,322.5h0M431.8,323.0h0M430.9,323.5h0M430.1,324.0h0M429.2,324.5h0M428.3,325.0h0M427.4,325.4h0M426.5,325.9h0M425.6,326.2h0M478.3,315.6h0M477.4,315.1h0M476.5,314.7h0M475.6,314.2h0M474.7,313.7h0M473.9,313.3h0M473.0,312.8h0M472.1,312.4h0M471.2,311.9h0M470.3,311.5h0M469.4,311.0h0M468.5,310.6h0M467.6,310.2h0M466.7,309.8h0M465.7,309.4h0M464.8,309.0h0M463.9,308.6h0M463.0,308.2h0M422.1,282.6h0M421.1,281.7h0M420.1,281.0h0M419.3,280.3h0M418.4,279.7h0M417.6,279.1h0M416.7,278.6h0M415.9,278.1h0M415.0,277.6h0M414.1,277.2h0M413.2,276.7h0M412.3,276.3h0M411.4,275.9h0M410.5,275.5h0M409.5,275.1h0M408.6,274.7h0M407.7,274.3h0M406.8,273.9h0M405.8,273.6h0M405.8,265.6h0M406.8,265.4h0M407.8,265.1h0M408.7,264.8h0M409.7,264.6h0M410.7,264.3h0M411.6,264.0h0M412.6,263.8h0M413.5,263.5h0M414.5,263.2h0M415.5,262.9h0M416.4,262.6h0M417.3,262.3h0M418.3,261.9h0M419.2,261.5h0M420.1,261.1h0M421.0,260.7h0M421.9,260.3h0M422.8,259.8h0M423.7,259.3h0M424.5,258.7h0"/>
<path stroke="#0000b8" stroke-width="1.3" d="M463.7,229.4h0M464.6,228.9h0M465.4,228.4h0M466.3,228.0h0M467.2,227.4h0M468.0,226.9h0M468.8,226.3h0M469.7,225.7h0M470.6,225.1h0M471.5,224.4h0M472.4,223.7h0M473.3,222.9h0M474.2,222.2h0M475.1,221.6h0M475.9,221.0h0M476.8,220.4h0M477.7,219.7h0M478.5,219.1h0M479.4,218.5h0M480.2,217.9h0M481.1,217.4h0M481.9,216.8h0M482.8,216.3h0M483.6,215.8h0M484.5,215.3h0M485.4,214.8h0M486.3,214.5h0M487.3,214.1h0M433.4,224.2h0M434.3,224.6h0M435.3,225.0h0M436.2,225.4h0M437.1,225.8h0M438.0,226.2h0M438.9,226.7h0M439.7,227.2h0M440.6,227.7h0M441.4,228.2h0M442.3,228.8h0M443.1,229.3h0M444.0,229.8h0M444.9,230.2h0M445.8,230.6h0M446.7,231.1h0M447.6,231.5h0M448.5,231.9h0M449.4,232.3h0M492.1,257.1h0M493.0,257.8h0M493.9,258.4h0M494.7,259.0h0M495.6,259.5h0M496.4,260.0h0M497.3,260.6h0M498.1,261.1h0M499.0,261.6h0M499.8,262.2h0M500.7,262.7h0M501.5,263.2h0M502.4,263.7h0M503.3,264.2h0M504.1,264.7h0M505.0,265.2h0M505.9,265.7h0M506.7,266.2h0M506.6,273.5h0M505.7,273.9h0M504.8,274.4h0M503.9,274.9h0M503.0,275.3h0M502.2,275.8h0M501.3,276.2h0M500.4,276.7h0M499.5,277.2h0M498.6,277.7h0M497.8,278.2h0M496.9,278.7h0M496.1,279.3h0M495.3,279.8h0M494.4,280.4h0M493.6,281.0h0M492.7,281.6h0M491.8,282.3h0M491.0,283.0h0M477.3,317.7h0M476.4,317.3h0M475.5,316.8h0M474.6,316.3h0M473.7,315.9h0M472.8,315.4h0M471.9,315.0h0M471.0,314.5h0M470.1,314.1h0M469.3,313.6h0M468.4,313.2h0M467.4,312.8h0M466.5,312.3h0M465.6,311.9h0M464.7,311.6h0M463.8,311.2h0M419.1,283.2h0M418.2,282.5h0M417.3,281.9h0M416.5,281.3h0M415.6,280.7h0M414.8,280.2h0M413.9,279.7h0M413.0,279.3h0M412.1,278.9h0M411.2,278.4h0M410.3,278.0h0M409.4,277.6h0M408.5,277.2h0M407.5,276.9h0M406.6,276.5h0M405.7,276.1h0M404.8,275.7h0M449.7,308.2h0M448.8,308.7h0M448.0,309.3h0M447.1,309.8h0M446.3,310.3h0M445.4,310.9h0M444.6,311.4h0M443.8,311.9h0M442.9,312.5h0M442.1,313.0h0M441.3,313.6h0M440.4,314.2h0M439.5,314.9h0M438.7,315.5h0M437.8,316.2h0M436.9,316.8h0M436.0,317.5h0M435.2,318.1h0M434.3,318.6h0M433.5,319.2h0M432.6,319.7h0M431.8,320.2h0M430.9,320.7h0M430.1,321.3h0M429.2,321.8h0M428.3,322.3h0M427.5,322.7h0M426.6,323.2h0M425.7,323.6h0M425.5,323.8h0M426.4,324.2h0M405.2,263.3h0M406.2,263.0h0M407.1,262.8h0M408.1,262.5h0M409.1,262.3h0M410.0,262.0h0M411.0,261.7h0M411.9,261.5h0M412.9,261.2h0M413.9,260.9h0M414.8,260.6h0M415.8,260.3h0M416.7,259.9h0M417.6,259.6h0M418.6,259.2h0M419.5,258.8h0M420.4,258.4h0M421.3,257.9h0M422.1,257.4h0"/>
<path stroke="#cc0000" stroke-width="1.75" d="M485.0,262.5h0M485.0,277.9h0M425.4,291.9h0"/>
<path stroke="#0000b8" stroke-width="1.75" d="M427.4,290.5h0"/>
<path stroke="#bf0000" stroke-width="1.75" d="M430.1,276.6h0M485.1,249.2h0"/>
<path stroke="#0000a6" stroke-width="1.75" d="M482.7,276.2h0"/>
<path stroke="#000094" stroke-width="1.75" d="M427.8,264.5h0M427.8,275.9h0M429.3,250.4h0"/>
<path stroke="#b20000" stroke-width="1.75" d="M430.1,265.2h0"/>
<path stroke="#990000" stroke-width="1.75" d="M485.0,266.3h0M485.0,274.1h0M430.1,272.8h0M427.1,247.8h0"/>
<path stroke="#000070" stroke-width="1.75" d="M482.7,266.3h0M427.0,325.0h0"/>
<path stroke="#8c0000" stroke-width="1.75" d="M484.9,270.1h0M484.9,270.4h0M430.1,269.0h0M484.7,293.5h0"/>
<path stroke="#00005e" stroke-width="1.75" d="M427.9,268.3h0M427.9,272.1h0M482.7,270.1h0M482.7,272.4h0M486.9,294.4h0"/>
<path stroke="#00004c" stroke-width="1.75" d="M487.6,215.0h0M487.6,218.7h0M487.5,222.5h0M487.2,226.3h0M486.8,230.1h0M486.4,233.8h0M486.3,237.5h0M486.4,241.3h0M486.6,245.1h0M486.3,297.9h0M486.0,301.6h0M486.0,305.4h0M486.0,309.2h0M427.4,324.3h0M427.4,320.5h0M427.6,316.7h0M427.8,312.9h0M428.1,309.2h0M428.3,305.4h0M428.6,301.6h0M428.7,297.9h0M428.3,294.1h0M429.4,246.8h0M429.0,243.0h0M428.7,239.3h0M428.5,235.5h0M428.3,231.7h0M428.1,227.9h0"/>
<path stroke="#800000" stroke-width="1.75" d="M485.2,215.5h0M485.3,219.2h0M485.1,223.0h0M484.8,226.7h0M484.4,230.5h0M484.1,234.2h0M483.9,238.0h0M484.0,241.8h0M484.3,245.5h0M484.1,297.1h0M483.7,300.8h0M483.6,304.6h0M483.7,308.4h0M425.0,325.7h0M425.0,322.0h0M425.1,318.2h0M425.3,314.4h0M425.6,310.6h0M425.9,306.8h0M426.2,303.1h0M426.3,299.3h0M426.1,295.5h0M426.8,244.0h0M426.4,240.3h0M426.2,236.5h0M426.0,232.7h0M425.8,229.0h0"/>
</g>
<defs><clipPath id="clip_e1"><rect x="81.3" y="341.9" width="124.2" height="114.6"/></clipPath></defs>
<g clip-path="url(#clip_e1)" fill="none" stroke-linecap="square">
<path stroke="#ffffff" stroke-width="1.75" d="M153.4,399.8h0M156.8,399.8h0M112.9,416.9h0"/>
<path stroke="#e5e5ff" stroke-width="1.3" d="M173.7,381.5h0"/>
<path stroke="#e5e5ff" stroke-width="1.75" d="M172.8,384.6h0"/>
<path stroke="#ffcccc" stroke-width="1.3" d="M170.6,382.0h0"/>
<path stroke="#ccccff" stroke-width="1.3" d="M116.5,417.2h0"/>
<path stroke="#ffcccc" stroke-width="1.75" d="M153.4,400.5h0M114.9,414.2h0"/>
<path stroke="#b2b2ff" stroke-width="1.3" d="M172.4,380.7h0M117.8,417.9h0"/>
<path stroke="#ffb3b3" stroke-width="1.3" d="M115.7,419.1h0"/>
<path stroke="#b2b2ff" stroke-width="1.75" d="M131.1,401.2h0M156.7,401.3h0"/>
<path stroke="#ffb3b3" stroke-width="1.75" d="M175.0,384.6h0"/>
<path stroke="#9999ff" stroke-width="1.3" d="M171.2,379.9h0M119.1,418.7h0"/>
<path stroke="#ff9999" stroke-width="1.3" d="M117.0,419.9h0M169.4,381.3h0"/>
<path stroke="#ff9999" stroke-width="1.75" d="M134.5,401.4h0M131.3,397.5h0"/>
<path stroke="#8080ff" stroke-width="1.3" d="M169.9,379.2h0M120.4,419.5h0"/>
<path stroke="#ff8080" stroke-width="1.3" d="M118.3,420.6h0M168.1,380.5h0"/>
<path stroke="#8080ff" stroke-width="1.75" d="M134.6,397.8h0M112.8,413.1h0"/>
<path stroke="#6666ff" stroke-width="1.3" d="M168.6,378.4h0M121.7,420.2h0"/>
<path stroke="#ff6666" stroke-width="1.3" d="M119.5,421.4h0M166.8,379.8h0"/>
<path stroke="#ff6666" stroke-width="1.75" d="M181.1,342.5h0M180.2,345.9h0M179.4,349.4h0M178.6,352.9h0M177.8,356.4h0M177.2,360.0h0M176.6,363.7h0M176.2,367.4h0M176.0,371.2h0M176.1,375.0h0M173.3,420.3h0M173.3,424.1h0M173.6,427.8h0M174.0,431.6h0M174.5,435.3h0M175.2,438.9h0M175.9,442.6h0M113.6,418.8h0M113.7,422.5h0M113.1,426.2h0M112.5,429.8h0M112.0,433.5h0M111.3,437.2h0M110.7,440.8h0M110.0,444.4h0M109.2,448.0h0M108.4,451.5h0M107.7,455.1h0M111.6,378.0h0M112.0,374.5h0M111.7,370.7h0M111.0,367.1h0M110.3,363.5h0M109.6,359.9h0M108.9,356.3h0"/>
<path stroke="#6666ff" stroke-width="1.75" d="M179.0,341.9h0M178.2,345.3h0M177.3,348.8h0M176.5,352.3h0M175.8,355.9h0M175.2,359.5h0M174.6,363.1h0M174.1,366.8h0M173.9,370.6h0M174.0,374.4h0M174.7,378.1h0M175.4,420.8h0M175.4,424.6h0M175.8,428.3h0M176.2,432.1h0M176.7,435.8h0M177.4,439.4h0M178.1,443.0h0M111.5,419.1h0M111.5,422.6h0M110.9,426.3h0M110.3,429.9h0M109.8,433.7h0M109.2,437.3h0M108.5,440.9h0M107.8,444.5h0M107.1,448.1h0M106.3,451.6h0M105.5,455.2h0M113.6,378.5h0M114.1,375.0h0M113.9,371.2h0M113.2,367.5h0M112.5,364.0h0M111.8,360.4h0M111.1,356.8h0"/>
<path stroke="#4d4dff" stroke-width="1.3" d="M167.3,377.6h0M166.0,376.9h0M123.0,421.0h0"/>
<path stroke="#ff4c4c" stroke-width="1.3" d="M120.8,422.1h0M122.1,422.9h0M165.5,379.0h0M164.2,378.2h0"/>
<path stroke="#ff4c4c" stroke-width="1.75" d="M156.2,396.1h0M177.1,378.6h0M174.1,417.4h0"/>
<path stroke="#4d4dff" stroke-width="1.75" d="M172.9,388.4h0M176.1,417.9h0"/>
<path stroke="#3333ff" stroke-width="1.3" d="M164.7,376.1h0M124.2,421.7h0M125.5,422.5h0"/>
<path stroke="#ff3333" stroke-width="1.3" d="M123.4,423.7h0M162.9,377.5h0"/>
<path stroke="#3333ff" stroke-width="1.75" d="M155.8,404.5h0"/>
<path stroke="#ff3333" stroke-width="1.75" d="M175.0,388.4h0M114.9,410.4h0"/>
<path stroke="#1a1aff" stroke-width="1.3" d="M163.4,375.4h0M162.1,374.6h0M122.8,376.3h0M121.5,377.1h0M126.8,423.2h0M163.5,421.7h0M164.8,421.0h0"/>
<path stroke="#ff1a1a" stroke-width="1.3" d="M124.7,424.4h0M126.0,425.2h0M165.3,423.1h0M166.6,422.3h0M161.6,376.7h0M160.3,376.0h0M123.6,378.2h0"/>
<path stroke="#1a1aff" stroke-width="1.75" d="M152.7,396.1h0M132.1,404.8h0M112.5,381.0h0"/>
<path stroke="#ff1a1a" stroke-width="1.75" d="M152.6,403.5h0M132.2,394.5h0M112.5,416.2h0"/>
<path stroke="#0000ff" stroke-width="1.3" d="M160.8,373.9h0M159.5,373.1h0M158.2,372.4h0M156.9,371.7h0M129.3,372.6h0M128.0,373.3h0M126.7,374.1h0M125.4,374.8h0M124.1,375.6h0M120.2,377.8h0M118.9,378.6h0M117.6,379.4h0M116.3,380.1h0M128.1,424.0h0M129.5,424.7h0M130.8,425.5h0M157.0,425.5h0M158.3,424.7h0M159.6,424.0h0M160.9,423.2h0M162.2,422.5h0M166.1,420.2h0M167.4,419.5h0M168.7,418.7h0M170.0,417.9h0"/>
<path stroke="#ff0000" stroke-width="1.3" d="M127.3,425.9h0M128.6,426.6h0M129.9,427.4h0M157.5,427.6h0M158.8,426.8h0M160.1,426.1h0M161.4,425.3h0M162.7,424.6h0M164.0,423.8h0M167.9,421.6h0M169.2,420.8h0M170.5,420.0h0M171.8,419.3h0M159.0,375.2h0M157.7,374.5h0M156.4,373.8h0M131.4,373.8h0M130.1,374.5h0M128.8,375.3h0M127.5,376.0h0M126.2,376.7h0M124.9,377.5h0M122.3,379.0h0M121.0,379.8h0M119.7,380.5h0M118.4,381.3h0"/>
<path stroke="#0000ff" stroke-width="1.75" d="M135.6,395.1h0M176.2,381.1h0M110.5,417.0h0"/>
<path stroke="#ff0000" stroke-width="1.75" d="M175.3,415.4h0M112.9,456.6h0M110.5,380.2h0"/>
<path stroke="#0000ed" stroke-width="1.3" d="M150.9,393.5h0M136.9,393.5h0M153.3,408.4h0M155.6,370.9h0M154.3,370.2h0M152.9,369.5h0M151.6,368.7h0M150.3,368.0h0M149.0,367.3h0M147.7,366.6h0M139.8,366.8h0M138.5,367.5h0M137.1,368.2h0M135.8,368.9h0M134.5,369.7h0M133.2,370.4h0M131.9,371.1h0M130.6,371.9h0M115.0,380.9h0M113.7,381.7h0M132.1,426.2h0M133.4,426.9h0M134.7,427.7h0M136.0,428.4h0M137.3,429.1h0M138.6,429.8h0M139.9,430.6h0M147.8,430.6h0M149.2,429.8h0M150.5,429.1h0M151.8,428.4h0M153.1,427.7h0M154.4,426.9h0M155.7,426.2h0M171.3,417.2h0M172.6,416.4h0M177.3,416.3h0M119.9,452.1h0M118.5,453.6h0M117.1,455.1h0M115.7,456.6h0M111.2,382.6h0"/>
<path stroke="#f20000" stroke-width="1.3" d="M134.8,390.9h0M131.2,428.1h0M132.6,428.9h0M133.9,429.6h0M135.2,430.3h0M136.5,431.0h0M137.8,431.8h0M139.1,432.5h0M148.4,432.7h0M149.7,431.9h0M151.0,431.2h0M152.3,430.5h0M153.6,429.8h0M154.9,429.0h0M156.2,428.3h0M173.1,418.5h0M174.4,417.7h0M155.1,373.0h0M153.8,372.3h0M152.4,371.6h0M151.1,370.8h0M149.8,370.1h0M148.5,369.4h0M147.2,368.7h0M140.6,368.7h0M139.3,369.4h0M138.0,370.1h0M136.6,370.9h0M135.3,371.6h0M134.0,372.3h0M132.7,373.0h0M117.1,382.1h0M115.8,382.8h0M118.5,450.5h0M117.1,452.0h0M115.7,453.5h0M114.3,455.0h0"/>
<path stroke="#f20000" stroke-width="1.75" d="M135.8,404.8h0M151.4,405.5h0M154.7,392.9h0M133.5,392.4h0"/>
<path stroke="#0000ed" stroke-width="1.75" d="M133.7,407.5h0M154.6,406.8h0M112.7,409.3h0"/>
<path stroke="#e50000" stroke-width="1.3" d="M137.6,406.8h0M150.2,406.8h0M153.0,390.9h0M140.4,433.2h0M141.8,433.9h0M143.1,434.6h0M144.4,434.8h0M145.7,434.1h0M147.0,433.4h0M145.9,368.0h0M144.5,367.2h0M143.2,367.3h0M141.9,368.0h0M156.7,353.7h0M158.0,352.5h0M159.4,351.2h0M160.7,349.9h0M162.1,348.5h0M163.5,347.2h0M164.9,345.9h0M166.2,344.6h0M167.6,343.4h0M169.0,342.1h0M170.3,340.9h0M178.9,381.1h0M176.5,414.2h0M165.2,447.9h0M163.8,446.8h0M125.3,443.9h0M124.0,445.0h0M122.7,446.3h0M121.3,447.7h0M119.9,449.1h0M111.3,414.8h0M109.3,381.6h0"/>
<path stroke="#0000db" stroke-width="1.3" d="M135.3,409.2h0M152.1,409.5h0M146.4,365.9h0M145.1,365.2h0M143.7,364.6h0M142.4,365.3h0M141.1,366.0h0M141.3,431.3h0M142.6,432.0h0M143.9,432.7h0M145.2,432.0h0M146.5,431.3h0M158.3,355.0h0M159.7,353.8h0M161.0,352.5h0M162.4,351.1h0M163.8,349.8h0M165.2,348.4h0M166.6,347.2h0M167.9,345.9h0M169.3,344.6h0M170.7,343.4h0M172.0,342.2h0M173.4,341.0h0M177.8,382.9h0M163.8,449.5h0M162.5,448.3h0M126.7,445.4h0M125.4,446.6h0M124.1,447.9h0M122.7,449.2h0M121.3,450.6h0"/>
<path stroke="#0000c9" stroke-width="1.3" d="M149.3,392.1h0M138.1,392.4h0M136.7,410.3h0M150.9,410.4h0M119.3,348.7h0M120.6,349.5h0M121.8,350.3h0M123.1,351.1h0M124.4,351.9h0M125.6,352.8h0M126.8,353.7h0M128.1,354.6h0M129.4,355.5h0M130.6,356.4h0M131.9,357.2h0M133.1,358.1h0M134.4,359.1h0M135.7,360.1h0M137.0,361.1h0M138.3,362.1h0M139.5,362.9h0M140.9,363.5h0M142.3,364.0h0M143.8,364.1h0M145.3,364.0h0M146.7,363.6h0M148.1,363.0h0M149.4,362.2h0M150.6,361.3h0M151.9,360.3h0M153.2,359.3h0M154.5,358.2h0M155.8,357.1h0M157.1,356.1h0M179.2,384.0h0M180.5,384.9h0M181.8,385.7h0M183.2,386.3h0M184.6,386.9h0M185.9,387.5h0M187.3,388.0h0M188.7,388.6h0M190.1,389.2h0M191.5,389.8h0M192.9,390.3h0M194.2,390.9h0M195.6,391.5h0M197.0,392.1h0M198.4,392.7h0M199.8,393.3h0M200.5,406.1h0M199.1,406.6h0M197.7,407.0h0M196.3,407.5h0M194.9,408.0h0M193.4,408.5h0M192.0,409.0h0M190.6,409.5h0M189.2,410.0h0M187.8,410.6h0M186.4,411.2h0M185.1,411.8h0M183.7,412.4h0M182.3,413.0h0M181.0,413.7h0M179.7,414.4h0M178.4,415.3h0M165.1,450.6h0M161.2,447.2h0M159.8,446.0h0M158.5,445.0h0M157.2,444.0h0M155.9,443.1h0M154.7,442.2h0M153.4,441.3h0M152.2,440.3h0M150.9,439.4h0M149.6,438.6h0M148.3,437.8h0M146.9,437.2h0M145.5,436.8h0M144.0,436.6h0M142.5,436.7h0M141.1,437.0h0M139.6,437.4h0M138.2,438.0h0M136.9,438.6h0M135.6,439.3h0M134.3,440.1h0M133.0,440.9h0M131.7,441.7h0M130.5,442.5h0M129.3,443.4h0M128.0,444.4h0M87.1,407.2h0M88.5,407.7h0M89.9,408.1h0M91.3,408.6h0M92.8,409.1h0M94.2,409.5h0M95.6,410.0h0M97.0,410.5h0M98.4,411.0h0M99.8,411.6h0M101.2,412.1h0M102.6,412.7h0M104.0,413.3h0M105.4,413.8h0M106.8,414.4h0M108.1,415.1h0M109.4,415.9h0M86.4,393.2h0M87.9,392.7h0M89.3,392.3h0M90.8,391.9h0M92.2,391.5h0M93.6,391.1h0M95.1,390.7h0M96.5,390.2h0M97.9,389.7h0M99.3,389.2h0M100.7,388.6h0M102.1,388.1h0M103.5,387.5h0M104.9,386.9h0M106.2,386.2h0M107.5,385.5h0M108.8,384.6h0M110.0,383.7h0"/>
<path stroke="#d90000" stroke-width="1.3" d="M149.0,407.7h0M151.5,389.6h0M136.0,389.8h0M120.4,347.0h0M121.7,347.8h0M122.9,348.5h0M124.2,349.3h0M125.5,350.2h0M126.7,351.0h0M128.0,351.9h0M129.2,352.9h0M130.5,353.8h0M131.7,354.6h0M133.0,355.5h0M134.2,356.3h0M135.5,357.3h0M136.8,358.4h0M138.1,359.4h0M139.4,360.3h0M140.7,361.1h0M142.0,361.7h0M143.5,362.1h0M145.0,362.0h0M146.4,361.5h0M147.7,360.8h0M149.0,360.0h0M150.2,359.0h0M151.5,358.0h0M152.8,356.9h0M154.1,355.8h0M155.4,354.8h0M180.4,382.3h0M181.7,383.2h0M183.0,383.9h0M184.4,384.6h0M185.7,385.1h0M187.1,385.7h0M188.5,386.3h0M189.9,386.8h0M191.3,387.4h0M192.7,388.0h0M194.1,388.6h0M195.4,389.2h0M196.8,389.8h0M198.2,390.4h0M199.6,390.9h0M201.0,391.5h0M199.8,404.1h0M198.4,404.6h0M197.0,405.1h0M195.6,405.6h0M194.2,406.0h0M192.7,406.5h0M191.3,407.0h0M189.9,407.5h0M188.5,408.1h0M187.1,408.6h0M185.7,409.2h0M184.4,409.8h0M183.0,410.5h0M181.6,411.1h0M180.3,411.7h0M179.0,412.4h0M177.7,413.2h0M166.5,449.1h0M162.5,445.6h0M161.2,444.5h0M159.9,443.4h0M158.6,442.4h0M157.3,441.5h0M156.0,440.6h0M154.8,439.7h0M153.5,438.7h0M152.2,437.8h0M151.0,437.0h0M149.7,436.2h0M148.4,435.5h0M147.0,435.0h0M145.5,434.7h0M144.0,434.5h0M142.5,434.6h0M141.0,434.9h0M139.6,435.3h0M138.2,435.8h0M136.8,436.4h0M135.5,437.0h0M134.1,437.8h0M132.9,438.5h0M131.6,439.3h0M130.3,440.1h0M129.1,441.0h0M127.8,441.9h0M126.6,442.8h0M87.7,405.3h0M89.2,405.7h0M90.6,406.2h0M92.0,406.7h0M93.5,407.1h0M94.9,407.6h0M96.3,408.1h0M97.7,408.6h0M99.1,409.1h0M100.5,409.6h0M101.9,410.2h0M103.3,410.8h0M104.7,411.3h0M106.1,411.9h0M107.5,412.5h0M108.8,413.1h0M110.1,413.9h0M85.8,391.2h0M87.3,390.8h0M88.7,390.4h0M90.2,390.0h0M91.6,389.5h0M93.0,389.1h0M94.5,388.7h0M95.9,388.2h0M97.3,387.7h0M98.7,387.2h0M100.1,386.7h0M101.5,386.1h0M102.9,385.5h0M104.3,384.9h0M105.6,384.2h0M106.9,383.4h0M108.1,382.6h0"/>
<path stroke="#0000c9" stroke-width="1.75" d="M173.0,392.2h0"/>
<path stroke="#0000b8" stroke-width="1.3" d="M148.0,391.3h0M139.3,391.6h0M138.0,411.1h0M149.6,411.2h0"/>
<path stroke="#cc0000" stroke-width="1.3" d="M139.0,407.9h0M150.2,388.7h0M137.3,389.0h0"/>
<path stroke="#cc0000" stroke-width="1.75" d="M175.1,392.2h0M114.8,406.6h0"/>
<path stroke="#0000a6" stroke-width="1.3" d="M146.6,390.8h0M140.7,391.0h0M139.4,411.7h0M148.2,411.7h0"/>
<path stroke="#bf0000" stroke-width="1.3" d="M140.4,408.5h0M146.3,408.9h0M147.7,408.4h0M148.8,388.1h0M147.4,387.6h0M140.0,387.7h0M138.6,388.3h0"/>
<path stroke="#000094" stroke-width="1.3" d="M145.1,390.5h0M143.7,390.4h0M142.2,390.6h0M140.8,412.1h0M142.3,412.4h0M143.8,412.5h0M145.3,412.4h0M146.8,412.1h0"/>
<path stroke="#b20000" stroke-width="1.3" d="M141.8,408.9h0M143.3,409.2h0M144.8,409.1h0M145.9,387.3h0M144.4,387.1h0M142.9,387.2h0M141.4,387.4h0"/>
<path stroke="#000082" stroke-width="1.75" d="M112.9,382.7h0M112.7,405.5h0M172.8,415.0h0"/>
<path stroke="#a60000" stroke-width="1.75" d="M174.9,416.5h0M115.0,383.8h0"/>
<path stroke="#8c0000" stroke-width="1.75" d="M175.1,396.0h0M175.0,412.7h0M114.9,387.6h0"/>
<path stroke="#00005e" stroke-width="1.75" d="M112.8,386.5h0M173.0,396.0h0"/>
<path stroke="#800000" stroke-width="1.75" d="M175.1,399.8h0M175.1,408.9h0M175.1,405.1h0M175.1,401.3h0M114.8,391.4h0M114.8,395.2h0M114.8,399.0h0M114.8,402.8h0"/>
<path stroke="#00004c" stroke-width="1.75" d="M112.7,390.3h0M112.7,394.1h0M112.7,397.9h0M112.7,401.7h0M173.0,399.8h0M172.9,411.2h0M173.0,407.4h0M173.0,403.6h0M173.0,399.8h0"/>
</g>
<defs><clipPath id="clip_e2"><rect x="238" y="342.5" width="123.7" height="114.1"/></clipPath></defs>
<g clip-path="url(#clip_e2)" fill="none" stroke-linecap="square">
<path stroke="#ffffff" stroke-width="1.3" d="M300.1,387.3h0M299.8,412.1h0M301.1,365.8h0M299.8,365.3h0M299.3,433.8h0M300.6,433.9h0M300.7,367.9h0M299.4,367.8h0M299.9,431.8h0"/>
<path stroke="#e5e5ff" stroke-width="1.3" d="M299.4,390.5h0M302.4,366.5h0M301.9,433.1h0M303.3,432.4h0M298.1,368.6h0M296.7,369.3h0M297.2,430.4h0M298.5,431.1h0M300.6,433.7h0"/>
<path stroke="#ffe5e5" stroke-width="1.3" d="M300.5,408.9h0M298.5,366.0h0M297.2,366.7h0M296.7,432.4h0M298.0,433.1h0M303.3,369.3h0M302.0,368.6h0M301.2,431.3h0M302.5,430.5h0M299.5,364.8h0M299.1,433.7h0"/>
<path stroke="#ffcccc" stroke-width="1.3" d="M300.9,390.6h0M298.6,387.4h0M298.3,412.0h0M295.8,367.5h0M294.5,368.2h0M295.4,431.7h0M304.6,370.1h0M303.8,429.8h0M305.1,429.1h0M300.6,362.7h0M300.6,435.7h0"/>
<path stroke="#ccccff" stroke-width="1.3" d="M299.0,408.8h0M301.6,387.4h0M301.3,412.0h0M305.0,368.0h0M303.7,367.2h0M304.6,431.7h0M295.4,370.0h0M294.6,428.9h0M295.9,429.7h0M301.0,364.7h0M299.1,435.7h0"/>
<path stroke="#ffb3b3" stroke-width="1.3" d="M302.0,408.7h0M293.2,368.9h0M292.8,430.2h0M294.1,430.9h0M307.2,371.5h0M305.9,370.8h0M306.4,428.4h0M297.6,433.9h0"/>
<path stroke="#b2b2ff" stroke-width="1.3" d="M307.7,369.4h0M306.4,368.7h0M305.9,431.0h0M307.2,430.2h0M294.1,370.7h0M292.8,371.5h0M293.3,428.2h0M299.1,362.7h0"/>
<path stroke="#ff9999" stroke-width="1.3" d="M302.4,390.8h0M297.1,387.6h0M296.8,411.7h0M291.9,369.7h0M290.6,370.4h0M290.1,428.7h0M291.4,429.5h0M308.6,372.2h0M307.7,427.6h0M309.0,426.9h0M245.5,390.8h0"/>
<path stroke="#9999ff" stroke-width="1.3" d="M297.9,390.8h0M297.5,408.5h0M303.1,387.7h0M302.8,411.8h0M309.0,370.2h0M308.5,429.5h0M309.8,428.8h0M291.5,372.2h0M290.7,426.7h0M292.0,427.5h0M297.7,436.0h0M302.0,433.9h0M246.1,392.8h0"/>
<path stroke="#8080ff" stroke-width="1.3" d="M304.2,411.4h0M311.6,371.6h0M310.3,370.9h0M311.1,428.0h0M290.2,372.9h0M288.9,373.7h0M289.4,426.0h0M302.4,364.4h0M353.1,406.3h0M351.7,406.8h0M350.3,407.3h0M348.9,407.8h0M296.2,436.4h0M245.9,405.0h0M247.3,405.5h0M248.8,406.0h0M250.2,406.5h0M251.6,406.9h0M253.0,407.4h0M254.4,407.9h0M244.6,393.2h0M247.5,392.4h0M249.0,392.0h0M250.4,391.5h0M251.8,391.1h0M253.3,390.7h0"/>
<path stroke="#ff8080" stroke-width="1.3" d="M289.3,371.1h0M288.0,371.9h0M288.8,428.0h0M311.2,373.7h0M309.9,373.0h0M310.3,426.1h0M298.0,364.5h0M352.5,404.4h0M351.0,404.9h0M349.6,405.4h0M348.2,405.9h0M302.1,436.0h0M296.1,434.3h0M245.3,407.0h0M246.7,407.4h0M248.1,407.9h0M249.5,408.4h0M251.0,408.8h0M252.4,409.3h0M253.8,409.8h0M244.1,391.3h0M246.9,390.4h0M248.4,390.0h0M249.8,389.6h0M251.3,389.2h0M252.7,388.7h0"/>
<path stroke="#6666ff" stroke-width="1.3" d="M296.5,391.2h0M304.5,388.1h0M314.2,373.1h0M312.9,372.4h0M312.4,427.3h0M313.7,426.5h0M287.6,374.4h0M286.8,424.5h0M288.1,425.2h0M341.1,385.7h0M342.4,386.2h0M343.8,386.8h0M354.6,405.9h0M347.5,408.3h0M346.1,408.8h0M344.6,409.3h0M343.2,409.8h0M303.5,434.3h0M255.9,408.4h0M257.3,408.9h0M258.7,409.5h0M261.4,410.6h0M262.8,411.2h0M254.7,390.2h0M256.1,389.7h0M257.5,389.1h0M258.9,388.6h0"/>
<path stroke="#ff6666" stroke-width="1.3" d="M303.4,408.2h0M295.7,388.1h0M295.4,411.2h0M286.7,372.6h0M286.2,426.5h0M287.5,427.3h0M312.5,374.5h0M311.6,425.4h0M312.9,424.7h0M302.1,362.3h0M340.1,387.4h0M341.5,388.0h0M342.8,388.6h0M353.9,403.9h0M346.8,406.4h0M345.4,406.9h0M344.0,407.4h0M342.6,407.9h0M294.7,434.8h0M255.2,410.3h0M256.6,410.8h0M258.0,411.4h0M260.8,412.6h0M262.2,413.1h0M254.1,388.2h0M255.5,387.7h0M256.9,387.2h0M258.3,386.6h0"/>
<path stroke="#ff4c4c" stroke-width="1.3" d="M303.8,391.3h0M294.3,388.7h0M285.4,373.4h0M284.1,374.1h0M283.6,425.0h0M284.9,425.8h0M315.1,376.0h0M313.8,375.2h0M314.2,423.9h0M296.6,364.0h0M337.3,386.2h0M338.7,386.9h0M344.2,389.2h0M345.6,389.8h0M347.0,390.4h0M348.3,391.0h0M349.7,391.5h0M351.1,392.1h0M352.5,392.7h0M353.9,393.3h0M341.2,408.5h0M339.8,409.1h0M338.5,409.8h0M337.1,410.4h0M335.7,411.0h0M303.5,436.5h0M293.3,435.4h0M259.4,412.0h0M263.5,413.7h0M259.7,386.1h0M261.1,385.5h0"/>
<path stroke="#4d4dff" stroke-width="1.3" d="M296.1,408.0h0M305.6,410.8h0M315.5,373.9h0M315.0,425.8h0M316.3,425.0h0M286.3,375.2h0M285.0,375.9h0M285.5,423.7h0M297.7,362.2h0M338.3,384.5h0M339.7,385.1h0M345.2,387.4h0M346.6,388.0h0M348.0,388.6h0M349.3,389.2h0M350.7,389.8h0M352.1,390.4h0M353.5,391.0h0M354.9,391.6h0M341.9,410.4h0M340.5,411.0h0M339.1,411.7h0M337.8,412.3h0M336.4,413.0h0M294.8,437.0h0M293.5,437.6h0M304.9,434.9h0M260.0,410.1h0M264.2,411.8h0M265.6,412.4h0M260.3,388.0h0M261.7,387.4h0"/>
<path stroke="#3333ff" stroke-width="1.3" d="M295.1,391.9h0M305.8,388.8h0M318.1,375.4h0M316.8,374.6h0M317.6,424.3h0M318.9,423.5h0M283.7,376.7h0M282.4,377.4h0M282.9,422.2h0M284.2,423.0h0M303.8,363.8h0M337.0,383.8h0M335.1,413.6h0M292.1,438.3h0M263.0,386.8h0M264.3,386.0h0"/>
<path stroke="#ff3333" stroke-width="1.3" d="M304.7,407.6h0M294.1,410.6h0M282.8,374.9h0M281.5,375.6h0M281.0,423.5h0M282.3,424.3h0M317.7,377.5h0M316.4,376.7h0M315.5,423.2h0M316.8,422.4h0M303.4,361.7h0M336.0,385.6h0M334.4,411.7h0M304.8,437.2h0M292.0,436.1h0M290.7,436.8h0M264.9,414.3h0M262.4,384.8h0"/>
<path stroke="#ff1a1a" stroke-width="1.3" d="M305.1,392.1h0M293.0,389.5h0M292.8,409.8h0M280.2,376.4h0M278.9,377.2h0M278.5,422.0h0M279.8,422.7h0M318.9,378.2h0M318.1,421.6h0M319.4,420.9h0M276.3,349.7h0M277.6,350.5h0M278.8,351.3h0M280.1,352.1h0M287.6,357.5h0M288.9,358.4h0M295.3,363.2h0M334.7,384.8h0M333.1,412.5h0M306.1,438.0h0M289.4,437.6h0M288.1,438.4h0M286.9,439.2h0M266.2,415.1h0M263.7,384.0h0M265.0,383.2h0"/>
<path stroke="#1a1aff" stroke-width="1.3" d="M294.8,407.3h0M307.1,389.6h0M306.9,410.0h0M320.7,376.9h0M319.4,376.1h0M320.2,422.8h0M321.5,422.0h0M281.1,378.2h0M279.8,379.0h0M280.3,420.7h0M281.6,421.5h0M277.4,348.0h0M278.6,348.8h0M279.9,349.6h0M281.2,350.4h0M288.7,355.8h0M289.9,356.6h0M296.4,361.5h0M305.1,363.0h0M333.8,414.4h0M290.8,439.0h0M289.6,439.8h0M288.3,440.7h0M307.5,436.5h0M306.2,435.7h0M266.9,413.1h0M265.6,385.2h0"/>
<path stroke="#ff0000" stroke-width="1.3" d="M306.0,406.7h0M277.6,377.9h0M276.3,378.7h0M275.9,420.4h0M277.2,421.2h0M322.8,380.6h0M321.5,379.8h0M320.2,379.0h0M320.7,420.1h0M322.0,419.3h0M304.7,360.9h0M305.9,359.9h0M309.8,356.6h0M281.3,353.0h0M282.6,353.8h0M283.8,354.8h0M285.1,355.7h0M286.4,356.6h0M290.1,359.3h0M292.7,361.4h0M294.0,362.4h0M331.9,413.3h0M313.8,443.7h0M312.5,442.7h0M311.2,441.8h0M310.0,440.9h0M308.7,439.9h0M307.4,438.9h0M285.6,440.1h0M284.4,441.0h0"/>
<path stroke="#0000ff" stroke-width="1.3" d="M308.1,409.1h0M324.5,379.2h0M323.2,378.4h0M321.9,377.7h0M322.8,421.2h0M324.1,420.5h0M278.5,379.7h0M277.3,380.5h0M277.7,419.2h0M279.0,419.9h0M282.4,351.2h0M283.6,352.1h0M284.9,353.1h0M286.2,354.0h0M287.4,354.9h0M291.2,357.5h0M293.8,359.6h0M295.1,360.7h0M306.3,362.2h0M307.5,361.2h0M311.5,357.9h0M335.7,383.0h0M287.1,441.5h0M285.8,442.4h0M315.1,442.1h0M313.8,441.2h0M312.5,440.3h0M311.3,439.4h0M310.0,438.4h0M308.7,437.4h0M268.1,414.0h0M266.8,384.4h0"/>
<path stroke="#0000ed" stroke-width="1.3" d="M293.9,392.8h0M308.6,390.8h0M328.4,381.5h0M327.1,380.8h0M325.8,380.0h0M325.3,419.7h0M326.6,418.9h0M327.9,418.1h0M276.0,381.3h0M274.7,382.1h0M273.4,382.8h0M273.9,416.8h0M275.1,417.6h0M276.4,418.4h0M292.5,358.6h0M308.8,360.1h0M310.2,359.0h0M312.8,356.9h0M314.0,355.7h0M320.9,349.0h0M322.3,347.8h0M323.7,346.5h0M325.0,345.2h0M326.4,343.9h0M327.8,342.7h0M329.1,341.5h0M334.2,381.9h0M332.6,415.4h0M284.6,443.4h0M283.3,444.5h0M282.0,445.7h0M321.8,447.9h0M320.5,446.8h0M319.1,445.6h0M317.8,444.4h0M316.4,443.2h0M268.1,383.3h0"/>
<path stroke="#f20000" stroke-width="1.3" d="M291.8,390.4h0M291.3,408.5h0M275.1,379.5h0M273.8,380.2h0M272.5,381.0h0M273.3,418.9h0M274.6,419.7h0M325.4,382.1h0M324.1,381.3h0M323.3,418.6h0M324.6,417.8h0M325.9,417.0h0M307.2,358.9h0M308.5,357.8h0M311.1,355.6h0M312.4,354.5h0M313.8,353.2h0M319.3,347.8h0M320.7,346.5h0M322.1,345.2h0M323.4,343.9h0M324.8,342.7h0M291.4,360.3h0M333.3,383.7h0M320.4,449.5h0M319.1,448.3h0M317.8,447.1h0M316.4,445.9h0M315.1,444.8h0M283.2,441.9h0M281.9,443.0h0M280.6,444.3h0M266.2,382.3h0"/>
<path stroke="#e50000" stroke-width="1.3" d="M306.6,393.4h0M271.2,381.8h0M327.1,416.2h0M315.1,351.9h0M316.5,350.5h0M317.9,349.1h0M330.7,414.4h0M279.2,445.6h0M277.8,447.0h0M276.4,448.5h0M275.0,449.9h0M273.6,451.5h0M272.1,453.0h0M267.4,416.0h0"/>
<path stroke="#0000db" stroke-width="1.3" d="M329.2,417.4h0M315.4,354.5h0M316.7,353.1h0M318.1,351.8h0M319.5,350.4h0M280.7,447.0h0M279.3,448.4h0M277.9,449.8h0M276.5,451.3h0M275.1,452.9h0M273.6,454.4h0"/>
<path stroke="#0000db" stroke-width="1.75" d="M269.3,415.1h0"/>
<path stroke="#0000c9" stroke-width="1.75" d="M293.2,405.8h0M309.3,407.8h0M335.7,343.8h0M334.9,347.3h0M334.1,350.8h0M333.3,354.3h0M332.6,357.9h0M331.9,361.5h0M331.4,365.2h0M331.0,368.9h0M330.9,372.7h0M331.2,376.5h0M332.5,379.9h0M331.5,416.7h0M330.5,419.1h0M330.3,422.7h0M330.6,426.5h0M331.0,430.2h0M331.5,433.9h0M332.1,437.6h0M332.8,441.2h0M272.2,455.9h0M270.5,417.1h0M271.0,420.3h0M270.6,424.1h0M269.9,427.7h0M269.4,431.4h0M268.9,435.1h0M268.2,438.7h0M267.5,442.3h0M266.8,445.9h0M266.0,449.4h0M265.3,453.0h0M264.5,456.5h0M269.3,382.0h0M270.5,379.8h0M271.2,376.6h0M271.2,372.8h0M270.7,369.1h0M269.9,365.5h0M269.2,361.9h0M268.6,358.3h0M267.9,354.7h0"/>
<path stroke="#d90000" stroke-width="1.75" d="M333.8,343.3h0M332.9,346.7h0M332.1,350.2h0M331.3,353.8h0M330.6,357.3h0M330.0,360.9h0M329.4,364.6h0M329.1,368.3h0M328.9,372.1h0M329.1,375.9h0M330.0,379.5h0M331.7,382.1h0M329.5,416.0h0M328.5,418.5h0M328.2,422.1h0M328.5,425.8h0M328.9,429.6h0M329.3,433.3h0M330.0,437.0h0M330.6,440.6h0M270.8,454.5h0M269.4,456.3h0M268.5,417.6h0M268.9,420.8h0M268.4,424.5h0M267.8,428.1h0M267.3,431.8h0M266.7,435.5h0M266.1,439.1h0M265.4,442.7h0M264.6,446.3h0M263.9,449.9h0M263.1,453.4h0M262.3,457.0h0M267.4,381.1h0M268.6,379.1h0M269.2,375.9h0M269.1,372.1h0M268.5,368.4h0M267.7,364.9h0M267.1,361.3h0M266.4,357.7h0"/>
<path stroke="#0000b8" stroke-width="1.75" d="M292.7,394.1h0"/>
<path stroke="#cc0000" stroke-width="1.75" d="M307.2,405.4h0M290.6,391.7h0"/>
<path stroke="#000094" stroke-width="1.75" d="M310.3,392.8h0"/>
<path stroke="#b20000" stroke-width="1.75" d="M289.6,406.5h0"/>
<path stroke="#000082" stroke-width="1.75" d="M310.6,406.1h0"/>
<path stroke="#990000" stroke-width="1.75" d="M289.3,393.5h0M270.1,382.7h0M270.1,416.9h0M327.9,384.5h0M327.9,415.1h0"/>
<path stroke="#000070" stroke-width="1.75" d="M329.9,384.5h0M329.9,416.2h0M272.1,383.6h0M272.1,414.0h0"/>
<path stroke="#00005e" stroke-width="1.75" d="M330.0,388.3h0M330.0,412.4h0M272.1,387.4h0M272.0,410.2h0"/>
<path stroke="#8c0000" stroke-width="1.75" d="M270.1,386.5h0M270.0,390.3h0M270.0,409.3h0M270.1,413.1h0M328.0,388.3h0M327.9,411.4h0"/>
<path stroke="#800000" stroke-width="1.75" d="M309.2,399.7h0M308.4,396.0h0M308.4,403.4h0M309.2,400.3h0M288.1,396.2h0M287.6,399.6h0M288.2,403.3h0M269.9,394.1h0M269.9,397.9h0M269.9,401.7h0M269.9,405.5h0M328.1,399.7h0M328.0,395.9h0M328.0,392.1h0M328.0,407.6h0M328.0,403.8h0M328.1,400.0h0"/>
<path stroke="#00004c" stroke-width="1.75" d="M291.5,396.1h0M290.8,399.3h0M291.4,403.0h0M312.4,399.7h0M311.8,396.0h0M311.8,403.5h0M312.4,400.1h0M330.1,399.7h0M330.1,395.9h0M330.0,392.1h0M330.0,408.6h0M330.1,404.8h0M330.1,401.0h0M272.0,391.2h0M272.0,395.0h0M271.9,398.8h0M271.9,402.6h0M272.0,406.4h0"/>
</g>
<defs><clipPath id="clip_e3"><rect x="395.4" y="342" width="123.7" height="114.5"/></clipPath></defs>
<g clip-path="url(#clip_e3)" fill="none" stroke="#d6c9cc" stroke-width="1.3">
<path d="M467.1,401.2L466.3,397.5L464.5,395.0L463.0,393.7L461.6,393.0L460.2,392.6L458.7,392.3L457.2,392.4L455.8,392.7L454.4,393.2L453.1,393.9L451.9,394.9L450.7,396.4L449.6,398.9L449.4,402.4L450.6,405.8L452.4,407.9L453.8,408.9L455.2,409.5L456.6,409.9L458.1,410.1L459.6,410.0L461.1,409.6L462.4,409.0L463.7,408.2L464.9,407.1L466.1,405.3L467.0,402.5Z"/>
<path d="M470.2,401.2L469.6,397.5L468.1,394.4L466.4,392.4L465.0,391.3L463.7,390.5L462.3,389.9L460.9,389.5L459.4,389.3L457.9,389.2L456.4,389.4L454.9,389.7L453.5,390.2L452.2,390.8L450.9,391.7L449.7,392.7L448.5,394.1L447.2,396.3L446.3,399.2L446.3,402.9L447.4,406.5L449.1,409.0L450.6,410.5L452.0,411.5L453.3,412.2L454.8,412.7L456.2,413.0L457.7,413.2L459.2,413.1L460.7,412.9L462.1,412.5L463.5,411.9L464.8,411.2L466.0,410.3L467.2,409.1L468.5,407.4L469.7,404.8L470.2,401.4Z"/>
</g>
<g clip-path="url(#clip_e3)" fill="none" stroke-linecap="square">
<path stroke="#ffffff" stroke-width="1.3" d="M457.9,368.0h0M429.3,384.4h0M458.3,434.5h0M487.0,418.1h0M458.9,370.5h0M457.6,370.4h0M431.6,385.3h0M431.3,416.9h0M458.6,432.1h0M484.6,417.2h0M458.3,436.0h0M458.1,434.0h0"/>
<path stroke="#ffffff" stroke-width="1.75" d="M485.3,386.0h0M488.3,418.5h0"/>
<path stroke="#e5e5ff" stroke-width="1.3" d="M485.3,383.3h0M460.6,369.1h0M459.2,368.4h0M459.7,433.8h0M485.7,418.8h0M456.3,371.1h0M432.9,384.6h0M432.6,417.6h0M456.0,431.1h0M457.3,431.8h0"/>
<path stroke="#ffe5e5" stroke-width="1.3" d="M456.6,368.7h0M430.6,383.7h0M431.0,419.0h0M455.7,433.2h0M457.0,433.9h0M460.2,371.2h0M459.9,431.4h0M483.3,417.9h0M457.9,365.5h0M458.4,367.5h0"/>
<path stroke="#ffe5e5" stroke-width="1.75" d="M487.3,386.0h0M487.3,416.7h0M431.1,386.6h0"/>
<path stroke="#e5e5ff" stroke-width="1.75" d="M429.1,385.8h0M429.1,416.2h0M485.3,416.1h0"/>
<path stroke="#ccccff" stroke-width="1.3" d="M484.0,382.6h0M461.9,369.9h0M461.0,433.0h0M462.3,432.3h0M484.4,419.6h0M455.0,371.9h0M434.2,383.8h0M433.8,418.4h0M454.7,430.4h0"/>
<path stroke="#ffcccc" stroke-width="1.3" d="M455.3,369.4h0M433.2,382.1h0M431.9,382.9h0M432.3,419.8h0M454.4,432.5h0M482.4,383.9h0M461.5,371.9h0M461.2,430.7h0M482.0,418.7h0M490.6,383.1h0"/>
<path stroke="#b2b2ff" stroke-width="1.3" d="M482.7,381.8h0M463.2,370.6h0M463.6,431.6h0M481.8,421.1h0M483.1,420.4h0M453.7,372.6h0M435.4,383.0h0M435.1,419.2h0M436.4,420.0h0M453.3,429.7h0"/>
<path stroke="#ffb3b3" stroke-width="1.3" d="M454.0,370.2h0M452.7,370.9h0M434.4,381.3h0M433.6,420.5h0M434.9,421.3h0M453.1,431.7h0M481.1,383.1h0M462.9,372.6h0M462.5,429.9h0M480.8,419.5h0"/>
<path stroke="#ffb3b3" stroke-width="1.75" d="M431.0,413.2h0"/>
<path stroke="#9999ff" stroke-width="1.3" d="M481.4,381.0h0M480.1,380.3h0M465.8,372.0h0M464.5,371.3h0M464.9,430.9h0M480.5,421.9h0M452.3,373.3h0M451.0,374.0h0M438.0,381.5h0M436.7,382.3h0M437.7,420.7h0M452.0,428.9h0"/>
<path stroke="#ff9999" stroke-width="1.3" d="M451.3,371.6h0M435.7,380.6h0M436.2,422.1h0M450.5,430.3h0M451.8,431.0h0M479.8,382.3h0M478.5,381.6h0M464.2,373.4h0M463.9,429.2h0M465.2,428.5h0M479.5,420.3h0"/>
<path stroke="#ff9999" stroke-width="1.75" d="M487.4,389.8h0M487.3,412.9h0M431.0,390.4h0"/>
<path stroke="#9999ff" stroke-width="1.75" d="M429.1,389.6h0M429.0,412.4h0M485.4,389.8h0M485.4,412.3h0"/>
<path stroke="#8080ff" stroke-width="1.3" d="M478.8,379.5h0M477.5,378.7h0M467.1,372.8h0M466.2,430.1h0M467.5,429.4h0M477.9,423.4h0M479.2,422.7h0M449.7,374.8h0M439.3,380.7h0M439.0,421.5h0M449.4,427.5h0M450.7,428.2h0M425.8,383.9h0"/>
<path stroke="#ff8080" stroke-width="1.3" d="M450.0,372.3h0M448.7,373.1h0M438.3,379.1h0M437.0,379.8h0M437.4,422.8h0M438.7,423.6h0M449.1,429.6h0M477.2,380.8h0M466.8,374.8h0M465.5,374.1h0M466.5,427.7h0M476.9,421.8h0M478.2,421.0h0M427.7,384.8h0"/>
<path stroke="#ff8080" stroke-width="1.75" d="M486.3,418.1h0M427.1,382.4h0"/>
<path stroke="#6666ff" stroke-width="1.3" d="M476.2,378.0h0M474.9,377.2h0M473.6,376.5h0M472.3,375.7h0M471.0,375.0h0M469.7,374.2h0M468.4,373.5h0M468.8,428.7h0M470.1,427.9h0M471.4,427.2h0M472.8,426.4h0M474.1,425.7h0M475.3,424.9h0M476.6,424.2h0M448.4,375.5h0M447.1,376.2h0M445.8,377.0h0M444.5,377.7h0M443.2,378.5h0M441.9,379.2h0M440.6,380.0h0M440.3,422.2h0M441.6,423.0h0M442.9,423.7h0M444.2,424.5h0M445.5,425.2h0M446.8,426.0h0M448.1,426.7h0M459.4,365.4h0"/>
<path stroke="#ff6666" stroke-width="1.3" d="M447.4,373.8h0M446.1,374.6h0M444.8,375.3h0M443.5,376.0h0M442.2,376.8h0M440.9,377.5h0M439.6,378.3h0M440.0,424.3h0M441.3,425.1h0M442.6,425.9h0M443.9,426.6h0M445.2,427.3h0M446.5,428.1h0M447.8,428.8h0M475.9,380.0h0M474.6,379.3h0M473.3,378.5h0M472.0,377.8h0M470.7,377.0h0M469.4,376.3h0M468.1,375.6h0M467.8,427.0h0M469.1,426.3h0M470.4,425.5h0M471.7,424.8h0M473.0,424.0h0M474.3,423.3h0M475.6,422.5h0"/>
<path stroke="#ff6666" stroke-width="1.75" d="M431.0,409.4h0M488.1,383.0h0M428.9,416.9h0"/>
<path stroke="#4d4dff" stroke-width="1.3" d="M456.9,367.3h0"/>
<path stroke="#ff4c4c" stroke-width="1.3" d="M456.8,436.1h0M459.6,434.1h0"/>
<path stroke="#ff4c4c" stroke-width="1.75" d="M487.4,393.6h0M487.4,409.1h0M430.9,394.2h0M427.9,419.7h0"/>
<path stroke="#4d4dff" stroke-width="1.75" d="M429.0,393.4h0M429.0,408.6h0M485.4,393.6h0M485.4,408.5h0M427.0,417.6h0"/>
<path stroke="#ff3333" stroke-width="1.3" d="M456.5,365.2h0M459.8,367.3h0"/>
<path stroke="#3333ff" stroke-width="1.3" d="M459.8,436.2h0M456.6,434.1h0"/>
<path stroke="#3333ff" stroke-width="1.75" d="M429.0,383.1h0"/>
<path stroke="#1a1aff" stroke-width="1.3" d="M489.9,385.2h0"/>
<path stroke="#ff1a1a" stroke-width="1.3" d="M489.4,416.9h0"/>
<path stroke="#ff1a1a" stroke-width="1.75" d="M487.4,397.4h0M487.4,405.3h0M430.9,398.0h0M430.9,405.6h0"/>
<path stroke="#1a1aff" stroke-width="1.75" d="M429.0,397.2h0M429.0,404.8h0M485.5,397.4h0M485.5,404.7h0M487.5,416.1h0"/>
<path stroke="#ff0000" stroke-width="1.3" d="M492.2,384.5h0"/>
<path stroke="#ff0000" stroke-width="1.75" d="M487.5,401.2h0M487.5,401.5h0M430.9,401.8h0"/>
<path stroke="#0000ff" stroke-width="1.75" d="M428.9,401.0h0M485.5,401.2h0"/>
<path stroke="#0000ed" stroke-width="1.3" d="M460.8,364.8h0M424.6,384.9h0"/>
<path stroke="#f20000" stroke-width="1.3" d="M426.5,386.0h0"/>
<path stroke="#e50000" stroke-width="1.3" d="M455.1,364.6h0M455.3,436.4h0M461.1,434.5h0M427.7,415.4h0"/>
<path stroke="#0000db" stroke-width="1.3" d="M455.4,366.9h0M461.2,436.6h0M425.8,416.4h0"/>
<path stroke="#d90000" stroke-width="1.3" d="M461.3,366.8h0M490.6,415.8h0"/>
<path stroke="#0000c9" stroke-width="1.3" d="M455.2,434.4h0"/>
<path stroke="#0000c9" stroke-width="1.75" d="M429.8,419.5h0"/>
<path stroke="#0000b8" stroke-width="1.3" d="M462.1,364.1h0M491.3,386.3h0M488.7,414.9h0M423.4,385.8h0"/>
<path stroke="#cc0000" stroke-width="1.3" d="M493.5,385.4h0M425.3,386.9h0"/>
<path stroke="#bf0000" stroke-width="1.3" d="M453.9,363.8h0M462.6,366.1h0M494.8,386.2h0M491.8,415.0h0M453.9,436.9h0M462.5,435.0h0M426.5,414.5h0"/>
<path stroke="#0000a6" stroke-width="1.3" d="M463.4,363.2h0M454.1,366.3h0M492.6,387.2h0M462.5,437.3h0M453.7,434.9h0M424.6,415.6h0"/>
<path stroke="#b20000" stroke-width="1.3" d="M452.6,362.8h0M463.9,365.3h0M496.2,386.8h0M493.1,414.2h0M452.5,437.5h0M463.8,435.7h0M425.2,413.7h0M424.0,387.7h0"/>
<path stroke="#000094" stroke-width="1.3" d="M464.6,362.2h0M452.8,365.5h0M493.9,387.9h0M489.9,413.9h0M463.8,438.0h0M452.3,435.4h0M423.2,414.9h0M420.8,387.2h0M422.1,386.5h0"/>
<path stroke="#a60000" stroke-width="1.3" d="M442.5,355.4h0M443.7,356.3h0M445.0,357.2h0M446.2,358.1h0M447.5,359.0h0M448.8,359.8h0M450.0,360.7h0M451.3,361.8h0M465.1,364.4h0M466.3,363.3h0M467.6,362.2h0M469.0,361.1h0M470.3,360.1h0M471.6,359.0h0M472.9,357.8h0M497.5,387.4h0M498.9,388.0h0M500.3,388.5h0M501.7,389.1h0M503.1,389.7h0M504.5,390.3h0M505.8,390.9h0M507.2,391.5h0M502.8,410.1h0M501.4,410.6h0M500.0,411.1h0M498.6,411.7h0M497.2,412.3h0M495.9,413.0h0M494.5,413.6h0M451.2,438.2h0M449.9,438.9h0M448.6,439.7h0M447.3,440.5h0M446.1,441.3h0M444.8,442.2h0M471.4,441.1h0M470.1,440.2h0M468.9,439.3h0M467.6,438.3h0M466.4,437.4h0M465.1,436.5h0M415.5,409.7h0M416.9,410.2h0M418.3,410.8h0M419.7,411.4h0M421.1,411.9h0M422.5,412.5h0M423.9,413.1h0M413.0,392.4h0M414.4,391.9h0M415.8,391.4h0M417.2,390.9h0M418.6,390.3h0M420.0,389.7h0M421.4,389.1h0M422.7,388.4h0"/>
<path stroke="#000082" stroke-width="1.3" d="M465.9,361.1h0M467.2,360.0h0M468.6,359.0h0M469.8,357.9h0M471.1,356.7h0M472.5,355.4h0M444.0,358.9h0M445.2,359.8h0M446.5,360.6h0M447.7,361.5h0M448.9,362.4h0M450.2,363.5h0M451.5,364.5h0M495.3,388.6h0M496.6,389.1h0M498.0,389.7h0M499.4,390.3h0M500.8,390.8h0M502.2,391.4h0M503.6,392.0h0M499.3,409.3h0M497.9,409.9h0M496.6,410.5h0M495.2,411.1h0M493.8,411.7h0M492.5,412.4h0M491.2,413.1h0M472.8,444.6h0M471.4,443.6h0M470.1,442.6h0M468.9,441.7h0M467.7,440.8h0M466.4,439.9h0M465.1,438.9h0M451.0,436.1h0M449.6,436.8h0M448.3,437.5h0M447.1,438.3h0M445.8,439.1h0M412.1,410.6h0M413.5,411.1h0M414.9,411.6h0M416.3,412.1h0M417.7,412.6h0M419.1,413.2h0M420.5,413.8h0M421.9,414.4h0M409.6,391.4h0M411.0,391.0h0M412.4,390.5h0M413.8,390.0h0M415.3,389.5h0M416.7,389.0h0M418.1,388.4h0M419.4,387.8h0"/>
<path stroke="#000082" stroke-width="1.75" d="M488.9,380.2h0"/>
<path stroke="#990000" stroke-width="1.3" d="M436.2,351.3h0M437.4,352.0h0M438.7,352.8h0M440.0,353.6h0M441.2,354.5h0M474.3,356.4h0M475.6,355.1h0M477.0,353.7h0M478.4,352.3h0M479.8,351.1h0M481.2,349.8h0M482.5,348.5h0M483.9,347.3h0M485.3,346.1h0M486.6,344.9h0M487.9,343.7h0M489.3,342.6h0M490.6,341.4h0M508.6,392.1h0M510.0,392.7h0M511.4,393.2h0M511.3,407.1h0M509.9,407.6h0M508.4,408.1h0M507.0,408.6h0M505.6,409.1h0M504.2,409.6h0M443.6,443.1h0M442.3,444.2h0M441.0,445.3h0M439.7,446.6h0M438.3,447.9h0M436.9,449.4h0M435.5,450.8h0M434.1,452.4h0M432.7,453.9h0M479.4,447.8h0M478.1,446.6h0M476.7,445.4h0M475.4,444.3h0M474.0,443.1h0M472.7,442.1h0M405.6,406.4h0M407.0,406.8h0M408.4,407.3h0M409.9,407.8h0M411.3,408.2h0M412.7,408.7h0M414.1,409.2h0M404.3,394.9h0M405.8,394.5h0M407.2,394.1h0M408.7,393.7h0M410.1,393.3h0M411.5,392.8h0"/>
<path stroke="#000070" stroke-width="1.3" d="M473.8,354.1h0M475.2,352.7h0M476.6,351.4h0M478.0,350.1h0M479.4,348.8h0M480.7,347.5h0M482.1,346.3h0M483.5,345.1h0M484.8,343.9h0M486.1,342.7h0M487.5,341.6h0M435.1,352.9h0M436.4,353.7h0M437.7,354.5h0M438.9,355.3h0M440.2,356.1h0M441.4,357.0h0M442.7,358.0h0M504.9,392.6h0M506.3,393.2h0M507.7,393.8h0M509.1,394.4h0M510.5,395.0h0M510.6,405.3h0M509.2,405.8h0M507.8,406.3h0M506.4,406.7h0M504.9,407.2h0M503.5,407.7h0M502.1,408.2h0M500.7,408.7h0M478.1,449.3h0M476.8,448.1h0M475.4,446.9h0M474.1,445.7h0M444.6,440.0h0M443.3,440.9h0M442.1,441.8h0M440.8,442.9h0M439.5,444.1h0M438.1,445.4h0M436.8,446.7h0M435.4,448.2h0M434.0,449.6h0M432.6,451.2h0M431.1,452.7h0M404.9,408.2h0M406.4,408.7h0M407.8,409.1h0M409.2,409.6h0M410.6,410.1h0M403.8,393.0h0M405.2,392.6h0M406.7,392.2h0M408.1,391.8h0"/>
<path stroke="#000070" stroke-width="1.75" d="M487.6,421.5h0"/>
<path stroke="#8c0000" stroke-width="1.75" d="M431.3,455.4h0M428.1,379.9h0"/>
<path stroke="#00005e" stroke-width="1.75" d="M429.8,454.2h0"/>
<path stroke="#00004c" stroke-width="1.75" d="M493.8,344.1h0M492.9,347.6h0M492.0,351.0h0M491.2,354.5h0M490.4,358.0h0M489.7,361.6h0M489.1,365.2h0M488.6,368.9h0M488.3,372.7h0M488.3,376.5h0M487.8,425.2h0M488.2,429.0h0M488.6,432.7h0M489.2,436.4h0M489.8,440.0h0M428.4,455.9h0M429.8,423.2h0M429.2,426.9h0M428.6,430.5h0M428.1,434.2h0M427.5,437.9h0M426.8,441.5h0M426.1,445.1h0M425.3,448.6h0M424.5,452.2h0M423.7,455.7h0M430.0,380.4h0M430.2,376.8h0M429.9,373.0h0M429.2,369.4h0M428.5,365.8h0M427.8,362.2h0M427.1,358.6h0"/>
<path stroke="#800000" stroke-width="1.75" d="M491.9,343.6h0M491.0,347.0h0M490.1,350.5h0M489.3,354.0h0M488.5,357.5h0M487.8,361.1h0M487.2,364.7h0M486.7,368.4h0M486.4,372.1h0M486.3,375.9h0M486.7,379.7h0M485.7,421.4h0M485.8,425.2h0M486.2,428.9h0M486.6,432.7h0M487.2,436.4h0M487.8,440.0h0M429.9,457.1h0M427.8,423.4h0M427.1,427.0h0M426.6,430.7h0M426.1,434.4h0M425.4,438.0h0M424.8,441.6h0M424.0,445.2h0M423.3,448.8h0M422.5,452.3h0M421.7,455.9h0M428.3,376.3h0M427.8,372.5h0M427.1,368.9h0M426.4,365.4h0M425.7,361.8h0M425.0,358.2h0"/>
</g>
<rect x="81.3" y="209.6" width="124.6" height="118.6" fill="none" stroke="#959595" stroke-width="1.0"/>
<line x1="79.3" y1="216.7" x2="81.3" y2="216.7" stroke="#444" stroke-width="0.8" />
<text x="78.1" y="218.8" font-size="8.4" font-family="Liberation Sans, sans-serif" font-weight="normal" fill="#111" text-anchor="end" stroke="#111" stroke-width="0.3" textLength="15.3" lengthAdjust="spacingAndGlyphs" >0.06</text>
<line x1="79.3" y1="234" x2="81.3" y2="234" stroke="#444" stroke-width="0.8" />
<text x="78.1" y="236.1" font-size="8.4" font-family="Liberation Sans, sans-serif" font-weight="normal" fill="#111" text-anchor="end" stroke="#111" stroke-width="0.3" textLength="15.3" lengthAdjust="spacingAndGlyphs" >0.04</text>
<line x1="79.3" y1="251.3" x2="81.3" y2="251.3" stroke="#444" stroke-width="0.8" />
<text x="78.1" y="253.4" font-size="8.4" font-family="Liberation Sans, sans-serif" font-weight="normal" fill="#111" text-anchor="end" stroke="#111" stroke-width="0.3" textLength="15.3" lengthAdjust="spacingAndGlyphs" >0.02</text>
<line x1="79.3" y1="268.6" x2="81.3" y2="268.6" stroke="#444" stroke-width="0.8" />
<text x="78.1" y="270.7" font-size="8.4" font-family="Liberation Sans, sans-serif" font-weight="normal" fill="#111" text-anchor="end" stroke="#111" stroke-width="0.3" textLength="15.3" lengthAdjust="spacingAndGlyphs" >0.00</text>
<line x1="79.3" y1="285.9" x2="81.3" y2="285.9" stroke="#444" stroke-width="0.8" />
<text x="78.1" y="288" font-size="8.4" font-family="Liberation Sans, sans-serif" font-weight="normal" fill="#111" text-anchor="end" stroke="#111" stroke-width="0.3" textLength="20.8" lengthAdjust="spacingAndGlyphs" >−0.02</text>
<line x1="79.3" y1="303.2" x2="81.3" y2="303.2" stroke="#444" stroke-width="0.8" />
<text x="78.1" y="305.3" font-size="8.4" font-family="Liberation Sans, sans-serif" font-weight="normal" fill="#111" text-anchor="end" stroke="#111" stroke-width="0.3" textLength="20.8" lengthAdjust="spacingAndGlyphs" >−0.04</text>
<line x1="79.3" y1="320.5" x2="81.3" y2="320.5" stroke="#444" stroke-width="0.8" />
<text x="78.1" y="322.6" font-size="8.4" font-family="Liberation Sans, sans-serif" font-weight="normal" fill="#111" text-anchor="end" stroke="#111" stroke-width="0.3" textLength="20.8" lengthAdjust="spacingAndGlyphs" >−0.06</text>
<line x1="100.25" y1="328.2" x2="100.25" y2="330.2" stroke="#444" stroke-width="0.8" />
<text x="100.25" y="337.9" font-size="8.4" font-family="Liberation Sans, sans-serif" font-weight="normal" fill="#111" text-anchor="middle" stroke="#111" stroke-width="0.3" textLength="20.8" lengthAdjust="spacingAndGlyphs" >−0.05</text>
<line x1="142.9" y1="328.2" x2="142.9" y2="330.2" stroke="#444" stroke-width="0.8" />
<text x="142.9" y="337.9" font-size="8.4" font-family="Liberation Sans, sans-serif" font-weight="normal" fill="#111" text-anchor="middle" stroke="#111" stroke-width="0.3" textLength="15.6" lengthAdjust="spacingAndGlyphs" >0.00</text>
<line x1="185.55" y1="328.2" x2="185.55" y2="330.2" stroke="#444" stroke-width="0.8" />
<text x="185.55" y="337.9" font-size="8.4" font-family="Liberation Sans, sans-serif" font-weight="normal" fill="#111" text-anchor="middle" stroke="#111" stroke-width="0.3" textLength="15.6" lengthAdjust="spacingAndGlyphs" >0.05</text>
<text x="140.9" y="219.5" font-size="12.5" font-family="Liberation Serif, serif" fill="#111" stroke="#111" stroke-width="0.42" text-anchor="middle" textLength="22.5" lengthAdjust="spacingAndGlyphs">&lt;S<tspan font-size="8" dy="2">x</tspan><tspan dy="-2">&gt;</tspan></text>
<rect x="237.5" y="209.8" width="124.9" height="118.7" fill="none" stroke="#959595" stroke-width="1.0"/>
<line x1="235.5" y1="214.38" x2="237.5" y2="214.38" stroke="#444" stroke-width="0.8" />
<text x="234.3" y="216.48" font-size="8.4" font-family="Liberation Sans, sans-serif" font-weight="normal" fill="#111" text-anchor="end" stroke="#111" stroke-width="0.3" textLength="15.3" lengthAdjust="spacingAndGlyphs" >0.06</text>
<line x1="235.5" y1="232.12" x2="237.5" y2="232.12" stroke="#444" stroke-width="0.8" />
<text x="234.3" y="234.22" font-size="8.4" font-family="Liberation Sans, sans-serif" font-weight="normal" fill="#111" text-anchor="end" stroke="#111" stroke-width="0.3" textLength="15.3" lengthAdjust="spacingAndGlyphs" >0.04</text>
<line x1="235.5" y1="249.86" x2="237.5" y2="249.86" stroke="#444" stroke-width="0.8" />
<text x="234.3" y="251.96" font-size="8.4" font-family="Liberation Sans, sans-serif" font-weight="normal" fill="#111" text-anchor="end" stroke="#111" stroke-width="0.3" textLength="15.3" lengthAdjust="spacingAndGlyphs" >0.02</text>
<line x1="235.5" y1="267.6" x2="237.5" y2="267.6" stroke="#444" stroke-width="0.8" />
<text x="234.3" y="269.7" font-size="8.4" font-family="Liberation Sans, sans-serif" font-weight="normal" fill="#111" text-anchor="end" stroke="#111" stroke-width="0.3" textLength="15.3" lengthAdjust="spacingAndGlyphs" >0.00</text>
<line x1="235.5" y1="285.34" x2="237.5" y2="285.34" stroke="#444" stroke-width="0.8" />
<text x="234.3" y="287.44" font-size="8.4" font-family="Liberation Sans, sans-serif" font-weight="normal" fill="#111" text-anchor="end" stroke="#111" stroke-width="0.3" textLength="20.8" lengthAdjust="spacingAndGlyphs" >−0.02</text>
<line x1="235.5" y1="303.08" x2="237.5" y2="303.08" stroke="#444" stroke-width="0.8" />
<text x="234.3" y="305.18" font-size="8.4" font-family="Liberation Sans, sans-serif" font-weight="normal" fill="#111" text-anchor="end" stroke="#111" stroke-width="0.3" textLength="20.8" lengthAdjust="spacingAndGlyphs" >−0.04</text>
<line x1="235.5" y1="320.82" x2="237.5" y2="320.82" stroke="#444" stroke-width="0.8" />
<text x="234.3" y="322.92" font-size="8.4" font-family="Liberation Sans, sans-serif" font-weight="normal" fill="#111" text-anchor="end" stroke="#111" stroke-width="0.3" textLength="20.8" lengthAdjust="spacingAndGlyphs" >−0.06</text>
<line x1="256" y1="328.5" x2="256" y2="330.5" stroke="#444" stroke-width="0.8" />
<text x="256" y="338.2" font-size="8.4" font-family="Liberation Sans, sans-serif" font-weight="normal" fill="#111" text-anchor="middle" stroke="#111" stroke-width="0.3" textLength="20.8" lengthAdjust="spacingAndGlyphs" >−0.05</text>
<line x1="299.3" y1="328.5" x2="299.3" y2="330.5" stroke="#444" stroke-width="0.8" />
<text x="299.3" y="338.2" font-size="8.4" font-family="Liberation Sans, sans-serif" font-weight="normal" fill="#111" text-anchor="middle" stroke="#111" stroke-width="0.3" textLength="15.6" lengthAdjust="spacingAndGlyphs" >0.00</text>
<line x1="342.6" y1="328.5" x2="342.6" y2="330.5" stroke="#444" stroke-width="0.8" />
<text x="342.6" y="338.2" font-size="8.4" font-family="Liberation Sans, sans-serif" font-weight="normal" fill="#111" text-anchor="middle" stroke="#111" stroke-width="0.3" textLength="15.6" lengthAdjust="spacingAndGlyphs" >0.05</text>
<text x="302.1" y="219.7" font-size="12.5" font-family="Liberation Serif, serif" fill="#111" stroke="#111" stroke-width="0.42" text-anchor="middle" textLength="22.5" lengthAdjust="spacingAndGlyphs">&lt;S<tspan font-size="8" dy="2">y</tspan><tspan dy="-2">&gt;</tspan></text>
<rect x="394.7" y="210.4" width="124.6" height="117.9" fill="none" stroke="#959595" stroke-width="1.0"/>
<line x1="392.7" y1="218.62" x2="394.7" y2="218.62" stroke="#444" stroke-width="0.8" />
<text x="391.5" y="220.72" font-size="8.4" font-family="Liberation Sans, sans-serif" font-weight="normal" fill="#111" text-anchor="end" stroke="#111" stroke-width="0.3" textLength="15.3" lengthAdjust="spacingAndGlyphs" >0.06</text>
<line x1="392.7" y1="235.78" x2="394.7" y2="235.78" stroke="#444" stroke-width="0.8" />
<text x="391.5" y="237.88" font-size="8.4" font-family="Liberation Sans, sans-serif" font-weight="normal" fill="#111" text-anchor="end" stroke="#111" stroke-width="0.3" textLength="15.3" lengthAdjust="spacingAndGlyphs" >0.04</text>
<line x1="392.7" y1="252.94" x2="394.7" y2="252.94" stroke="#444" stroke-width="0.8" />
<text x="391.5" y="255.04" font-size="8.4" font-family="Liberation Sans, sans-serif" font-weight="normal" fill="#111" text-anchor="end" stroke="#111" stroke-width="0.3" textLength="15.3" lengthAdjust="spacingAndGlyphs" >0.02</text>
<line x1="392.7" y1="270.1" x2="394.7" y2="270.1" stroke="#444" stroke-width="0.8" />
<text x="391.5" y="272.2" font-size="8.4" font-family="Liberation Sans, sans-serif" font-weight="normal" fill="#111" text-anchor="end" stroke="#111" stroke-width="0.3" textLength="15.3" lengthAdjust="spacingAndGlyphs" >0.00</text>
<line x1="392.7" y1="287.26" x2="394.7" y2="287.26" stroke="#444" stroke-width="0.8" />
<text x="391.5" y="289.36" font-size="8.4" font-family="Liberation Sans, sans-serif" font-weight="normal" fill="#111" text-anchor="end" stroke="#111" stroke-width="0.3" textLength="20.8" lengthAdjust="spacingAndGlyphs" >−0.02</text>
<line x1="392.7" y1="304.42" x2="394.7" y2="304.42" stroke="#444" stroke-width="0.8" />
<text x="391.5" y="306.52" font-size="8.4" font-family="Liberation Sans, sans-serif" font-weight="normal" fill="#111" text-anchor="end" stroke="#111" stroke-width="0.3" textLength="20.8" lengthAdjust="spacingAndGlyphs" >−0.04</text>
<line x1="392.7" y1="321.58" x2="394.7" y2="321.58" stroke="#444" stroke-width="0.8" />
<text x="391.5" y="323.68" font-size="8.4" font-family="Liberation Sans, sans-serif" font-weight="normal" fill="#111" text-anchor="end" stroke="#111" stroke-width="0.3" textLength="20.8" lengthAdjust="spacingAndGlyphs" >−0.06</text>
<line x1="414.5" y1="328.3" x2="414.5" y2="330.3" stroke="#444" stroke-width="0.8" />
<text x="414.5" y="338" font-size="8.4" font-family="Liberation Sans, sans-serif" font-weight="normal" fill="#111" text-anchor="middle" stroke="#111" stroke-width="0.3" textLength="20.8" lengthAdjust="spacingAndGlyphs" >−0.05</text>
<line x1="456.4" y1="328.3" x2="456.4" y2="330.3" stroke="#444" stroke-width="0.8" />
<text x="456.4" y="338" font-size="8.4" font-family="Liberation Sans, sans-serif" font-weight="normal" fill="#111" text-anchor="middle" stroke="#111" stroke-width="0.3" textLength="15.6" lengthAdjust="spacingAndGlyphs" >0.00</text>
<line x1="498.3" y1="328.3" x2="498.3" y2="330.3" stroke="#444" stroke-width="0.8" />
<text x="498.3" y="338" font-size="8.4" font-family="Liberation Sans, sans-serif" font-weight="normal" fill="#111" text-anchor="middle" stroke="#111" stroke-width="0.3" textLength="15.6" lengthAdjust="spacingAndGlyphs" >0.05</text>
<text x="460" y="220.3" font-size="12.5" font-family="Liberation Serif, serif" fill="#111" stroke="#111" stroke-width="0.42" text-anchor="middle" textLength="22.5" lengthAdjust="spacingAndGlyphs">&lt;S<tspan font-size="8" dy="2">z</tspan><tspan dy="-2">&gt;</tspan></text>
<rect x="80.8" y="341.4" width="125.2" height="115.6" fill="none" stroke="#959595" stroke-width="1.0"/>
<line x1="78.8" y1="343.52" x2="80.8" y2="343.52" stroke="#444" stroke-width="0.8" />
<text x="77.6" y="345.62" font-size="8.4" font-family="Liberation Sans, sans-serif" font-weight="normal" fill="#111" text-anchor="end" stroke="#111" stroke-width="0.3" textLength="15.3" lengthAdjust="spacingAndGlyphs" >0.06</text>
<line x1="78.8" y1="362.28" x2="80.8" y2="362.28" stroke="#444" stroke-width="0.8" />
<text x="77.6" y="364.38" font-size="8.4" font-family="Liberation Sans, sans-serif" font-weight="normal" fill="#111" text-anchor="end" stroke="#111" stroke-width="0.3" textLength="15.3" lengthAdjust="spacingAndGlyphs" >0.04</text>
<line x1="78.8" y1="381.04" x2="80.8" y2="381.04" stroke="#444" stroke-width="0.8" />
<text x="77.6" y="383.14" font-size="8.4" font-family="Liberation Sans, sans-serif" font-weight="normal" fill="#111" text-anchor="end" stroke="#111" stroke-width="0.3" textLength="15.3" lengthAdjust="spacingAndGlyphs" >0.02</text>
<line x1="78.8" y1="399.8" x2="80.8" y2="399.8" stroke="#444" stroke-width="0.8" />
<text x="77.6" y="401.9" font-size="8.4" font-family="Liberation Sans, sans-serif" font-weight="normal" fill="#111" text-anchor="end" stroke="#111" stroke-width="0.3" textLength="15.3" lengthAdjust="spacingAndGlyphs" >0.00</text>
<line x1="78.8" y1="418.56" x2="80.8" y2="418.56" stroke="#444" stroke-width="0.8" />
<text x="77.6" y="420.66" font-size="8.4" font-family="Liberation Sans, sans-serif" font-weight="normal" fill="#111" text-anchor="end" stroke="#111" stroke-width="0.3" textLength="20.8" lengthAdjust="spacingAndGlyphs" >−0.02</text>
<line x1="78.8" y1="437.32" x2="80.8" y2="437.32" stroke="#444" stroke-width="0.8" />
<text x="77.6" y="439.42" font-size="8.4" font-family="Liberation Sans, sans-serif" font-weight="normal" fill="#111" text-anchor="end" stroke="#111" stroke-width="0.3" textLength="20.8" lengthAdjust="spacingAndGlyphs" >−0.04</text>
<line x1="78.8" y1="456.08" x2="80.8" y2="456.08" stroke="#444" stroke-width="0.8" />
<text x="77.6" y="458.18" font-size="8.4" font-family="Liberation Sans, sans-serif" font-weight="normal" fill="#111" text-anchor="end" stroke="#111" stroke-width="0.3" textLength="20.8" lengthAdjust="spacingAndGlyphs" >−0.06</text>
<line x1="96.3" y1="457" x2="96.3" y2="459" stroke="#444" stroke-width="0.8" />
<text x="96.3" y="466.7" font-size="8.4" font-family="Liberation Sans, sans-serif" font-weight="normal" fill="#111" text-anchor="middle" stroke="#111" stroke-width="0.3" textLength="20.8" lengthAdjust="spacingAndGlyphs" >−0.05</text>
<line x1="143.9" y1="457" x2="143.9" y2="459" stroke="#444" stroke-width="0.8" />
<text x="143.9" y="466.7" font-size="8.4" font-family="Liberation Sans, sans-serif" font-weight="normal" fill="#111" text-anchor="middle" stroke="#111" stroke-width="0.3" textLength="15.6" lengthAdjust="spacingAndGlyphs" >0.00</text>
<line x1="191.5" y1="457" x2="191.5" y2="459" stroke="#444" stroke-width="0.8" />
<text x="191.5" y="466.7" font-size="8.4" font-family="Liberation Sans, sans-serif" font-weight="normal" fill="#111" text-anchor="middle" stroke="#111" stroke-width="0.3" textLength="15.6" lengthAdjust="spacingAndGlyphs" >0.05</text>
<text x="140.9" y="351.3" font-size="12.5" font-family="Liberation Serif, serif" fill="#111" stroke="#111" stroke-width="0.42" text-anchor="middle" textLength="22.5" lengthAdjust="spacingAndGlyphs">&lt;S<tspan font-size="8" dy="2">x</tspan><tspan dy="-2">&gt;</tspan></text>
<text x="146.6" y="479.3" font-size="11.5" font-family="Liberation Serif, serif" font-weight="bold" fill="#111" stroke="#111" stroke-width="0.3" text-anchor="middle">k<tspan font-size="8" dy="2">x</tspan><tspan dy="-2"> (2π/a) (Å</tspan><tspan font-size="7" dy="-4">-1</tspan><tspan dy="4">)</tspan></text>
<rect x="237.5" y="342" width="124.7" height="115.1" fill="none" stroke="#959595" stroke-width="1.0"/>
<line x1="235.5" y1="344.62" x2="237.5" y2="344.62" stroke="#444" stroke-width="0.8" />
<text x="234.3" y="346.72" font-size="8.4" font-family="Liberation Sans, sans-serif" font-weight="normal" fill="#111" text-anchor="end" stroke="#111" stroke-width="0.3" textLength="15.3" lengthAdjust="spacingAndGlyphs" >0.06</text>
<line x1="235.5" y1="362.98" x2="237.5" y2="362.98" stroke="#444" stroke-width="0.8" />
<text x="234.3" y="365.08" font-size="8.4" font-family="Liberation Sans, sans-serif" font-weight="normal" fill="#111" text-anchor="end" stroke="#111" stroke-width="0.3" textLength="15.3" lengthAdjust="spacingAndGlyphs" >0.04</text>
<line x1="235.5" y1="381.34" x2="237.5" y2="381.34" stroke="#444" stroke-width="0.8" />
<text x="234.3" y="383.44" font-size="8.4" font-family="Liberation Sans, sans-serif" font-weight="normal" fill="#111" text-anchor="end" stroke="#111" stroke-width="0.3" textLength="15.3" lengthAdjust="spacingAndGlyphs" >0.02</text>
<line x1="235.5" y1="399.7" x2="237.5" y2="399.7" stroke="#444" stroke-width="0.8" />
<text x="234.3" y="401.8" font-size="8.4" font-family="Liberation Sans, sans-serif" font-weight="normal" fill="#111" text-anchor="end" stroke="#111" stroke-width="0.3" textLength="15.3" lengthAdjust="spacingAndGlyphs" >0.00</text>
<line x1="235.5" y1="418.06" x2="237.5" y2="418.06" stroke="#444" stroke-width="0.8" />
<text x="234.3" y="420.16" font-size="8.4" font-family="Liberation Sans, sans-serif" font-weight="normal" fill="#111" text-anchor="end" stroke="#111" stroke-width="0.3" textLength="20.8" lengthAdjust="spacingAndGlyphs" >−0.02</text>
<line x1="235.5" y1="436.42" x2="237.5" y2="436.42" stroke="#444" stroke-width="0.8" />
<text x="234.3" y="438.52" font-size="8.4" font-family="Liberation Sans, sans-serif" font-weight="normal" fill="#111" text-anchor="end" stroke="#111" stroke-width="0.3" textLength="20.8" lengthAdjust="spacingAndGlyphs" >−0.04</text>
<line x1="235.5" y1="454.78" x2="237.5" y2="454.78" stroke="#444" stroke-width="0.8" />
<text x="234.3" y="456.88" font-size="8.4" font-family="Liberation Sans, sans-serif" font-weight="normal" fill="#111" text-anchor="end" stroke="#111" stroke-width="0.3" textLength="20.8" lengthAdjust="spacingAndGlyphs" >−0.06</text>
<line x1="254.15" y1="457.1" x2="254.15" y2="459.1" stroke="#444" stroke-width="0.8" />
<text x="254.15" y="466.8" font-size="8.4" font-family="Liberation Sans, sans-serif" font-weight="normal" fill="#111" text-anchor="middle" stroke="#111" stroke-width="0.3" textLength="20.8" lengthAdjust="spacingAndGlyphs" >−0.05</text>
<line x1="300" y1="457.1" x2="300" y2="459.1" stroke="#444" stroke-width="0.8" />
<text x="300" y="466.8" font-size="8.4" font-family="Liberation Sans, sans-serif" font-weight="normal" fill="#111" text-anchor="middle" stroke="#111" stroke-width="0.3" textLength="15.6" lengthAdjust="spacingAndGlyphs" >0.00</text>
<line x1="345.85" y1="457.1" x2="345.85" y2="459.1" stroke="#444" stroke-width="0.8" />
<text x="345.85" y="466.8" font-size="8.4" font-family="Liberation Sans, sans-serif" font-weight="normal" fill="#111" text-anchor="middle" stroke="#111" stroke-width="0.3" textLength="15.6" lengthAdjust="spacingAndGlyphs" >0.05</text>
<text x="302.1" y="351.9" font-size="12.5" font-family="Liberation Serif, serif" fill="#111" stroke="#111" stroke-width="0.42" text-anchor="middle" textLength="22.5" lengthAdjust="spacingAndGlyphs">&lt;S<tspan font-size="8" dy="2">y</tspan><tspan dy="-2">&gt;</tspan></text>
<text x="289.85" y="479.4" font-size="11.5" font-family="Liberation Serif, serif" font-weight="bold" fill="#111" stroke="#111" stroke-width="0.3" text-anchor="middle">k<tspan font-size="8" dy="2">x</tspan><tspan dy="-2"> (2π/a) (Å</tspan><tspan font-size="7" dy="-4">-1</tspan><tspan dy="4">)</tspan></text>
<rect x="394.9" y="341.5" width="124.7" height="115.5" fill="none" stroke="#959595" stroke-width="1.0"/>
<line x1="392.9" y1="347.98" x2="394.9" y2="347.98" stroke="#444" stroke-width="0.8" />
<text x="391.7" y="350.08" font-size="8.4" font-family="Liberation Sans, sans-serif" font-weight="normal" fill="#111" text-anchor="end" stroke="#111" stroke-width="0.3" textLength="15.3" lengthAdjust="spacingAndGlyphs" >0.06</text>
<line x1="392.9" y1="365.72" x2="394.9" y2="365.72" stroke="#444" stroke-width="0.8" />
<text x="391.7" y="367.82" font-size="8.4" font-family="Liberation Sans, sans-serif" font-weight="normal" fill="#111" text-anchor="end" stroke="#111" stroke-width="0.3" textLength="15.3" lengthAdjust="spacingAndGlyphs" >0.04</text>
<line x1="392.9" y1="383.46" x2="394.9" y2="383.46" stroke="#444" stroke-width="0.8" />
<text x="391.7" y="385.56" font-size="8.4" font-family="Liberation Sans, sans-serif" font-weight="normal" fill="#111" text-anchor="end" stroke="#111" stroke-width="0.3" textLength="15.3" lengthAdjust="spacingAndGlyphs" >0.02</text>
<line x1="392.9" y1="401.2" x2="394.9" y2="401.2" stroke="#444" stroke-width="0.8" />
<text x="391.7" y="403.3" font-size="8.4" font-family="Liberation Sans, sans-serif" font-weight="normal" fill="#111" text-anchor="end" stroke="#111" stroke-width="0.3" textLength="15.3" lengthAdjust="spacingAndGlyphs" >0.00</text>
<line x1="392.9" y1="418.94" x2="394.9" y2="418.94" stroke="#444" stroke-width="0.8" />
<text x="391.7" y="421.04" font-size="8.4" font-family="Liberation Sans, sans-serif" font-weight="normal" fill="#111" text-anchor="end" stroke="#111" stroke-width="0.3" textLength="20.8" lengthAdjust="spacingAndGlyphs" >−0.02</text>
<line x1="392.9" y1="436.68" x2="394.9" y2="436.68" stroke="#444" stroke-width="0.8" />
<text x="391.7" y="438.78" font-size="8.4" font-family="Liberation Sans, sans-serif" font-weight="normal" fill="#111" text-anchor="end" stroke="#111" stroke-width="0.3" textLength="20.8" lengthAdjust="spacingAndGlyphs" >−0.04</text>
<line x1="392.9" y1="454.42" x2="394.9" y2="454.42" stroke="#444" stroke-width="0.8" />
<text x="391.7" y="456.52" font-size="8.4" font-family="Liberation Sans, sans-serif" font-weight="normal" fill="#111" text-anchor="end" stroke="#111" stroke-width="0.3" textLength="20.8" lengthAdjust="spacingAndGlyphs" >−0.06</text>
<line x1="413.6" y1="457" x2="413.6" y2="459" stroke="#444" stroke-width="0.8" />
<text x="413.6" y="466.7" font-size="8.4" font-family="Liberation Sans, sans-serif" font-weight="normal" fill="#111" text-anchor="middle" stroke="#111" stroke-width="0.3" textLength="20.8" lengthAdjust="spacingAndGlyphs" >−0.05</text>
<line x1="458.2" y1="457" x2="458.2" y2="459" stroke="#444" stroke-width="0.8" />
<text x="458.2" y="466.7" font-size="8.4" font-family="Liberation Sans, sans-serif" font-weight="normal" fill="#111" text-anchor="middle" stroke="#111" stroke-width="0.3" textLength="15.6" lengthAdjust="spacingAndGlyphs" >0.00</text>
<line x1="502.8" y1="457" x2="502.8" y2="459" stroke="#444" stroke-width="0.8" />
<text x="502.8" y="466.7" font-size="8.4" font-family="Liberation Sans, sans-serif" font-weight="normal" fill="#111" text-anchor="middle" stroke="#111" stroke-width="0.3" textLength="15.6" lengthAdjust="spacingAndGlyphs" >0.05</text>
<text x="460" y="351.4" font-size="12.5" font-family="Liberation Serif, serif" fill="#111" stroke="#111" stroke-width="0.42" text-anchor="middle" textLength="22.5" lengthAdjust="spacingAndGlyphs">&lt;S<tspan font-size="8" dy="2">z</tspan><tspan dy="-2">&gt;</tspan></text>
<text x="468.25" y="479.3" font-size="11.5" font-family="Liberation Serif, serif" font-weight="bold" fill="#111" stroke="#111" stroke-width="0.3" text-anchor="middle">k<tspan font-size="8" dy="2">x</tspan><tspan dy="-2"> (2π/a) (Å</tspan><tspan font-size="7" dy="-4">-1</tspan><tspan dy="4">)</tspan></text>
<text x="27.3" y="218.9" font-size="15.2" font-family="Liberation Serif, serif" font-weight="bold" fill="#111" text-anchor="start" stroke="#111" stroke-width="0.3" textLength="17" lengthAdjust="spacingAndGlyphs" >(d)</text>
<text x="27" y="352.2" font-size="15.2" font-family="Liberation Serif, serif" font-weight="bold" fill="#111" text-anchor="start" stroke="#111" stroke-width="0.3" textLength="15.6" lengthAdjust="spacingAndGlyphs" >(e)</text>
<text transform="translate(52.0,266.5) rotate(-90)" font-size="12" font-family="Liberation Serif, serif" font-weight="bold" fill="#111" stroke="#111" stroke-width="0.3" text-anchor="middle">k<tspan font-size="8" dy="2">y</tspan><tspan dy="-2"> (2π/b) (Å</tspan><tspan font-size="7" dy="-4">-1</tspan><tspan dy="4">)</tspan></text>
<text transform="translate(52.0,400.2) rotate(-90)" font-size="12" font-family="Liberation Serif, serif" font-weight="bold" fill="#111" stroke="#111" stroke-width="0.3" text-anchor="middle">k<tspan font-size="8" dy="2">y</tspan><tspan dy="-2"> (2π/b) (Å</tspan><tspan font-size="7" dy="-4">-1</tspan><tspan dy="4">)</tspan></text>
</svg></body></html>
